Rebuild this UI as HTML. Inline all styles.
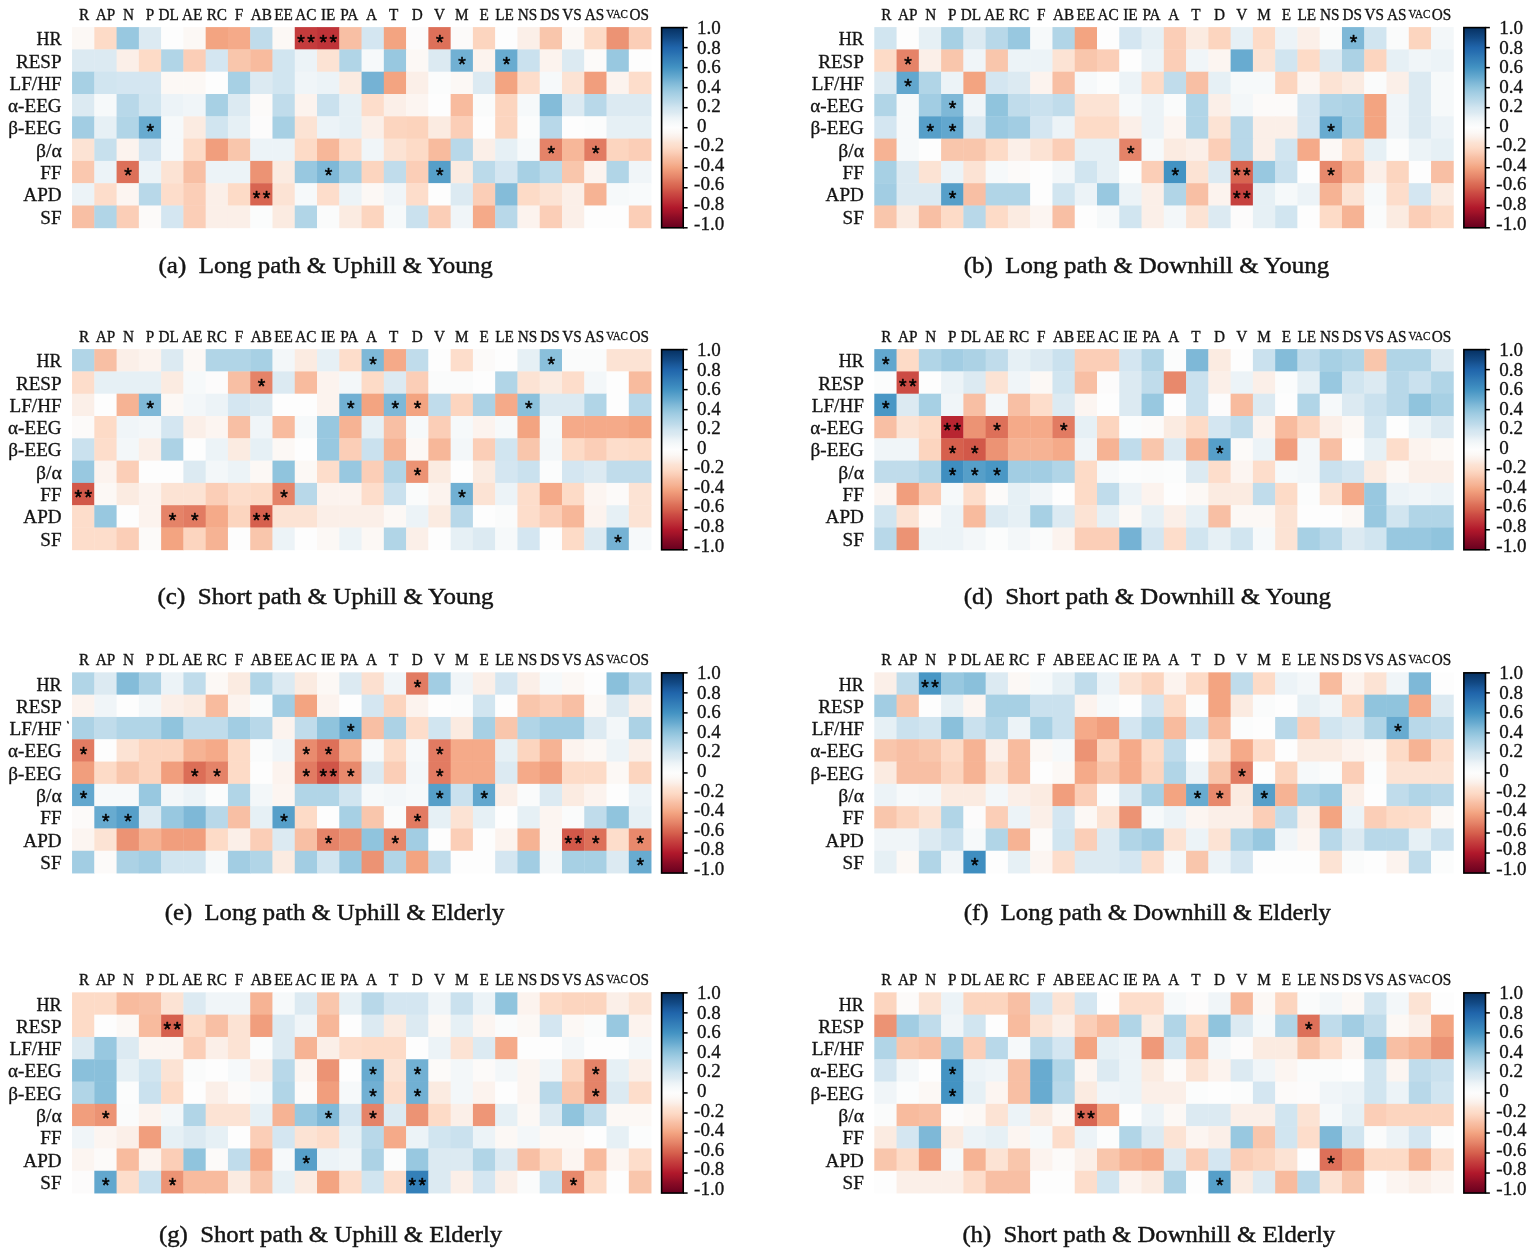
<!DOCTYPE html>
<html><head><meta charset="utf-8"><title>Correlation heatmaps</title>
<style>
html,body{margin:0;padding:0;background:#fff;}
body{width:1535px;height:1253px;overflow:hidden;position:relative;}
svg{position:absolute;left:0;top:0;}
text{font-family:"Liberation Serif","Times New Roman",serif;fill:#141414;}
.cl{stroke:#141414;stroke-width:0.35px;}
.rl{stroke:#141414;stroke-width:0.3px;}
.tl{stroke:#141414;stroke-width:0.3px;}
.cap{stroke:#141414;stroke-width:0.45px;}
.st{font-family:"Liberation Sans",Arial,sans-serif;font-size:19.4px;font-weight:normal;fill:#000;stroke:#000;stroke-width:0.55px;stroke-linejoin:round;}
</style></head><body>
<svg width="1535" height="1253" viewBox="0 0 1535 1253">
<defs><linearGradient id="cb" x1="0" y1="0" x2="0" y2="1">
<stop offset="0.000" stop-color="#053061"/>
<stop offset="0.025" stop-color="#0c3d73"/>
<stop offset="0.050" stop-color="#124984"/>
<stop offset="0.075" stop-color="#1a5899"/>
<stop offset="0.100" stop-color="#2065ab"/>
<stop offset="0.125" stop-color="#2870b1"/>
<stop offset="0.150" stop-color="#327cb7"/>
<stop offset="0.175" stop-color="#3a87bd"/>
<stop offset="0.200" stop-color="#4393c3"/>
<stop offset="0.225" stop-color="#569fc9"/>
<stop offset="0.250" stop-color="#68abd0"/>
<stop offset="0.275" stop-color="#7eb8d7"/>
<stop offset="0.300" stop-color="#90c4dd"/>
<stop offset="0.325" stop-color="#a2cde3"/>
<stop offset="0.350" stop-color="#b1d5e7"/>
<stop offset="0.375" stop-color="#c0dceb"/>
<stop offset="0.400" stop-color="#d1e5f0"/>
<stop offset="0.425" stop-color="#dceaf2"/>
<stop offset="0.450" stop-color="#ecf3f7"/>
<stop offset="0.475" stop-color="#f6f9fa"/>
<stop offset="0.500" stop-color="#fdfdfd"/>
<stop offset="0.525" stop-color="#fcf8f5"/>
<stop offset="0.550" stop-color="#fbefe8"/>
<stop offset="0.575" stop-color="#fce3d4"/>
<stop offset="0.600" stop-color="#fddbc7"/>
<stop offset="0.625" stop-color="#fbceb7"/>
<stop offset="0.650" stop-color="#f8bfa4"/>
<stop offset="0.675" stop-color="#f6b394"/>
<stop offset="0.700" stop-color="#f3a481"/>
<stop offset="0.725" stop-color="#ec9374"/>
<stop offset="0.750" stop-color="#e58368"/>
<stop offset="0.775" stop-color="#dd7059"/>
<stop offset="0.800" stop-color="#d6604d"/>
<stop offset="0.825" stop-color="#cc4c44"/>
<stop offset="0.850" stop-color="#c43b3c"/>
<stop offset="0.875" stop-color="#bb2a34"/>
<stop offset="0.900" stop-color="#b1182b"/>
<stop offset="0.925" stop-color="#9f1228"/>
<stop offset="0.950" stop-color="#8a0b25"/>
<stop offset="0.975" stop-color="#790622"/>
<stop offset="1.000" stop-color="#67001f"/>
</linearGradient></defs>
<rect x="0" y="0" width="1535" height="1253" fill="#ffffff"/>
<g><rect x="72.05" y="27.10" width="22.67" height="22.70" fill="#fcf8f5"/><rect x="94.32" y="27.10" width="22.67" height="22.70" fill="#fddbc7"/><rect x="116.59" y="27.10" width="22.67" height="22.70" fill="#98c8e0"/><rect x="138.86" y="27.10" width="22.67" height="22.70" fill="#dceaf2"/><rect x="161.13" y="27.10" width="22.67" height="22.70" fill="#fdfdfd"/><rect x="183.40" y="27.10" width="22.67" height="22.70" fill="#fcf8f5"/><rect x="205.67" y="27.10" width="22.67" height="22.70" fill="#f3a481"/><rect x="227.94" y="27.10" width="22.67" height="22.70" fill="#f5aa89"/><rect x="250.21" y="27.10" width="22.67" height="22.70" fill="#c0dceb"/><rect x="272.48" y="27.10" width="22.67" height="22.70" fill="#fcf8f5"/><rect x="294.75" y="27.10" width="22.67" height="22.70" fill="#c43b3c"/><rect x="317.02" y="27.10" width="22.67" height="22.70" fill="#bf3338"/><rect x="339.29" y="27.10" width="22.67" height="22.70" fill="#f8bfa4"/><rect x="361.56" y="27.10" width="22.67" height="22.70" fill="#d4e6f1"/><rect x="383.83" y="27.10" width="22.67" height="22.70" fill="#f3a481"/><rect x="406.10" y="27.10" width="22.67" height="22.70" fill="#fcfbfb"/><rect x="428.37" y="27.10" width="22.67" height="22.70" fill="#dd7059"/><rect x="450.64" y="27.10" width="22.67" height="22.70" fill="#fcfaf9"/><rect x="472.91" y="27.10" width="22.67" height="22.70" fill="#fcd5bf"/><rect x="495.18" y="27.10" width="22.67" height="22.70" fill="#fdfdfd"/><rect x="517.45" y="27.10" width="22.67" height="22.70" fill="#fbefe8"/><rect x="539.72" y="27.10" width="22.67" height="22.70" fill="#f9c6ac"/><rect x="561.99" y="27.10" width="22.67" height="22.70" fill="#fcf8f5"/><rect x="584.26" y="27.10" width="22.67" height="22.70" fill="#fddbc7"/><rect x="606.53" y="27.10" width="22.67" height="22.70" fill="#ec9374"/><rect x="628.80" y="27.10" width="22.67" height="22.70" fill="#fbceb7"/><rect x="72.05" y="49.40" width="22.67" height="22.70" fill="#dceaf2"/><rect x="94.32" y="49.40" width="22.67" height="22.70" fill="#dceaf2"/><rect x="116.59" y="49.40" width="22.67" height="22.70" fill="#fbefe8"/><rect x="138.86" y="49.40" width="22.67" height="22.70" fill="#fddbc7"/><rect x="161.13" y="49.40" width="22.67" height="22.70" fill="#b1d5e7"/><rect x="183.40" y="49.40" width="22.67" height="22.70" fill="#fbceb7"/><rect x="205.67" y="49.40" width="22.67" height="22.70" fill="#d4e6f1"/><rect x="227.94" y="49.40" width="22.67" height="22.70" fill="#f9c6ac"/><rect x="250.21" y="49.40" width="22.67" height="22.70" fill="#f8bb9e"/><rect x="272.48" y="49.40" width="22.67" height="22.70" fill="#d1e5f0"/><rect x="294.75" y="49.40" width="22.67" height="22.70" fill="#ecf3f7"/><rect x="317.02" y="49.40" width="22.67" height="22.70" fill="#fce3d4"/><rect x="339.29" y="49.40" width="22.67" height="22.70" fill="#b1d5e7"/><rect x="361.56" y="49.40" width="22.67" height="22.70" fill="#f6f9fa"/><rect x="383.83" y="49.40" width="22.67" height="22.70" fill="#98c8e0"/><rect x="406.10" y="49.40" width="22.67" height="22.70" fill="#fcf8f5"/><rect x="428.37" y="49.40" width="22.67" height="22.70" fill="#dceaf2"/><rect x="450.64" y="49.40" width="22.67" height="22.70" fill="#71b0d3"/><rect x="472.91" y="49.40" width="22.67" height="22.70" fill="#fcf3ee"/><rect x="495.18" y="49.40" width="22.67" height="22.70" fill="#68abd0"/><rect x="517.45" y="49.40" width="22.67" height="22.70" fill="#cae1ee"/><rect x="539.72" y="49.40" width="22.67" height="22.70" fill="#fcf3ee"/><rect x="561.99" y="49.40" width="22.67" height="22.70" fill="#dceaf2"/><rect x="584.26" y="49.40" width="22.67" height="22.70" fill="#fcfaf9"/><rect x="606.53" y="49.40" width="22.67" height="22.70" fill="#98c8e0"/><rect x="628.80" y="49.40" width="22.67" height="22.70" fill="#fdfdfd"/><rect x="72.05" y="71.70" width="22.67" height="22.70" fill="#a7d0e4"/><rect x="94.32" y="71.70" width="22.67" height="22.70" fill="#d1e5f0"/><rect x="116.59" y="71.70" width="22.67" height="22.70" fill="#d4e6f1"/><rect x="138.86" y="71.70" width="22.67" height="22.70" fill="#d4e6f1"/><rect x="161.13" y="71.70" width="22.67" height="22.70" fill="#fcf8f5"/><rect x="183.40" y="71.70" width="22.67" height="22.70" fill="#fcf8f5"/><rect x="205.67" y="71.70" width="22.67" height="22.70" fill="#fdfdfd"/><rect x="227.94" y="71.70" width="22.67" height="22.70" fill="#a7d0e4"/><rect x="250.21" y="71.70" width="22.67" height="22.70" fill="#dceaf2"/><rect x="272.48" y="71.70" width="22.67" height="22.70" fill="#d1e5f0"/><rect x="294.75" y="71.70" width="22.67" height="22.70" fill="#f0f5f8"/><rect x="317.02" y="71.70" width="22.67" height="22.70" fill="#ecf3f7"/><rect x="339.29" y="71.70" width="22.67" height="22.70" fill="#fbebe1"/><rect x="361.56" y="71.70" width="22.67" height="22.70" fill="#75b2d4"/><rect x="383.83" y="71.70" width="22.67" height="22.70" fill="#f3a481"/><rect x="406.10" y="71.70" width="22.67" height="22.70" fill="#fbefe8"/><rect x="428.37" y="71.70" width="22.67" height="22.70" fill="#fbfcfc"/><rect x="450.64" y="71.70" width="22.67" height="22.70" fill="#fcf8f5"/><rect x="472.91" y="71.70" width="22.67" height="22.70" fill="#dceaf2"/><rect x="495.18" y="71.70" width="22.67" height="22.70" fill="#f3a481"/><rect x="517.45" y="71.70" width="22.67" height="22.70" fill="#fdddcb"/><rect x="539.72" y="71.70" width="22.67" height="22.70" fill="#f6f9fa"/><rect x="561.99" y="71.70" width="22.67" height="22.70" fill="#fce3d4"/><rect x="584.26" y="71.70" width="22.67" height="22.70" fill="#f19e7d"/><rect x="606.53" y="71.70" width="22.67" height="22.70" fill="#fcf3ee"/><rect x="628.80" y="71.70" width="22.67" height="22.70" fill="#fdddcb"/><rect x="72.05" y="94.00" width="22.67" height="22.70" fill="#dceaf2"/><rect x="94.32" y="94.00" width="22.67" height="22.70" fill="#f6f9fa"/><rect x="116.59" y="94.00" width="22.67" height="22.70" fill="#b8d8e9"/><rect x="138.86" y="94.00" width="22.67" height="22.70" fill="#d1e5f0"/><rect x="161.13" y="94.00" width="22.67" height="22.70" fill="#ecf3f7"/><rect x="183.40" y="94.00" width="22.67" height="22.70" fill="#f0f5f8"/><rect x="205.67" y="94.00" width="22.67" height="22.70" fill="#a7d0e4"/><rect x="227.94" y="94.00" width="22.67" height="22.70" fill="#dceaf2"/><rect x="250.21" y="94.00" width="22.67" height="22.70" fill="#fcfaf9"/><rect x="272.48" y="94.00" width="22.67" height="22.70" fill="#c0dceb"/><rect x="294.75" y="94.00" width="22.67" height="22.70" fill="#fcf3ee"/><rect x="317.02" y="94.00" width="22.67" height="22.70" fill="#cae1ee"/><rect x="339.29" y="94.00" width="22.67" height="22.70" fill="#e6f0f5"/><rect x="361.56" y="94.00" width="22.67" height="22.70" fill="#fdddcb"/><rect x="383.83" y="94.00" width="22.67" height="22.70" fill="#fbefe8"/><rect x="406.10" y="94.00" width="22.67" height="22.70" fill="#fcf5f1"/><rect x="428.37" y="94.00" width="22.67" height="22.70" fill="#fdfdfd"/><rect x="450.64" y="94.00" width="22.67" height="22.70" fill="#f8bb9e"/><rect x="472.91" y="94.00" width="22.67" height="22.70" fill="#fafbfb"/><rect x="495.18" y="94.00" width="22.67" height="22.70" fill="#fcd5bf"/><rect x="517.45" y="94.00" width="22.67" height="22.70" fill="#f6f9fa"/><rect x="539.72" y="94.00" width="22.67" height="22.70" fill="#84bcd9"/><rect x="561.99" y="94.00" width="22.67" height="22.70" fill="#dceaf2"/><rect x="584.26" y="94.00" width="22.67" height="22.70" fill="#b8d8e9"/><rect x="606.53" y="94.00" width="22.67" height="22.70" fill="#dceaf2"/><rect x="628.80" y="94.00" width="22.67" height="22.70" fill="#dceaf2"/><rect x="72.05" y="116.30" width="22.67" height="22.70" fill="#a2cde3"/><rect x="94.32" y="116.30" width="22.67" height="22.70" fill="#e6f0f5"/><rect x="116.59" y="116.30" width="22.67" height="22.70" fill="#b1d5e7"/><rect x="138.86" y="116.30" width="22.67" height="22.70" fill="#68abd0"/><rect x="161.13" y="116.30" width="22.67" height="22.70" fill="#f6f9fa"/><rect x="183.40" y="116.30" width="22.67" height="22.70" fill="#fbebe1"/><rect x="205.67" y="116.30" width="22.67" height="22.70" fill="#d1e5f0"/><rect x="227.94" y="116.30" width="22.67" height="22.70" fill="#e6f0f5"/><rect x="250.21" y="116.30" width="22.67" height="22.70" fill="#fcfbfb"/><rect x="272.48" y="116.30" width="22.67" height="22.70" fill="#a7d0e4"/><rect x="294.75" y="116.30" width="22.67" height="22.70" fill="#fce3d4"/><rect x="317.02" y="116.30" width="22.67" height="22.70" fill="#ecf3f7"/><rect x="339.29" y="116.30" width="22.67" height="22.70" fill="#e6f0f5"/><rect x="361.56" y="116.30" width="22.67" height="22.70" fill="#fbefe8"/><rect x="383.83" y="116.30" width="22.67" height="22.70" fill="#fcd5bf"/><rect x="406.10" y="116.30" width="22.67" height="22.70" fill="#fcd3bc"/><rect x="428.37" y="116.30" width="22.67" height="22.70" fill="#fbebe1"/><rect x="450.64" y="116.30" width="22.67" height="22.70" fill="#fbceb7"/><rect x="472.91" y="116.30" width="22.67" height="22.70" fill="#fdfdfd"/><rect x="495.18" y="116.30" width="22.67" height="22.70" fill="#fcd5bf"/><rect x="517.45" y="116.30" width="22.67" height="22.70" fill="#fbfcfc"/><rect x="539.72" y="116.30" width="22.67" height="22.70" fill="#b8d8e9"/><rect x="561.99" y="116.30" width="22.67" height="22.70" fill="#fdfdfd"/><rect x="584.26" y="116.30" width="22.67" height="22.70" fill="#fbfcfc"/><rect x="606.53" y="116.30" width="22.67" height="22.70" fill="#e6f0f5"/><rect x="628.80" y="116.30" width="22.67" height="22.70" fill="#e6f0f5"/><rect x="72.05" y="138.60" width="22.67" height="22.70" fill="#fce3d4"/><rect x="94.32" y="138.60" width="22.67" height="22.70" fill="#c7e0ed"/><rect x="116.59" y="138.60" width="22.67" height="22.70" fill="#fcf3ee"/><rect x="138.86" y="138.60" width="22.67" height="22.70" fill="#d4e6f1"/><rect x="161.13" y="138.60" width="22.67" height="22.70" fill="#f6f9fa"/><rect x="183.40" y="138.60" width="22.67" height="22.70" fill="#fddbc7"/><rect x="205.67" y="138.60" width="22.67" height="22.70" fill="#f19e7d"/><rect x="227.94" y="138.60" width="22.67" height="22.70" fill="#f9c6ac"/><rect x="250.21" y="138.60" width="22.67" height="22.70" fill="#ecf3f7"/><rect x="272.48" y="138.60" width="22.67" height="22.70" fill="#ecf3f7"/><rect x="294.75" y="138.60" width="22.67" height="22.70" fill="#fddbc7"/><rect x="317.02" y="138.60" width="22.67" height="22.70" fill="#f7b799"/><rect x="339.29" y="138.60" width="22.67" height="22.70" fill="#fdddcb"/><rect x="361.56" y="138.60" width="22.67" height="22.70" fill="#f0f5f8"/><rect x="383.83" y="138.60" width="22.67" height="22.70" fill="#fce3d4"/><rect x="406.10" y="138.60" width="22.67" height="22.70" fill="#fddbc7"/><rect x="428.37" y="138.60" width="22.67" height="22.70" fill="#f8bb9e"/><rect x="450.64" y="138.60" width="22.67" height="22.70" fill="#b8d8e9"/><rect x="472.91" y="138.60" width="22.67" height="22.70" fill="#fbefe8"/><rect x="495.18" y="138.60" width="22.67" height="22.70" fill="#e6f0f5"/><rect x="517.45" y="138.60" width="22.67" height="22.70" fill="#f6f9fa"/><rect x="539.72" y="138.60" width="22.67" height="22.70" fill="#e58368"/><rect x="561.99" y="138.60" width="22.67" height="22.70" fill="#f7b799"/><rect x="584.26" y="138.60" width="22.67" height="22.70" fill="#e27b62"/><rect x="606.53" y="138.60" width="22.67" height="22.70" fill="#fcd5bf"/><rect x="628.80" y="138.60" width="22.67" height="22.70" fill="#fbceb7"/><rect x="72.05" y="160.90" width="22.67" height="22.70" fill="#fac8af"/><rect x="94.32" y="160.90" width="22.67" height="22.70" fill="#ecf3f7"/><rect x="116.59" y="160.90" width="22.67" height="22.70" fill="#dd7059"/><rect x="138.86" y="160.90" width="22.67" height="22.70" fill="#ecf3f7"/><rect x="161.13" y="160.90" width="22.67" height="22.70" fill="#fce3d4"/><rect x="183.40" y="160.90" width="22.67" height="22.70" fill="#f8bfa4"/><rect x="205.67" y="160.90" width="22.67" height="22.70" fill="#ecf3f7"/><rect x="227.94" y="160.90" width="22.67" height="22.70" fill="#ecf3f7"/><rect x="250.21" y="160.90" width="22.67" height="22.70" fill="#ec9374"/><rect x="272.48" y="160.90" width="22.67" height="22.70" fill="#fbebe1"/><rect x="294.75" y="160.90" width="22.67" height="22.70" fill="#98c8e0"/><rect x="317.02" y="160.90" width="22.67" height="22.70" fill="#7eb8d7"/><rect x="339.29" y="160.90" width="22.67" height="22.70" fill="#a7d0e4"/><rect x="361.56" y="160.90" width="22.67" height="22.70" fill="#fcd5bf"/><rect x="383.83" y="160.90" width="22.67" height="22.70" fill="#c0dceb"/><rect x="406.10" y="160.90" width="22.67" height="22.70" fill="#fbceb7"/><rect x="428.37" y="160.90" width="22.67" height="22.70" fill="#569fc9"/><rect x="450.64" y="160.90" width="22.67" height="22.70" fill="#fbebe1"/><rect x="472.91" y="160.90" width="22.67" height="22.70" fill="#bbdaea"/><rect x="495.18" y="160.90" width="22.67" height="22.70" fill="#d4e6f1"/><rect x="517.45" y="160.90" width="22.67" height="22.70" fill="#a7d0e4"/><rect x="539.72" y="160.90" width="22.67" height="22.70" fill="#bbdaea"/><rect x="561.99" y="160.90" width="22.67" height="22.70" fill="#f9c6ac"/><rect x="584.26" y="160.90" width="22.67" height="22.70" fill="#fcf3ee"/><rect x="606.53" y="160.90" width="22.67" height="22.70" fill="#b1d5e7"/><rect x="628.80" y="160.90" width="22.67" height="22.70" fill="#f0f5f8"/><rect x="72.05" y="183.20" width="22.67" height="22.70" fill="#ecf3f7"/><rect x="94.32" y="183.20" width="22.67" height="22.70" fill="#fdddcb"/><rect x="116.59" y="183.20" width="22.67" height="22.70" fill="#fcf5f1"/><rect x="138.86" y="183.20" width="22.67" height="22.70" fill="#b8d8e9"/><rect x="161.13" y="183.20" width="22.67" height="22.70" fill="#fdddcb"/><rect x="183.40" y="183.20" width="22.67" height="22.70" fill="#fbceb7"/><rect x="205.67" y="183.20" width="22.67" height="22.70" fill="#fbefe8"/><rect x="227.94" y="183.20" width="22.67" height="22.70" fill="#fddbc7"/><rect x="250.21" y="183.20" width="22.67" height="22.70" fill="#d86551"/><rect x="272.48" y="183.20" width="22.67" height="22.70" fill="#fce3d4"/><rect x="294.75" y="183.20" width="22.67" height="22.70" fill="#f6f9fa"/><rect x="317.02" y="183.20" width="22.67" height="22.70" fill="#fdddcb"/><rect x="339.29" y="183.20" width="22.67" height="22.70" fill="#ecf3f7"/><rect x="361.56" y="183.20" width="22.67" height="22.70" fill="#fcf8f5"/><rect x="383.83" y="183.20" width="22.67" height="22.70" fill="#f0f5f8"/><rect x="406.10" y="183.20" width="22.67" height="22.70" fill="#fdddcb"/><rect x="428.37" y="183.20" width="22.67" height="22.70" fill="#fdfdfd"/><rect x="450.64" y="183.20" width="22.67" height="22.70" fill="#dceaf2"/><rect x="472.91" y="183.20" width="22.67" height="22.70" fill="#fbceb7"/><rect x="495.18" y="183.20" width="22.67" height="22.70" fill="#84bcd9"/><rect x="517.45" y="183.20" width="22.67" height="22.70" fill="#fddbc7"/><rect x="539.72" y="183.20" width="22.67" height="22.70" fill="#fce3d4"/><rect x="561.99" y="183.20" width="22.67" height="22.70" fill="#fbefe8"/><rect x="584.26" y="183.20" width="22.67" height="22.70" fill="#f6b394"/><rect x="606.53" y="183.20" width="22.67" height="22.70" fill="#f6f9fa"/><rect x="628.80" y="183.20" width="22.67" height="22.70" fill="#f8fafb"/><rect x="72.05" y="205.50" width="22.67" height="22.70" fill="#f8bfa4"/><rect x="94.32" y="205.50" width="22.67" height="22.70" fill="#b1d5e7"/><rect x="116.59" y="205.50" width="22.67" height="22.70" fill="#fbceb7"/><rect x="138.86" y="205.50" width="22.67" height="22.70" fill="#fcfaf9"/><rect x="161.13" y="205.50" width="22.67" height="22.70" fill="#d4e6f1"/><rect x="183.40" y="205.50" width="22.67" height="22.70" fill="#fbceb7"/><rect x="205.67" y="205.50" width="22.67" height="22.70" fill="#fbefe8"/><rect x="227.94" y="205.50" width="22.67" height="22.70" fill="#fbefe8"/><rect x="250.21" y="205.50" width="22.67" height="22.70" fill="#fbfcfc"/><rect x="272.48" y="205.50" width="22.67" height="22.70" fill="#fbebe1"/><rect x="294.75" y="205.50" width="22.67" height="22.70" fill="#b1d5e7"/><rect x="317.02" y="205.50" width="22.67" height="22.70" fill="#fafbfb"/><rect x="339.29" y="205.50" width="22.67" height="22.70" fill="#fbebe1"/><rect x="361.56" y="205.50" width="22.67" height="22.70" fill="#fcd5bf"/><rect x="383.83" y="205.50" width="22.67" height="22.70" fill="#f6f9fa"/><rect x="406.10" y="205.50" width="22.67" height="22.70" fill="#cae1ee"/><rect x="428.37" y="205.50" width="22.67" height="22.70" fill="#fbceb7"/><rect x="450.64" y="205.50" width="22.67" height="22.70" fill="#f0f5f8"/><rect x="472.91" y="205.50" width="22.67" height="22.70" fill="#f5aa89"/><rect x="495.18" y="205.50" width="22.67" height="22.70" fill="#b8d8e9"/><rect x="517.45" y="205.50" width="22.67" height="22.70" fill="#fcf3ee"/><rect x="539.72" y="205.50" width="22.67" height="22.70" fill="#fbceb7"/><rect x="561.99" y="205.50" width="22.67" height="22.70" fill="#fbefe8"/><rect x="584.26" y="205.50" width="22.67" height="22.70" fill="#fdfdfd"/><rect x="606.53" y="205.50" width="22.67" height="22.70" fill="#fdfdfd"/><rect x="628.80" y="205.50" width="22.67" height="22.70" fill="#fbceb7"/><text class="st" x="300.99" y="48.55" text-anchor="middle">*</text><text class="st" x="310.99" y="48.55" text-anchor="middle">*</text><text class="st" x="323.26" y="48.55" text-anchor="middle">*</text><text class="st" x="333.26" y="48.55" text-anchor="middle">*</text><text class="st" x="439.81" y="48.55" text-anchor="middle">*</text><text class="st" x="462.07" y="70.85" text-anchor="middle">*</text><text class="st" x="506.62" y="70.85" text-anchor="middle">*</text><text class="st" x="150.30" y="137.75" text-anchor="middle">*</text><text class="st" x="551.15" y="160.05" text-anchor="middle">*</text><text class="st" x="595.69" y="160.05" text-anchor="middle">*</text><text class="st" x="128.03" y="182.35" text-anchor="middle">*</text><text class="st" x="328.46" y="182.35" text-anchor="middle">*</text><text class="st" x="439.81" y="182.35" text-anchor="middle">*</text><text class="st" x="256.44" y="204.65" text-anchor="middle">*</text><text class="st" x="266.44" y="204.65" text-anchor="middle">*</text><text class="cl" x="83.98" y="19.90" style="font-size:16.40px" text-anchor="middle" textLength="10.17" lengthAdjust="spacingAndGlyphs">R</text><text class="cl" x="105.45" y="19.90" style="font-size:16.40px" text-anchor="middle" textLength="19.50" lengthAdjust="spacingAndGlyphs">AP</text><text class="cl" x="128.53" y="19.90" style="font-size:16.40px" text-anchor="middle" textLength="11.01" lengthAdjust="spacingAndGlyphs">N</text><text class="cl" x="150.00" y="19.90" style="font-size:16.40px" text-anchor="middle" textLength="8.48" lengthAdjust="spacingAndGlyphs">P</text><text class="cl" x="168.76" y="19.90" style="font-size:16.40px" text-anchor="middle" textLength="20.33" lengthAdjust="spacingAndGlyphs">DL</text><text class="cl" x="192.13" y="19.90" style="font-size:16.40px" text-anchor="middle" textLength="20.33" lengthAdjust="spacingAndGlyphs">AE</text><text class="cl" x="216.81" y="19.90" style="font-size:16.40px" text-anchor="middle" textLength="20.35" lengthAdjust="spacingAndGlyphs">RC</text><text class="cl" x="239.07" y="19.90" style="font-size:16.40px" text-anchor="middle" textLength="8.48" lengthAdjust="spacingAndGlyphs">F</text><text class="cl" x="261.34" y="19.90" style="font-size:16.40px" text-anchor="middle" textLength="21.19" lengthAdjust="spacingAndGlyphs">AB</text><text class="cl" x="283.62" y="19.90" style="font-size:16.40px" text-anchor="middle" textLength="18.63" lengthAdjust="spacingAndGlyphs">EE</text><text class="cl" x="305.88" y="19.90" style="font-size:16.40px" text-anchor="middle" textLength="21.19" lengthAdjust="spacingAndGlyphs">AC</text><text class="cl" x="328.16" y="19.90" style="font-size:16.40px" text-anchor="middle" textLength="14.40" lengthAdjust="spacingAndGlyphs">IE</text><text class="cl" x="349.23" y="19.90" style="font-size:16.40px" text-anchor="middle" textLength="18.10" lengthAdjust="spacingAndGlyphs">PA</text><text class="cl" x="371.50" y="19.90" style="font-size:16.40px" text-anchor="middle" textLength="11.01" lengthAdjust="spacingAndGlyphs">A</text><text class="cl" x="393.77" y="19.90" style="font-size:16.40px" text-anchor="middle" textLength="9.32" lengthAdjust="spacingAndGlyphs">T</text><text class="cl" x="417.24" y="19.90" style="font-size:16.40px" text-anchor="middle" textLength="11.01" lengthAdjust="spacingAndGlyphs">D</text><text class="cl" x="439.50" y="19.90" style="font-size:16.40px" text-anchor="middle" textLength="11.01" lengthAdjust="spacingAndGlyphs">V</text><text class="cl" x="461.77" y="19.90" style="font-size:16.40px" text-anchor="middle" textLength="13.56" lengthAdjust="spacingAndGlyphs">M</text><text class="cl" x="484.05" y="19.90" style="font-size:16.40px" text-anchor="middle" textLength="9.32" lengthAdjust="spacingAndGlyphs">E</text><text class="cl" x="504.51" y="19.90" style="font-size:16.40px" text-anchor="middle" textLength="18.63" lengthAdjust="spacingAndGlyphs">LE</text><text class="cl" x="527.38" y="19.90" style="font-size:16.40px" text-anchor="middle" textLength="19.50" lengthAdjust="spacingAndGlyphs">NS</text><text class="cl" x="550.06" y="19.90" style="font-size:16.40px" text-anchor="middle" textLength="19.50" lengthAdjust="spacingAndGlyphs">DS</text><text class="cl" x="571.92" y="19.90" style="font-size:16.40px" text-anchor="middle" textLength="19.50" lengthAdjust="spacingAndGlyphs">VS</text><text class="cl" x="594.60" y="19.90" style="font-size:16.40px" text-anchor="middle" textLength="19.50" lengthAdjust="spacingAndGlyphs">AS</text><text class="cl" x="617.06" y="18.20" style="font-size:12.80px" text-anchor="middle" textLength="21.82" lengthAdjust="spacingAndGlyphs">VAC</text><text class="cl" x="639.33" y="19.90" style="font-size:16.40px" text-anchor="middle" textLength="19.50" lengthAdjust="spacingAndGlyphs">OS</text><text class="rl" x="61.65" y="45.25" style="font-size:18.30px" text-anchor="end" textLength="25.17" lengthAdjust="spacingAndGlyphs">HR</text><text class="rl" x="61.65" y="67.55" style="font-size:18.30px" text-anchor="end" textLength="45.71" lengthAdjust="spacingAndGlyphs">RESP</text><text class="rl" x="61.65" y="89.85" style="font-size:18.30px" text-anchor="end" textLength="52.08" lengthAdjust="spacingAndGlyphs">LF/HF</text><text class="rl" x="61.65" y="112.15" style="font-size:18.30px" text-anchor="end" textLength="53.56" lengthAdjust="spacingAndGlyphs">α-EEG</text><text class="rl" x="61.65" y="134.45" style="font-size:18.30px" text-anchor="end" textLength="53.27" lengthAdjust="spacingAndGlyphs">β-EEG</text><text class="rl" x="61.65" y="156.75" style="font-size:18.30px" text-anchor="end" textLength="25.66" lengthAdjust="spacingAndGlyphs">β/α</text><text class="rl" x="61.65" y="179.05" style="font-size:18.30px" text-anchor="end" textLength="21.27" lengthAdjust="spacingAndGlyphs">FF</text><text class="rl" x="61.65" y="201.35" style="font-size:18.30px" text-anchor="end" textLength="38.26" lengthAdjust="spacingAndGlyphs">APD</text><text class="rl" x="61.65" y="223.65" style="font-size:18.30px" text-anchor="end" textLength="21.27" lengthAdjust="spacingAndGlyphs">SF</text><rect x="661.62" y="27.60" width="21.6" height="200.20" fill="url(#cb)" stroke="#000" stroke-width="1.6"/><line x1="683.22" x2="687.62" y1="27.60" y2="27.60" stroke="#000" stroke-width="1.5"/><text class="tl" x="696.92" y="34.00" style="font-size:18.30px" textLength="23.79" lengthAdjust="spacingAndGlyphs">1.0</text><line x1="683.22" x2="687.62" y1="47.62" y2="47.62" stroke="#000" stroke-width="1.5"/><text class="tl" x="696.92" y="53.55" style="font-size:18.30px" textLength="23.79" lengthAdjust="spacingAndGlyphs">0.8</text><line x1="683.22" x2="687.62" y1="67.64" y2="67.64" stroke="#000" stroke-width="1.5"/><text class="tl" x="696.92" y="73.10" style="font-size:18.30px" textLength="23.79" lengthAdjust="spacingAndGlyphs">0.6</text><line x1="683.22" x2="687.62" y1="87.66" y2="87.66" stroke="#000" stroke-width="1.5"/><text class="tl" x="696.92" y="92.65" style="font-size:18.30px" textLength="23.79" lengthAdjust="spacingAndGlyphs">0.4</text><line x1="683.22" x2="687.62" y1="107.68" y2="107.68" stroke="#000" stroke-width="1.5"/><text class="tl" x="696.92" y="112.20" style="font-size:18.30px" textLength="23.79" lengthAdjust="spacingAndGlyphs">0.2</text><line x1="683.22" x2="687.62" y1="127.70" y2="127.70" stroke="#000" stroke-width="1.5"/><text class="tl" x="696.92" y="131.75" style="font-size:18.30px" textLength="9.52" lengthAdjust="spacingAndGlyphs">0</text><line x1="683.22" x2="687.62" y1="147.72" y2="147.72" stroke="#000" stroke-width="1.5"/><text class="tl" x="694.12" y="151.30" style="font-size:18.30px" textLength="30.13" lengthAdjust="spacingAndGlyphs">-0.2</text><line x1="683.22" x2="687.62" y1="167.74" y2="167.74" stroke="#000" stroke-width="1.5"/><text class="tl" x="694.12" y="170.85" style="font-size:18.30px" textLength="30.13" lengthAdjust="spacingAndGlyphs">-0.4</text><line x1="683.22" x2="687.62" y1="187.76" y2="187.76" stroke="#000" stroke-width="1.5"/><text class="tl" x="694.12" y="190.40" style="font-size:18.30px" textLength="30.13" lengthAdjust="spacingAndGlyphs">-0.6</text><line x1="683.22" x2="687.62" y1="207.78" y2="207.78" stroke="#000" stroke-width="1.5"/><text class="tl" x="694.12" y="209.95" style="font-size:18.30px" textLength="30.13" lengthAdjust="spacingAndGlyphs">-0.8</text><line x1="683.22" x2="687.62" y1="227.80" y2="227.80" stroke="#000" stroke-width="1.5"/><text class="tl" x="694.12" y="229.50" style="font-size:18.30px" textLength="30.13" lengthAdjust="spacingAndGlyphs">-1.0</text><text class="cap" x="158.50" y="272.90" style="font-size:23.8px" textLength="334.30" lengthAdjust="spacingAndGlyphs">(a)  Long path &amp; Uphill &amp; Young</text></g>
<g><rect x="874.30" y="27.10" width="22.67" height="22.70" fill="#d1e5f0"/><rect x="896.57" y="27.10" width="22.67" height="22.70" fill="#fdfdfd"/><rect x="918.84" y="27.10" width="22.67" height="22.70" fill="#e6f0f5"/><rect x="941.11" y="27.10" width="22.67" height="22.70" fill="#a7d0e4"/><rect x="963.38" y="27.10" width="22.67" height="22.70" fill="#dceaf2"/><rect x="985.65" y="27.10" width="22.67" height="22.70" fill="#b8d8e9"/><rect x="1007.92" y="27.10" width="22.67" height="22.70" fill="#98c8e0"/><rect x="1030.19" y="27.10" width="22.67" height="22.70" fill="#f6f9fa"/><rect x="1052.46" y="27.10" width="22.67" height="22.70" fill="#b1d5e7"/><rect x="1074.73" y="27.10" width="22.67" height="22.70" fill="#f3a481"/><rect x="1097.00" y="27.10" width="22.67" height="22.70" fill="#fdfdfd"/><rect x="1119.27" y="27.10" width="22.67" height="22.70" fill="#d4e6f1"/><rect x="1141.54" y="27.10" width="22.67" height="22.70" fill="#e6f0f5"/><rect x="1163.81" y="27.10" width="22.67" height="22.70" fill="#fbceb7"/><rect x="1186.08" y="27.10" width="22.67" height="22.70" fill="#fbebe1"/><rect x="1208.35" y="27.10" width="22.67" height="22.70" fill="#fcd5bf"/><rect x="1230.62" y="27.10" width="22.67" height="22.70" fill="#e6f0f5"/><rect x="1252.89" y="27.10" width="22.67" height="22.70" fill="#fddbc7"/><rect x="1275.16" y="27.10" width="22.67" height="22.70" fill="#ecf3f7"/><rect x="1297.43" y="27.10" width="22.67" height="22.70" fill="#fbefe8"/><rect x="1319.70" y="27.10" width="22.67" height="22.70" fill="#fafbfb"/><rect x="1341.97" y="27.10" width="22.67" height="22.70" fill="#7eb8d7"/><rect x="1364.24" y="27.10" width="22.67" height="22.70" fill="#d1e5f0"/><rect x="1386.51" y="27.10" width="22.67" height="22.70" fill="#fafbfb"/><rect x="1408.78" y="27.10" width="22.67" height="22.70" fill="#fcd5bf"/><rect x="1431.05" y="27.10" width="22.67" height="22.70" fill="#f3f7f9"/><rect x="874.30" y="49.40" width="22.67" height="22.70" fill="#fddbc7"/><rect x="896.57" y="49.40" width="22.67" height="22.70" fill="#e58368"/><rect x="918.84" y="49.40" width="22.67" height="22.70" fill="#fbefe8"/><rect x="941.11" y="49.40" width="22.67" height="22.70" fill="#f9c6ac"/><rect x="963.38" y="49.40" width="22.67" height="22.70" fill="#f0f5f8"/><rect x="985.65" y="49.40" width="22.67" height="22.70" fill="#f9c6ac"/><rect x="1007.92" y="49.40" width="22.67" height="22.70" fill="#ecf3f7"/><rect x="1030.19" y="49.40" width="22.67" height="22.70" fill="#ecf3f7"/><rect x="1052.46" y="49.40" width="22.67" height="22.70" fill="#fce3d4"/><rect x="1074.73" y="49.40" width="22.67" height="22.70" fill="#f9c6ac"/><rect x="1097.00" y="49.40" width="22.67" height="22.70" fill="#fbceb7"/><rect x="1119.27" y="49.40" width="22.67" height="22.70" fill="#fdfdfd"/><rect x="1141.54" y="49.40" width="22.67" height="22.70" fill="#ecf3f7"/><rect x="1163.81" y="49.40" width="22.67" height="22.70" fill="#fbceb7"/><rect x="1186.08" y="49.40" width="22.67" height="22.70" fill="#f0f5f8"/><rect x="1208.35" y="49.40" width="22.67" height="22.70" fill="#fcf5f1"/><rect x="1230.62" y="49.40" width="22.67" height="22.70" fill="#68abd0"/><rect x="1252.89" y="49.40" width="22.67" height="22.70" fill="#fce3d4"/><rect x="1275.16" y="49.40" width="22.67" height="22.70" fill="#d1e5f0"/><rect x="1297.43" y="49.40" width="22.67" height="22.70" fill="#fddbc7"/><rect x="1319.70" y="49.40" width="22.67" height="22.70" fill="#dceaf2"/><rect x="1341.97" y="49.40" width="22.67" height="22.70" fill="#acd2e5"/><rect x="1364.24" y="49.40" width="22.67" height="22.70" fill="#fcd5bf"/><rect x="1386.51" y="49.40" width="22.67" height="22.70" fill="#e6f0f5"/><rect x="1408.78" y="49.40" width="22.67" height="22.70" fill="#f0f5f8"/><rect x="1431.05" y="49.40" width="22.67" height="22.70" fill="#ecf3f7"/><rect x="874.30" y="71.70" width="22.67" height="22.70" fill="#dceaf2"/><rect x="896.57" y="71.70" width="22.67" height="22.70" fill="#62a7ce"/><rect x="918.84" y="71.70" width="22.67" height="22.70" fill="#b1d5e7"/><rect x="941.11" y="71.70" width="22.67" height="22.70" fill="#ecf3f7"/><rect x="963.38" y="71.70" width="22.67" height="22.70" fill="#f3a481"/><rect x="985.65" y="71.70" width="22.67" height="22.70" fill="#d4e6f1"/><rect x="1007.92" y="71.70" width="22.67" height="22.70" fill="#dceaf2"/><rect x="1030.19" y="71.70" width="22.67" height="22.70" fill="#fcf3ee"/><rect x="1052.46" y="71.70" width="22.67" height="22.70" fill="#f8bfa4"/><rect x="1074.73" y="71.70" width="22.67" height="22.70" fill="#f6f9fa"/><rect x="1097.00" y="71.70" width="22.67" height="22.70" fill="#fbfcfc"/><rect x="1119.27" y="71.70" width="22.67" height="22.70" fill="#ecf3f7"/><rect x="1141.54" y="71.70" width="22.67" height="22.70" fill="#fddbc7"/><rect x="1163.81" y="71.70" width="22.67" height="22.70" fill="#c0dceb"/><rect x="1186.08" y="71.70" width="22.67" height="22.70" fill="#f8bfa4"/><rect x="1208.35" y="71.70" width="22.67" height="22.70" fill="#e6f0f5"/><rect x="1230.62" y="71.70" width="22.67" height="22.70" fill="#f6f9fa"/><rect x="1252.89" y="71.70" width="22.67" height="22.70" fill="#f6f9fa"/><rect x="1275.16" y="71.70" width="22.67" height="22.70" fill="#fcd5bf"/><rect x="1297.43" y="71.70" width="22.67" height="22.70" fill="#fcf5f1"/><rect x="1319.70" y="71.70" width="22.67" height="22.70" fill="#fce3d4"/><rect x="1341.97" y="71.70" width="22.67" height="22.70" fill="#fbebe1"/><rect x="1364.24" y="71.70" width="22.67" height="22.70" fill="#fafbfb"/><rect x="1386.51" y="71.70" width="22.67" height="22.70" fill="#fbefe8"/><rect x="1408.78" y="71.70" width="22.67" height="22.70" fill="#dceaf2"/><rect x="1431.05" y="71.70" width="22.67" height="22.70" fill="#f6f9fa"/><rect x="874.30" y="94.00" width="22.67" height="22.70" fill="#b1d5e7"/><rect x="896.57" y="94.00" width="22.67" height="22.70" fill="#f6f9fa"/><rect x="918.84" y="94.00" width="22.67" height="22.70" fill="#a2cde3"/><rect x="941.11" y="94.00" width="22.67" height="22.70" fill="#7eb8d7"/><rect x="963.38" y="94.00" width="22.67" height="22.70" fill="#f0f5f8"/><rect x="985.65" y="94.00" width="22.67" height="22.70" fill="#90c4dd"/><rect x="1007.92" y="94.00" width="22.67" height="22.70" fill="#c0dceb"/><rect x="1030.19" y="94.00" width="22.67" height="22.70" fill="#cae1ee"/><rect x="1052.46" y="94.00" width="22.67" height="22.70" fill="#c0dceb"/><rect x="1074.73" y="94.00" width="22.67" height="22.70" fill="#fce3d4"/><rect x="1097.00" y="94.00" width="22.67" height="22.70" fill="#fce3d4"/><rect x="1119.27" y="94.00" width="22.67" height="22.70" fill="#f6f9fa"/><rect x="1141.54" y="94.00" width="22.67" height="22.70" fill="#ecf3f7"/><rect x="1163.81" y="94.00" width="22.67" height="22.70" fill="#fafbfb"/><rect x="1186.08" y="94.00" width="22.67" height="22.70" fill="#b1d5e7"/><rect x="1208.35" y="94.00" width="22.67" height="22.70" fill="#fbefe8"/><rect x="1230.62" y="94.00" width="22.67" height="22.70" fill="#f3f7f9"/><rect x="1252.89" y="94.00" width="22.67" height="22.70" fill="#fcfaf9"/><rect x="1275.16" y="94.00" width="22.67" height="22.70" fill="#fcfaf9"/><rect x="1297.43" y="94.00" width="22.67" height="22.70" fill="#d4e6f1"/><rect x="1319.70" y="94.00" width="22.67" height="22.70" fill="#b1d5e7"/><rect x="1341.97" y="94.00" width="22.67" height="22.70" fill="#acd2e5"/><rect x="1364.24" y="94.00" width="22.67" height="22.70" fill="#f3a481"/><rect x="1386.51" y="94.00" width="22.67" height="22.70" fill="#f0f5f8"/><rect x="1408.78" y="94.00" width="22.67" height="22.70" fill="#dceaf2"/><rect x="1431.05" y="94.00" width="22.67" height="22.70" fill="#f6f9fa"/><rect x="874.30" y="116.30" width="22.67" height="22.70" fill="#d4e6f1"/><rect x="896.57" y="116.30" width="22.67" height="22.70" fill="#f6f9fa"/><rect x="918.84" y="116.30" width="22.67" height="22.70" fill="#569fc9"/><rect x="941.11" y="116.30" width="22.67" height="22.70" fill="#62a7ce"/><rect x="963.38" y="116.30" width="22.67" height="22.70" fill="#dceaf2"/><rect x="985.65" y="116.30" width="22.67" height="22.70" fill="#98c8e0"/><rect x="1007.92" y="116.30" width="22.67" height="22.70" fill="#a2cde3"/><rect x="1030.19" y="116.30" width="22.67" height="22.70" fill="#d4e6f1"/><rect x="1052.46" y="116.30" width="22.67" height="22.70" fill="#ecf3f7"/><rect x="1074.73" y="116.30" width="22.67" height="22.70" fill="#fddbc7"/><rect x="1097.00" y="116.30" width="22.67" height="22.70" fill="#fddbc7"/><rect x="1119.27" y="116.30" width="22.67" height="22.70" fill="#fbefe8"/><rect x="1141.54" y="116.30" width="22.67" height="22.70" fill="#ecf3f7"/><rect x="1163.81" y="116.30" width="22.67" height="22.70" fill="#fcf5f1"/><rect x="1186.08" y="116.30" width="22.67" height="22.70" fill="#b1d5e7"/><rect x="1208.35" y="116.30" width="22.67" height="22.70" fill="#fce3d4"/><rect x="1230.62" y="116.30" width="22.67" height="22.70" fill="#b8d8e9"/><rect x="1252.89" y="116.30" width="22.67" height="22.70" fill="#fbefe8"/><rect x="1275.16" y="116.30" width="22.67" height="22.70" fill="#fbefe8"/><rect x="1297.43" y="116.30" width="22.67" height="22.70" fill="#d4e6f1"/><rect x="1319.70" y="116.30" width="22.67" height="22.70" fill="#68abd0"/><rect x="1341.97" y="116.30" width="22.67" height="22.70" fill="#a7d0e4"/><rect x="1364.24" y="116.30" width="22.67" height="22.70" fill="#f3a481"/><rect x="1386.51" y="116.30" width="22.67" height="22.70" fill="#f0f5f8"/><rect x="1408.78" y="116.30" width="22.67" height="22.70" fill="#dceaf2"/><rect x="1431.05" y="116.30" width="22.67" height="22.70" fill="#ecf3f7"/><rect x="874.30" y="138.60" width="22.67" height="22.70" fill="#f6b394"/><rect x="896.57" y="138.60" width="22.67" height="22.70" fill="#f6f9fa"/><rect x="918.84" y="138.60" width="22.67" height="22.70" fill="#fdfdfd"/><rect x="941.11" y="138.60" width="22.67" height="22.70" fill="#f9c6ac"/><rect x="963.38" y="138.60" width="22.67" height="22.70" fill="#f9c6ac"/><rect x="985.65" y="138.60" width="22.67" height="22.70" fill="#fddbc7"/><rect x="1007.92" y="138.60" width="22.67" height="22.70" fill="#fbefe8"/><rect x="1030.19" y="138.60" width="22.67" height="22.70" fill="#fce3d4"/><rect x="1052.46" y="138.60" width="22.67" height="22.70" fill="#fbceb7"/><rect x="1074.73" y="138.60" width="22.67" height="22.70" fill="#e6f0f5"/><rect x="1097.00" y="138.60" width="22.67" height="22.70" fill="#e6f0f5"/><rect x="1119.27" y="138.60" width="22.67" height="22.70" fill="#e58368"/><rect x="1141.54" y="138.60" width="22.67" height="22.70" fill="#f6f9fa"/><rect x="1163.81" y="138.60" width="22.67" height="22.70" fill="#fbebe1"/><rect x="1186.08" y="138.60" width="22.67" height="22.70" fill="#fbefe8"/><rect x="1208.35" y="138.60" width="22.67" height="22.70" fill="#fbceb7"/><rect x="1230.62" y="138.60" width="22.67" height="22.70" fill="#b8d8e9"/><rect x="1252.89" y="138.60" width="22.67" height="22.70" fill="#fbefe8"/><rect x="1275.16" y="138.60" width="22.67" height="22.70" fill="#d1e5f0"/><rect x="1297.43" y="138.60" width="22.67" height="22.70" fill="#f5aa89"/><rect x="1319.70" y="138.60" width="22.67" height="22.70" fill="#fcf8f5"/><rect x="1341.97" y="138.60" width="22.67" height="22.70" fill="#fddbc7"/><rect x="1364.24" y="138.60" width="22.67" height="22.70" fill="#e6f0f5"/><rect x="1386.51" y="138.60" width="22.67" height="22.70" fill="#fbfcfc"/><rect x="1408.78" y="138.60" width="22.67" height="22.70" fill="#ecf3f7"/><rect x="1431.05" y="138.60" width="22.67" height="22.70" fill="#e6f0f5"/><rect x="874.30" y="160.90" width="22.67" height="22.70" fill="#a7d0e4"/><rect x="896.57" y="160.90" width="22.67" height="22.70" fill="#dceaf2"/><rect x="918.84" y="160.90" width="22.67" height="22.70" fill="#fce3d4"/><rect x="941.11" y="160.90" width="22.67" height="22.70" fill="#ecf3f7"/><rect x="963.38" y="160.90" width="22.67" height="22.70" fill="#fce3d4"/><rect x="985.65" y="160.90" width="22.67" height="22.70" fill="#f6f9fa"/><rect x="1007.92" y="160.90" width="22.67" height="22.70" fill="#fcfaf9"/><rect x="1030.19" y="160.90" width="22.67" height="22.70" fill="#fdfdfd"/><rect x="1052.46" y="160.90" width="22.67" height="22.70" fill="#f3f7f9"/><rect x="1074.73" y="160.90" width="22.67" height="22.70" fill="#d1e5f0"/><rect x="1097.00" y="160.90" width="22.67" height="22.70" fill="#e6f0f5"/><rect x="1119.27" y="160.90" width="22.67" height="22.70" fill="#fbfcfc"/><rect x="1141.54" y="160.90" width="22.67" height="22.70" fill="#fbceb7"/><rect x="1163.81" y="160.90" width="22.67" height="22.70" fill="#4393c3"/><rect x="1186.08" y="160.90" width="22.67" height="22.70" fill="#fce3d4"/><rect x="1208.35" y="160.90" width="22.67" height="22.70" fill="#dceaf2"/><rect x="1230.62" y="160.90" width="22.67" height="22.70" fill="#d86551"/><rect x="1252.89" y="160.90" width="22.67" height="22.70" fill="#98c8e0"/><rect x="1275.16" y="160.90" width="22.67" height="22.70" fill="#cae1ee"/><rect x="1297.43" y="160.90" width="22.67" height="22.70" fill="#fdfdfd"/><rect x="1319.70" y="160.90" width="22.67" height="22.70" fill="#e8896c"/><rect x="1341.97" y="160.90" width="22.67" height="22.70" fill="#f8bb9e"/><rect x="1364.24" y="160.90" width="22.67" height="22.70" fill="#fbefe8"/><rect x="1386.51" y="160.90" width="22.67" height="22.70" fill="#fcd5bf"/><rect x="1408.78" y="160.90" width="22.67" height="22.70" fill="#fdfdfd"/><rect x="1431.05" y="160.90" width="22.67" height="22.70" fill="#f8bfa4"/><rect x="874.30" y="183.20" width="22.67" height="22.70" fill="#a2cde3"/><rect x="896.57" y="183.20" width="22.67" height="22.70" fill="#dceaf2"/><rect x="918.84" y="183.20" width="22.67" height="22.70" fill="#dceaf2"/><rect x="941.11" y="183.20" width="22.67" height="22.70" fill="#569fc9"/><rect x="963.38" y="183.20" width="22.67" height="22.70" fill="#f8bfa4"/><rect x="985.65" y="183.20" width="22.67" height="22.70" fill="#b1d5e7"/><rect x="1007.92" y="183.20" width="22.67" height="22.70" fill="#b1d5e7"/><rect x="1030.19" y="183.20" width="22.67" height="22.70" fill="#fdfdfd"/><rect x="1052.46" y="183.20" width="22.67" height="22.70" fill="#d1e5f0"/><rect x="1074.73" y="183.20" width="22.67" height="22.70" fill="#ecf3f7"/><rect x="1097.00" y="183.20" width="22.67" height="22.70" fill="#98c8e0"/><rect x="1119.27" y="183.20" width="22.67" height="22.70" fill="#ecf3f7"/><rect x="1141.54" y="183.20" width="22.67" height="22.70" fill="#fbefe8"/><rect x="1163.81" y="183.20" width="22.67" height="22.70" fill="#b1d5e7"/><rect x="1186.08" y="183.20" width="22.67" height="22.70" fill="#f8bfa4"/><rect x="1208.35" y="183.20" width="22.67" height="22.70" fill="#fcf3ee"/><rect x="1230.62" y="183.20" width="22.67" height="22.70" fill="#c6413e"/><rect x="1252.89" y="183.20" width="22.67" height="22.70" fill="#e6f0f5"/><rect x="1275.16" y="183.20" width="22.67" height="22.70" fill="#f6f9fa"/><rect x="1297.43" y="183.20" width="22.67" height="22.70" fill="#ecf3f7"/><rect x="1319.70" y="183.20" width="22.67" height="22.70" fill="#f6b394"/><rect x="1341.97" y="183.20" width="22.67" height="22.70" fill="#fce3d4"/><rect x="1364.24" y="183.20" width="22.67" height="22.70" fill="#f6f9fa"/><rect x="1386.51" y="183.20" width="22.67" height="22.70" fill="#fdddcb"/><rect x="1408.78" y="183.20" width="22.67" height="22.70" fill="#d4e6f1"/><rect x="1431.05" y="183.20" width="22.67" height="22.70" fill="#fbebe1"/><rect x="874.30" y="205.50" width="22.67" height="22.70" fill="#f9c6ac"/><rect x="896.57" y="205.50" width="22.67" height="22.70" fill="#fbebe1"/><rect x="918.84" y="205.50" width="22.67" height="22.70" fill="#f8bfa4"/><rect x="941.11" y="205.50" width="22.67" height="22.70" fill="#fddbc7"/><rect x="963.38" y="205.50" width="22.67" height="22.70" fill="#b8d8e9"/><rect x="985.65" y="205.50" width="22.67" height="22.70" fill="#fddbc7"/><rect x="1007.92" y="205.50" width="22.67" height="22.70" fill="#fbebe1"/><rect x="1030.19" y="205.50" width="22.67" height="22.70" fill="#fcf5f1"/><rect x="1052.46" y="205.50" width="22.67" height="22.70" fill="#f8bfa4"/><rect x="1074.73" y="205.50" width="22.67" height="22.70" fill="#fdfdfd"/><rect x="1097.00" y="205.50" width="22.67" height="22.70" fill="#f6f9fa"/><rect x="1119.27" y="205.50" width="22.67" height="22.70" fill="#d1e5f0"/><rect x="1141.54" y="205.50" width="22.67" height="22.70" fill="#fbefe8"/><rect x="1163.81" y="205.50" width="22.67" height="22.70" fill="#f3f7f9"/><rect x="1186.08" y="205.50" width="22.67" height="22.70" fill="#fce3d4"/><rect x="1208.35" y="205.50" width="22.67" height="22.70" fill="#dceaf2"/><rect x="1230.62" y="205.50" width="22.67" height="22.70" fill="#fcfbfb"/><rect x="1252.89" y="205.50" width="22.67" height="22.70" fill="#e6f0f5"/><rect x="1275.16" y="205.50" width="22.67" height="22.70" fill="#d1e5f0"/><rect x="1297.43" y="205.50" width="22.67" height="22.70" fill="#fdfdfd"/><rect x="1319.70" y="205.50" width="22.67" height="22.70" fill="#fddbc7"/><rect x="1341.97" y="205.50" width="22.67" height="22.70" fill="#f6b394"/><rect x="1364.24" y="205.50" width="22.67" height="22.70" fill="#fafbfb"/><rect x="1386.51" y="205.50" width="22.67" height="22.70" fill="#fbebe1"/><rect x="1408.78" y="205.50" width="22.67" height="22.70" fill="#fbceb7"/><rect x="1431.05" y="205.50" width="22.67" height="22.70" fill="#fddbc7"/><text class="st" x="1353.40" y="48.55" text-anchor="middle">*</text><text class="st" x="908.00" y="70.85" text-anchor="middle">*</text><text class="st" x="908.00" y="93.15" text-anchor="middle">*</text><text class="st" x="952.54" y="115.45" text-anchor="middle">*</text><text class="st" x="930.27" y="137.75" text-anchor="middle">*</text><text class="st" x="952.54" y="137.75" text-anchor="middle">*</text><text class="st" x="1331.13" y="137.75" text-anchor="middle">*</text><text class="st" x="1130.70" y="160.05" text-anchor="middle">*</text><text class="st" x="1175.24" y="182.35" text-anchor="middle">*</text><text class="st" x="1236.85" y="182.35" text-anchor="middle">*</text><text class="st" x="1246.85" y="182.35" text-anchor="middle">*</text><text class="st" x="1331.13" y="182.35" text-anchor="middle">*</text><text class="st" x="952.54" y="204.65" text-anchor="middle">*</text><text class="st" x="1236.85" y="204.65" text-anchor="middle">*</text><text class="st" x="1246.85" y="204.65" text-anchor="middle">*</text><text class="cl" x="886.23" y="19.90" style="font-size:16.40px" text-anchor="middle" textLength="10.17" lengthAdjust="spacingAndGlyphs">R</text><text class="cl" x="907.70" y="19.90" style="font-size:16.40px" text-anchor="middle" textLength="19.50" lengthAdjust="spacingAndGlyphs">AP</text><text class="cl" x="930.77" y="19.90" style="font-size:16.40px" text-anchor="middle" textLength="11.01" lengthAdjust="spacingAndGlyphs">N</text><text class="cl" x="952.24" y="19.90" style="font-size:16.40px" text-anchor="middle" textLength="8.48" lengthAdjust="spacingAndGlyphs">P</text><text class="cl" x="971.01" y="19.90" style="font-size:16.40px" text-anchor="middle" textLength="20.33" lengthAdjust="spacingAndGlyphs">DL</text><text class="cl" x="994.38" y="19.90" style="font-size:16.40px" text-anchor="middle" textLength="20.33" lengthAdjust="spacingAndGlyphs">AE</text><text class="cl" x="1019.05" y="19.90" style="font-size:16.40px" text-anchor="middle" textLength="20.35" lengthAdjust="spacingAndGlyphs">RC</text><text class="cl" x="1041.33" y="19.90" style="font-size:16.40px" text-anchor="middle" textLength="8.48" lengthAdjust="spacingAndGlyphs">F</text><text class="cl" x="1063.60" y="19.90" style="font-size:16.40px" text-anchor="middle" textLength="21.19" lengthAdjust="spacingAndGlyphs">AB</text><text class="cl" x="1085.87" y="19.90" style="font-size:16.40px" text-anchor="middle" textLength="18.63" lengthAdjust="spacingAndGlyphs">EE</text><text class="cl" x="1108.13" y="19.90" style="font-size:16.40px" text-anchor="middle" textLength="21.19" lengthAdjust="spacingAndGlyphs">AC</text><text class="cl" x="1130.40" y="19.90" style="font-size:16.40px" text-anchor="middle" textLength="14.40" lengthAdjust="spacingAndGlyphs">IE</text><text class="cl" x="1151.47" y="19.90" style="font-size:16.40px" text-anchor="middle" textLength="18.10" lengthAdjust="spacingAndGlyphs">PA</text><text class="cl" x="1173.74" y="19.90" style="font-size:16.40px" text-anchor="middle" textLength="11.01" lengthAdjust="spacingAndGlyphs">A</text><text class="cl" x="1196.01" y="19.90" style="font-size:16.40px" text-anchor="middle" textLength="9.32" lengthAdjust="spacingAndGlyphs">T</text><text class="cl" x="1219.48" y="19.90" style="font-size:16.40px" text-anchor="middle" textLength="11.01" lengthAdjust="spacingAndGlyphs">D</text><text class="cl" x="1241.75" y="19.90" style="font-size:16.40px" text-anchor="middle" textLength="11.01" lengthAdjust="spacingAndGlyphs">V</text><text class="cl" x="1264.02" y="19.90" style="font-size:16.40px" text-anchor="middle" textLength="13.56" lengthAdjust="spacingAndGlyphs">M</text><text class="cl" x="1286.30" y="19.90" style="font-size:16.40px" text-anchor="middle" textLength="9.32" lengthAdjust="spacingAndGlyphs">E</text><text class="cl" x="1306.77" y="19.90" style="font-size:16.40px" text-anchor="middle" textLength="18.63" lengthAdjust="spacingAndGlyphs">LE</text><text class="cl" x="1329.63" y="19.90" style="font-size:16.40px" text-anchor="middle" textLength="19.50" lengthAdjust="spacingAndGlyphs">NS</text><text class="cl" x="1352.31" y="19.90" style="font-size:16.40px" text-anchor="middle" textLength="19.50" lengthAdjust="spacingAndGlyphs">DS</text><text class="cl" x="1374.17" y="19.90" style="font-size:16.40px" text-anchor="middle" textLength="19.50" lengthAdjust="spacingAndGlyphs">VS</text><text class="cl" x="1396.85" y="19.90" style="font-size:16.40px" text-anchor="middle" textLength="19.50" lengthAdjust="spacingAndGlyphs">AS</text><text class="cl" x="1419.32" y="18.20" style="font-size:12.80px" text-anchor="middle" textLength="21.82" lengthAdjust="spacingAndGlyphs">VAC</text><text class="cl" x="1441.59" y="19.90" style="font-size:16.40px" text-anchor="middle" textLength="19.50" lengthAdjust="spacingAndGlyphs">OS</text><text class="rl" x="863.90" y="45.25" style="font-size:18.30px" text-anchor="end" textLength="25.17" lengthAdjust="spacingAndGlyphs">HR</text><text class="rl" x="863.90" y="67.55" style="font-size:18.30px" text-anchor="end" textLength="45.71" lengthAdjust="spacingAndGlyphs">RESP</text><text class="rl" x="863.90" y="89.85" style="font-size:18.30px" text-anchor="end" textLength="52.08" lengthAdjust="spacingAndGlyphs">LF/HF</text><text class="rl" x="863.90" y="112.15" style="font-size:18.30px" text-anchor="end" textLength="53.56" lengthAdjust="spacingAndGlyphs">α-EEG</text><text class="rl" x="863.90" y="134.45" style="font-size:18.30px" text-anchor="end" textLength="53.27" lengthAdjust="spacingAndGlyphs">β-EEG</text><text class="rl" x="863.90" y="156.75" style="font-size:18.30px" text-anchor="end" textLength="25.66" lengthAdjust="spacingAndGlyphs">β/α</text><text class="rl" x="863.90" y="179.05" style="font-size:18.30px" text-anchor="end" textLength="21.27" lengthAdjust="spacingAndGlyphs">FF</text><text class="rl" x="863.90" y="201.35" style="font-size:18.30px" text-anchor="end" textLength="38.26" lengthAdjust="spacingAndGlyphs">APD</text><text class="rl" x="863.90" y="223.65" style="font-size:18.30px" text-anchor="end" textLength="21.27" lengthAdjust="spacingAndGlyphs">SF</text><rect x="1463.87" y="27.60" width="21.6" height="200.20" fill="url(#cb)" stroke="#000" stroke-width="1.6"/><line x1="1485.47" x2="1489.87" y1="27.60" y2="27.60" stroke="#000" stroke-width="1.5"/><text class="tl" x="1499.17" y="34.00" style="font-size:18.30px" textLength="23.79" lengthAdjust="spacingAndGlyphs">1.0</text><line x1="1485.47" x2="1489.87" y1="47.62" y2="47.62" stroke="#000" stroke-width="1.5"/><text class="tl" x="1499.17" y="53.55" style="font-size:18.30px" textLength="23.79" lengthAdjust="spacingAndGlyphs">0.8</text><line x1="1485.47" x2="1489.87" y1="67.64" y2="67.64" stroke="#000" stroke-width="1.5"/><text class="tl" x="1499.17" y="73.10" style="font-size:18.30px" textLength="23.79" lengthAdjust="spacingAndGlyphs">0.6</text><line x1="1485.47" x2="1489.87" y1="87.66" y2="87.66" stroke="#000" stroke-width="1.5"/><text class="tl" x="1499.17" y="92.65" style="font-size:18.30px" textLength="23.79" lengthAdjust="spacingAndGlyphs">0.4</text><line x1="1485.47" x2="1489.87" y1="107.68" y2="107.68" stroke="#000" stroke-width="1.5"/><text class="tl" x="1499.17" y="112.20" style="font-size:18.30px" textLength="23.79" lengthAdjust="spacingAndGlyphs">0.2</text><line x1="1485.47" x2="1489.87" y1="127.70" y2="127.70" stroke="#000" stroke-width="1.5"/><text class="tl" x="1499.17" y="131.75" style="font-size:18.30px" textLength="9.52" lengthAdjust="spacingAndGlyphs">0</text><line x1="1485.47" x2="1489.87" y1="147.72" y2="147.72" stroke="#000" stroke-width="1.5"/><text class="tl" x="1496.37" y="151.30" style="font-size:18.30px" textLength="30.13" lengthAdjust="spacingAndGlyphs">-0.2</text><line x1="1485.47" x2="1489.87" y1="167.74" y2="167.74" stroke="#000" stroke-width="1.5"/><text class="tl" x="1496.37" y="170.85" style="font-size:18.30px" textLength="30.13" lengthAdjust="spacingAndGlyphs">-0.4</text><line x1="1485.47" x2="1489.87" y1="187.76" y2="187.76" stroke="#000" stroke-width="1.5"/><text class="tl" x="1496.37" y="190.40" style="font-size:18.30px" textLength="30.13" lengthAdjust="spacingAndGlyphs">-0.6</text><line x1="1485.47" x2="1489.87" y1="207.78" y2="207.78" stroke="#000" stroke-width="1.5"/><text class="tl" x="1496.37" y="209.95" style="font-size:18.30px" textLength="30.13" lengthAdjust="spacingAndGlyphs">-0.8</text><line x1="1485.47" x2="1489.87" y1="227.80" y2="227.80" stroke="#000" stroke-width="1.5"/><text class="tl" x="1496.37" y="229.50" style="font-size:18.30px" textLength="30.13" lengthAdjust="spacingAndGlyphs">-1.0</text><text class="cap" x="963.70" y="273.00" style="font-size:23.8px" textLength="365.50" lengthAdjust="spacingAndGlyphs">(b)  Long path &amp; Downhill &amp; Young</text></g>
<g><rect x="72.05" y="349.10" width="22.67" height="22.70" fill="#b1d5e7"/><rect x="94.32" y="349.10" width="22.67" height="22.70" fill="#f8bfa4"/><rect x="116.59" y="349.10" width="22.67" height="22.70" fill="#fbefe8"/><rect x="138.86" y="349.10" width="22.67" height="22.70" fill="#fcf3ee"/><rect x="161.13" y="349.10" width="22.67" height="22.70" fill="#dceaf2"/><rect x="183.40" y="349.10" width="22.67" height="22.70" fill="#fcf8f5"/><rect x="205.67" y="349.10" width="22.67" height="22.70" fill="#b1d5e7"/><rect x="227.94" y="349.10" width="22.67" height="22.70" fill="#b1d5e7"/><rect x="250.21" y="349.10" width="22.67" height="22.70" fill="#a7d0e4"/><rect x="272.48" y="349.10" width="22.67" height="22.70" fill="#f3f7f9"/><rect x="294.75" y="349.10" width="22.67" height="22.70" fill="#fbebe1"/><rect x="317.02" y="349.10" width="22.67" height="22.70" fill="#e6f0f5"/><rect x="339.29" y="349.10" width="22.67" height="22.70" fill="#fdddcb"/><rect x="361.56" y="349.10" width="22.67" height="22.70" fill="#7eb8d7"/><rect x="383.83" y="349.10" width="22.67" height="22.70" fill="#f5aa89"/><rect x="406.10" y="349.10" width="22.67" height="22.70" fill="#c0dceb"/><rect x="428.37" y="349.10" width="22.67" height="22.70" fill="#fdfdfd"/><rect x="450.64" y="349.10" width="22.67" height="22.70" fill="#fdddcb"/><rect x="472.91" y="349.10" width="22.67" height="22.70" fill="#fcfaf9"/><rect x="495.18" y="349.10" width="22.67" height="22.70" fill="#fdfdfd"/><rect x="517.45" y="349.10" width="22.67" height="22.70" fill="#e6f0f5"/><rect x="539.72" y="349.10" width="22.67" height="22.70" fill="#8ac0db"/><rect x="561.99" y="349.10" width="22.67" height="22.70" fill="#fafbfb"/><rect x="584.26" y="349.10" width="22.67" height="22.70" fill="#fafbfb"/><rect x="606.53" y="349.10" width="22.67" height="22.70" fill="#fce3d4"/><rect x="628.80" y="349.10" width="22.67" height="22.70" fill="#fce3d4"/><rect x="72.05" y="371.40" width="22.67" height="22.70" fill="#fdddcb"/><rect x="94.32" y="371.40" width="22.67" height="22.70" fill="#e6f0f5"/><rect x="116.59" y="371.40" width="22.67" height="22.70" fill="#e6f0f5"/><rect x="138.86" y="371.40" width="22.67" height="22.70" fill="#e6f0f5"/><rect x="161.13" y="371.40" width="22.67" height="22.70" fill="#fbebe1"/><rect x="183.40" y="371.40" width="22.67" height="22.70" fill="#f6f9fa"/><rect x="205.67" y="371.40" width="22.67" height="22.70" fill="#fcfbfb"/><rect x="227.94" y="371.40" width="22.67" height="22.70" fill="#f8bfa4"/><rect x="250.21" y="371.40" width="22.67" height="22.70" fill="#e58368"/><rect x="272.48" y="371.40" width="22.67" height="22.70" fill="#dceaf2"/><rect x="294.75" y="371.40" width="22.67" height="22.70" fill="#f8bb9e"/><rect x="317.02" y="371.40" width="22.67" height="22.70" fill="#fcf3ee"/><rect x="339.29" y="371.40" width="22.67" height="22.70" fill="#f3f7f9"/><rect x="361.56" y="371.40" width="22.67" height="22.70" fill="#fddbc7"/><rect x="383.83" y="371.40" width="22.67" height="22.70" fill="#dceaf2"/><rect x="406.10" y="371.40" width="22.67" height="22.70" fill="#fbceb7"/><rect x="428.37" y="371.40" width="22.67" height="22.70" fill="#fafbfb"/><rect x="450.64" y="371.40" width="22.67" height="22.70" fill="#fafbfb"/><rect x="472.91" y="371.40" width="22.67" height="22.70" fill="#fdfdfd"/><rect x="495.18" y="371.40" width="22.67" height="22.70" fill="#b1d5e7"/><rect x="517.45" y="371.40" width="22.67" height="22.70" fill="#fce3d4"/><rect x="539.72" y="371.40" width="22.67" height="22.70" fill="#fbebe1"/><rect x="561.99" y="371.40" width="22.67" height="22.70" fill="#fdddcb"/><rect x="584.26" y="371.40" width="22.67" height="22.70" fill="#f3f7f9"/><rect x="606.53" y="371.40" width="22.67" height="22.70" fill="#fdfdfd"/><rect x="628.80" y="371.40" width="22.67" height="22.70" fill="#f8bb9e"/><rect x="72.05" y="393.70" width="22.67" height="22.70" fill="#fbefe8"/><rect x="94.32" y="393.70" width="22.67" height="22.70" fill="#fdfdfd"/><rect x="116.59" y="393.70" width="22.67" height="22.70" fill="#f6b394"/><rect x="138.86" y="393.70" width="22.67" height="22.70" fill="#7eb8d7"/><rect x="161.13" y="393.70" width="22.67" height="22.70" fill="#fcf8f5"/><rect x="183.40" y="393.70" width="22.67" height="22.70" fill="#f3f7f9"/><rect x="205.67" y="393.70" width="22.67" height="22.70" fill="#ecf3f7"/><rect x="227.94" y="393.70" width="22.67" height="22.70" fill="#d4e6f1"/><rect x="250.21" y="393.70" width="22.67" height="22.70" fill="#dceaf2"/><rect x="272.48" y="393.70" width="22.67" height="22.70" fill="#fdfdfd"/><rect x="294.75" y="393.70" width="22.67" height="22.70" fill="#fdfdfd"/><rect x="317.02" y="393.70" width="22.67" height="22.70" fill="#fcf3ee"/><rect x="339.29" y="393.70" width="22.67" height="22.70" fill="#71b0d3"/><rect x="361.56" y="393.70" width="22.67" height="22.70" fill="#f3a481"/><rect x="383.83" y="393.70" width="22.67" height="22.70" fill="#7eb8d7"/><rect x="406.10" y="393.70" width="22.67" height="22.70" fill="#f3a481"/><rect x="428.37" y="393.70" width="22.67" height="22.70" fill="#c0dceb"/><rect x="450.64" y="393.70" width="22.67" height="22.70" fill="#fcd5bf"/><rect x="472.91" y="393.70" width="22.67" height="22.70" fill="#acd2e5"/><rect x="495.18" y="393.70" width="22.67" height="22.70" fill="#f5aa89"/><rect x="517.45" y="393.70" width="22.67" height="22.70" fill="#8ac0db"/><rect x="539.72" y="393.70" width="22.67" height="22.70" fill="#dceaf2"/><rect x="561.99" y="393.70" width="22.67" height="22.70" fill="#dceaf2"/><rect x="584.26" y="393.70" width="22.67" height="22.70" fill="#b1d5e7"/><rect x="606.53" y="393.70" width="22.67" height="22.70" fill="#fdfdfd"/><rect x="628.80" y="393.70" width="22.67" height="22.70" fill="#b8d8e9"/><rect x="72.05" y="416.00" width="22.67" height="22.70" fill="#fcfaf9"/><rect x="94.32" y="416.00" width="22.67" height="22.70" fill="#fddbc7"/><rect x="116.59" y="416.00" width="22.67" height="22.70" fill="#f0f5f8"/><rect x="138.86" y="416.00" width="22.67" height="22.70" fill="#f3f7f9"/><rect x="161.13" y="416.00" width="22.67" height="22.70" fill="#d4e6f1"/><rect x="183.40" y="416.00" width="22.67" height="22.70" fill="#fbefe8"/><rect x="205.67" y="416.00" width="22.67" height="22.70" fill="#fcf5f1"/><rect x="227.94" y="416.00" width="22.67" height="22.70" fill="#f8bfa4"/><rect x="250.21" y="416.00" width="22.67" height="22.70" fill="#f0f5f8"/><rect x="272.48" y="416.00" width="22.67" height="22.70" fill="#f8bb9e"/><rect x="294.75" y="416.00" width="22.67" height="22.70" fill="#f6f9fa"/><rect x="317.02" y="416.00" width="22.67" height="22.70" fill="#98c8e0"/><rect x="339.29" y="416.00" width="22.67" height="22.70" fill="#f6b394"/><rect x="361.56" y="416.00" width="22.67" height="22.70" fill="#e6f0f5"/><rect x="383.83" y="416.00" width="22.67" height="22.70" fill="#f8bfa4"/><rect x="406.10" y="416.00" width="22.67" height="22.70" fill="#f6f9fa"/><rect x="428.37" y="416.00" width="22.67" height="22.70" fill="#fbceb7"/><rect x="450.64" y="416.00" width="22.67" height="22.70" fill="#f6f9fa"/><rect x="472.91" y="416.00" width="22.67" height="22.70" fill="#fcf3ee"/><rect x="495.18" y="416.00" width="22.67" height="22.70" fill="#f6f9fa"/><rect x="517.45" y="416.00" width="22.67" height="22.70" fill="#f3a481"/><rect x="539.72" y="416.00" width="22.67" height="22.70" fill="#f6f9fa"/><rect x="561.99" y="416.00" width="22.67" height="22.70" fill="#f5aa89"/><rect x="584.26" y="416.00" width="22.67" height="22.70" fill="#f5aa89"/><rect x="606.53" y="416.00" width="22.67" height="22.70" fill="#f5aa89"/><rect x="628.80" y="416.00" width="22.67" height="22.70" fill="#f3a481"/><rect x="72.05" y="438.30" width="22.67" height="22.70" fill="#cae1ee"/><rect x="94.32" y="438.30" width="22.67" height="22.70" fill="#fdddcb"/><rect x="116.59" y="438.30" width="22.67" height="22.70" fill="#f3f7f9"/><rect x="138.86" y="438.30" width="22.67" height="22.70" fill="#fbefe8"/><rect x="161.13" y="438.30" width="22.67" height="22.70" fill="#acd2e5"/><rect x="183.40" y="438.30" width="22.67" height="22.70" fill="#fdfdfd"/><rect x="205.67" y="438.30" width="22.67" height="22.70" fill="#ecf3f7"/><rect x="227.94" y="438.30" width="22.67" height="22.70" fill="#fbebe1"/><rect x="250.21" y="438.30" width="22.67" height="22.70" fill="#e6f0f5"/><rect x="272.48" y="438.30" width="22.67" height="22.70" fill="#fcf8f5"/><rect x="294.75" y="438.30" width="22.67" height="22.70" fill="#fdfdfd"/><rect x="317.02" y="438.30" width="22.67" height="22.70" fill="#98c8e0"/><rect x="339.29" y="438.30" width="22.67" height="22.70" fill="#fbceb7"/><rect x="361.56" y="438.30" width="22.67" height="22.70" fill="#cae1ee"/><rect x="383.83" y="438.30" width="22.67" height="22.70" fill="#f6b394"/><rect x="406.10" y="438.30" width="22.67" height="22.70" fill="#fcf8f5"/><rect x="428.37" y="438.30" width="22.67" height="22.70" fill="#f7b799"/><rect x="450.64" y="438.30" width="22.67" height="22.70" fill="#f3f7f9"/><rect x="472.91" y="438.30" width="22.67" height="22.70" fill="#fbceb7"/><rect x="495.18" y="438.30" width="22.67" height="22.70" fill="#d1e5f0"/><rect x="517.45" y="438.30" width="22.67" height="22.70" fill="#f9c6ac"/><rect x="539.72" y="438.30" width="22.67" height="22.70" fill="#f3f7f9"/><rect x="561.99" y="438.30" width="22.67" height="22.70" fill="#fddbc7"/><rect x="584.26" y="438.30" width="22.67" height="22.70" fill="#fbceb7"/><rect x="606.53" y="438.30" width="22.67" height="22.70" fill="#fdddcb"/><rect x="628.80" y="438.30" width="22.67" height="22.70" fill="#fddbc7"/><rect x="72.05" y="460.60" width="22.67" height="22.70" fill="#98c8e0"/><rect x="94.32" y="460.60" width="22.67" height="22.70" fill="#fcf3ee"/><rect x="116.59" y="460.60" width="22.67" height="22.70" fill="#fbceb7"/><rect x="138.86" y="460.60" width="22.67" height="22.70" fill="#fdfdfd"/><rect x="161.13" y="460.60" width="22.67" height="22.70" fill="#fdfdfd"/><rect x="183.40" y="460.60" width="22.67" height="22.70" fill="#dceaf2"/><rect x="205.67" y="460.60" width="22.67" height="22.70" fill="#f3f7f9"/><rect x="227.94" y="460.60" width="22.67" height="22.70" fill="#ecf3f7"/><rect x="250.21" y="460.60" width="22.67" height="22.70" fill="#fcf8f5"/><rect x="272.48" y="460.60" width="22.67" height="22.70" fill="#90c4dd"/><rect x="294.75" y="460.60" width="22.67" height="22.70" fill="#fcf8f5"/><rect x="317.02" y="460.60" width="22.67" height="22.70" fill="#fdddcb"/><rect x="339.29" y="460.60" width="22.67" height="22.70" fill="#98c8e0"/><rect x="361.56" y="460.60" width="22.67" height="22.70" fill="#fbceb7"/><rect x="383.83" y="460.60" width="22.67" height="22.70" fill="#b1d5e7"/><rect x="406.10" y="460.60" width="22.67" height="22.70" fill="#ec9374"/><rect x="428.37" y="460.60" width="22.67" height="22.70" fill="#fbebe1"/><rect x="450.64" y="460.60" width="22.67" height="22.70" fill="#fdfdfd"/><rect x="472.91" y="460.60" width="22.67" height="22.70" fill="#fbebe1"/><rect x="495.18" y="460.60" width="22.67" height="22.70" fill="#d4e6f1"/><rect x="517.45" y="460.60" width="22.67" height="22.70" fill="#cae1ee"/><rect x="539.72" y="460.60" width="22.67" height="22.70" fill="#fbfcfc"/><rect x="561.99" y="460.60" width="22.67" height="22.70" fill="#d4e6f1"/><rect x="584.26" y="460.60" width="22.67" height="22.70" fill="#dceaf2"/><rect x="606.53" y="460.60" width="22.67" height="22.70" fill="#c0dceb"/><rect x="628.80" y="460.60" width="22.67" height="22.70" fill="#c0dceb"/><rect x="72.05" y="482.90" width="22.67" height="22.70" fill="#d25849"/><rect x="94.32" y="482.90" width="22.67" height="22.70" fill="#fcf8f5"/><rect x="116.59" y="482.90" width="22.67" height="22.70" fill="#fbebe1"/><rect x="138.86" y="482.90" width="22.67" height="22.70" fill="#fcf3ee"/><rect x="161.13" y="482.90" width="22.67" height="22.70" fill="#fce3d4"/><rect x="183.40" y="482.90" width="22.67" height="22.70" fill="#fce3d4"/><rect x="205.67" y="482.90" width="22.67" height="22.70" fill="#fbceb7"/><rect x="227.94" y="482.90" width="22.67" height="22.70" fill="#fdddcb"/><rect x="250.21" y="482.90" width="22.67" height="22.70" fill="#fddbc7"/><rect x="272.48" y="482.90" width="22.67" height="22.70" fill="#e58368"/><rect x="294.75" y="482.90" width="22.67" height="22.70" fill="#b8d8e9"/><rect x="317.02" y="482.90" width="22.67" height="22.70" fill="#fcf3ee"/><rect x="339.29" y="482.90" width="22.67" height="22.70" fill="#fcf3ee"/><rect x="361.56" y="482.90" width="22.67" height="22.70" fill="#fdddcb"/><rect x="383.83" y="482.90" width="22.67" height="22.70" fill="#cae1ee"/><rect x="406.10" y="482.90" width="22.67" height="22.70" fill="#fafbfb"/><rect x="428.37" y="482.90" width="22.67" height="22.70" fill="#fcf3ee"/><rect x="450.64" y="482.90" width="22.67" height="22.70" fill="#71b0d3"/><rect x="472.91" y="482.90" width="22.67" height="22.70" fill="#fce3d4"/><rect x="495.18" y="482.90" width="22.67" height="22.70" fill="#ecf3f7"/><rect x="517.45" y="482.90" width="22.67" height="22.70" fill="#fdddcb"/><rect x="539.72" y="482.90" width="22.67" height="22.70" fill="#f5aa89"/><rect x="561.99" y="482.90" width="22.67" height="22.70" fill="#fddbc7"/><rect x="584.26" y="482.90" width="22.67" height="22.70" fill="#fcf5f1"/><rect x="606.53" y="482.90" width="22.67" height="22.70" fill="#fcfaf9"/><rect x="628.80" y="482.90" width="22.67" height="22.70" fill="#fce3d4"/><rect x="72.05" y="505.20" width="22.67" height="22.70" fill="#fdddcb"/><rect x="94.32" y="505.20" width="22.67" height="22.70" fill="#98c8e0"/><rect x="116.59" y="505.20" width="22.67" height="22.70" fill="#fdfdfd"/><rect x="138.86" y="505.20" width="22.67" height="22.70" fill="#fcf3ee"/><rect x="161.13" y="505.20" width="22.67" height="22.70" fill="#e58368"/><rect x="183.40" y="505.20" width="22.67" height="22.70" fill="#e27b62"/><rect x="205.67" y="505.20" width="22.67" height="22.70" fill="#f5aa89"/><rect x="227.94" y="505.20" width="22.67" height="22.70" fill="#fcd5bf"/><rect x="250.21" y="505.20" width="22.67" height="22.70" fill="#d6604d"/><rect x="272.48" y="505.20" width="22.67" height="22.70" fill="#fce3d4"/><rect x="294.75" y="505.20" width="22.67" height="22.70" fill="#fce3d4"/><rect x="317.02" y="505.20" width="22.67" height="22.70" fill="#fbefe8"/><rect x="339.29" y="505.20" width="22.67" height="22.70" fill="#fbefe8"/><rect x="361.56" y="505.20" width="22.67" height="22.70" fill="#fbefe8"/><rect x="383.83" y="505.20" width="22.67" height="22.70" fill="#fcf8f5"/><rect x="406.10" y="505.20" width="22.67" height="22.70" fill="#ecf3f7"/><rect x="428.37" y="505.20" width="22.67" height="22.70" fill="#fbebe1"/><rect x="450.64" y="505.20" width="22.67" height="22.70" fill="#b8d8e9"/><rect x="472.91" y="505.20" width="22.67" height="22.70" fill="#fdfdfd"/><rect x="495.18" y="505.20" width="22.67" height="22.70" fill="#fafbfb"/><rect x="517.45" y="505.20" width="22.67" height="22.70" fill="#fdddcb"/><rect x="539.72" y="505.20" width="22.67" height="22.70" fill="#fbceb7"/><rect x="561.99" y="505.20" width="22.67" height="22.70" fill="#f7b799"/><rect x="584.26" y="505.20" width="22.67" height="22.70" fill="#fcf3ee"/><rect x="606.53" y="505.20" width="22.67" height="22.70" fill="#e6f0f5"/><rect x="628.80" y="505.20" width="22.67" height="22.70" fill="#fce3d4"/><rect x="72.05" y="527.50" width="22.67" height="22.70" fill="#fdddcb"/><rect x="94.32" y="527.50" width="22.67" height="22.70" fill="#fdddcb"/><rect x="116.59" y="527.50" width="22.67" height="22.70" fill="#fbceb7"/><rect x="138.86" y="527.50" width="22.67" height="22.70" fill="#fcfaf9"/><rect x="161.13" y="527.50" width="22.67" height="22.70" fill="#f3a481"/><rect x="183.40" y="527.50" width="22.67" height="22.70" fill="#fcd5bf"/><rect x="205.67" y="527.50" width="22.67" height="22.70" fill="#f6b394"/><rect x="227.94" y="527.50" width="22.67" height="22.70" fill="#fdfdfd"/><rect x="250.21" y="527.50" width="22.67" height="22.70" fill="#f9c6ac"/><rect x="272.48" y="527.50" width="22.67" height="22.70" fill="#ecf3f7"/><rect x="294.75" y="527.50" width="22.67" height="22.70" fill="#fdfdfd"/><rect x="317.02" y="527.50" width="22.67" height="22.70" fill="#fcf8f5"/><rect x="339.29" y="527.50" width="22.67" height="22.70" fill="#ecf3f7"/><rect x="361.56" y="527.50" width="22.67" height="22.70" fill="#fcf8f5"/><rect x="383.83" y="527.50" width="22.67" height="22.70" fill="#b1d5e7"/><rect x="406.10" y="527.50" width="22.67" height="22.70" fill="#fbefe8"/><rect x="428.37" y="527.50" width="22.67" height="22.70" fill="#fdfdfd"/><rect x="450.64" y="527.50" width="22.67" height="22.70" fill="#e6f0f5"/><rect x="472.91" y="527.50" width="22.67" height="22.70" fill="#dceaf2"/><rect x="495.18" y="527.50" width="22.67" height="22.70" fill="#f6f9fa"/><rect x="517.45" y="527.50" width="22.67" height="22.70" fill="#d4e6f1"/><rect x="539.72" y="527.50" width="22.67" height="22.70" fill="#fdfdfd"/><rect x="561.99" y="527.50" width="22.67" height="22.70" fill="#fddbc7"/><rect x="584.26" y="527.50" width="22.67" height="22.70" fill="#dceaf2"/><rect x="606.53" y="527.50" width="22.67" height="22.70" fill="#75b2d4"/><rect x="628.80" y="527.50" width="22.67" height="22.70" fill="#f6f9fa"/><text class="st" x="373.00" y="370.55" text-anchor="middle">*</text><text class="st" x="551.15" y="370.55" text-anchor="middle">*</text><text class="st" x="261.64" y="392.85" text-anchor="middle">*</text><text class="st" x="150.30" y="415.15" text-anchor="middle">*</text><text class="st" x="350.73" y="415.15" text-anchor="middle">*</text><text class="st" x="395.27" y="415.15" text-anchor="middle">*</text><text class="st" x="417.54" y="415.15" text-anchor="middle">*</text><text class="st" x="528.88" y="415.15" text-anchor="middle">*</text><text class="st" x="417.54" y="482.05" text-anchor="middle">*</text><text class="st" x="78.28" y="504.35" text-anchor="middle">*</text><text class="st" x="88.28" y="504.35" text-anchor="middle">*</text><text class="st" x="283.92" y="504.35" text-anchor="middle">*</text><text class="st" x="462.07" y="504.35" text-anchor="middle">*</text><text class="st" x="172.56" y="526.65" text-anchor="middle">*</text><text class="st" x="194.84" y="526.65" text-anchor="middle">*</text><text class="st" x="256.44" y="526.65" text-anchor="middle">*</text><text class="st" x="266.44" y="526.65" text-anchor="middle">*</text><text class="st" x="617.96" y="548.95" text-anchor="middle">*</text><text class="cl" x="83.98" y="341.90" style="font-size:16.40px" text-anchor="middle" textLength="10.17" lengthAdjust="spacingAndGlyphs">R</text><text class="cl" x="105.45" y="341.90" style="font-size:16.40px" text-anchor="middle" textLength="19.50" lengthAdjust="spacingAndGlyphs">AP</text><text class="cl" x="128.53" y="341.90" style="font-size:16.40px" text-anchor="middle" textLength="11.01" lengthAdjust="spacingAndGlyphs">N</text><text class="cl" x="150.00" y="341.90" style="font-size:16.40px" text-anchor="middle" textLength="8.48" lengthAdjust="spacingAndGlyphs">P</text><text class="cl" x="168.76" y="341.90" style="font-size:16.40px" text-anchor="middle" textLength="20.33" lengthAdjust="spacingAndGlyphs">DL</text><text class="cl" x="192.13" y="341.90" style="font-size:16.40px" text-anchor="middle" textLength="20.33" lengthAdjust="spacingAndGlyphs">AE</text><text class="cl" x="216.81" y="341.90" style="font-size:16.40px" text-anchor="middle" textLength="20.35" lengthAdjust="spacingAndGlyphs">RC</text><text class="cl" x="239.07" y="341.90" style="font-size:16.40px" text-anchor="middle" textLength="8.48" lengthAdjust="spacingAndGlyphs">F</text><text class="cl" x="261.34" y="341.90" style="font-size:16.40px" text-anchor="middle" textLength="21.19" lengthAdjust="spacingAndGlyphs">AB</text><text class="cl" x="283.62" y="341.90" style="font-size:16.40px" text-anchor="middle" textLength="18.63" lengthAdjust="spacingAndGlyphs">EE</text><text class="cl" x="305.88" y="341.90" style="font-size:16.40px" text-anchor="middle" textLength="21.19" lengthAdjust="spacingAndGlyphs">AC</text><text class="cl" x="328.16" y="341.90" style="font-size:16.40px" text-anchor="middle" textLength="14.40" lengthAdjust="spacingAndGlyphs">IE</text><text class="cl" x="349.23" y="341.90" style="font-size:16.40px" text-anchor="middle" textLength="18.10" lengthAdjust="spacingAndGlyphs">PA</text><text class="cl" x="371.50" y="341.90" style="font-size:16.40px" text-anchor="middle" textLength="11.01" lengthAdjust="spacingAndGlyphs">A</text><text class="cl" x="393.77" y="341.90" style="font-size:16.40px" text-anchor="middle" textLength="9.32" lengthAdjust="spacingAndGlyphs">T</text><text class="cl" x="417.24" y="341.90" style="font-size:16.40px" text-anchor="middle" textLength="11.01" lengthAdjust="spacingAndGlyphs">D</text><text class="cl" x="439.50" y="341.90" style="font-size:16.40px" text-anchor="middle" textLength="11.01" lengthAdjust="spacingAndGlyphs">V</text><text class="cl" x="461.77" y="341.90" style="font-size:16.40px" text-anchor="middle" textLength="13.56" lengthAdjust="spacingAndGlyphs">M</text><text class="cl" x="484.05" y="341.90" style="font-size:16.40px" text-anchor="middle" textLength="9.32" lengthAdjust="spacingAndGlyphs">E</text><text class="cl" x="504.51" y="341.90" style="font-size:16.40px" text-anchor="middle" textLength="18.63" lengthAdjust="spacingAndGlyphs">LE</text><text class="cl" x="527.38" y="341.90" style="font-size:16.40px" text-anchor="middle" textLength="19.50" lengthAdjust="spacingAndGlyphs">NS</text><text class="cl" x="550.06" y="341.90" style="font-size:16.40px" text-anchor="middle" textLength="19.50" lengthAdjust="spacingAndGlyphs">DS</text><text class="cl" x="571.92" y="341.90" style="font-size:16.40px" text-anchor="middle" textLength="19.50" lengthAdjust="spacingAndGlyphs">VS</text><text class="cl" x="594.60" y="341.90" style="font-size:16.40px" text-anchor="middle" textLength="19.50" lengthAdjust="spacingAndGlyphs">AS</text><text class="cl" x="617.06" y="340.20" style="font-size:12.80px" text-anchor="middle" textLength="21.82" lengthAdjust="spacingAndGlyphs">VAC</text><text class="cl" x="639.33" y="341.90" style="font-size:16.40px" text-anchor="middle" textLength="19.50" lengthAdjust="spacingAndGlyphs">OS</text><text class="rl" x="61.65" y="367.25" style="font-size:18.30px" text-anchor="end" textLength="25.17" lengthAdjust="spacingAndGlyphs">HR</text><text class="rl" x="61.65" y="389.55" style="font-size:18.30px" text-anchor="end" textLength="45.71" lengthAdjust="spacingAndGlyphs">RESP</text><text class="rl" x="61.65" y="411.85" style="font-size:18.30px" text-anchor="end" textLength="52.08" lengthAdjust="spacingAndGlyphs">LF/HF</text><text class="rl" x="61.65" y="434.15" style="font-size:18.30px" text-anchor="end" textLength="53.56" lengthAdjust="spacingAndGlyphs">α-EEG</text><text class="rl" x="61.65" y="456.45" style="font-size:18.30px" text-anchor="end" textLength="53.27" lengthAdjust="spacingAndGlyphs">β-EEG</text><text class="rl" x="61.65" y="478.75" style="font-size:18.30px" text-anchor="end" textLength="25.66" lengthAdjust="spacingAndGlyphs">β/α</text><text class="rl" x="61.65" y="501.05" style="font-size:18.30px" text-anchor="end" textLength="21.27" lengthAdjust="spacingAndGlyphs">FF</text><text class="rl" x="61.65" y="523.35" style="font-size:18.30px" text-anchor="end" textLength="38.26" lengthAdjust="spacingAndGlyphs">APD</text><text class="rl" x="61.65" y="545.65" style="font-size:18.30px" text-anchor="end" textLength="21.27" lengthAdjust="spacingAndGlyphs">SF</text><rect x="661.62" y="349.60" width="21.6" height="200.20" fill="url(#cb)" stroke="#000" stroke-width="1.6"/><line x1="683.22" x2="687.62" y1="349.60" y2="349.60" stroke="#000" stroke-width="1.5"/><text class="tl" x="696.92" y="356.00" style="font-size:18.30px" textLength="23.79" lengthAdjust="spacingAndGlyphs">1.0</text><line x1="683.22" x2="687.62" y1="369.62" y2="369.62" stroke="#000" stroke-width="1.5"/><text class="tl" x="696.92" y="375.55" style="font-size:18.30px" textLength="23.79" lengthAdjust="spacingAndGlyphs">0.8</text><line x1="683.22" x2="687.62" y1="389.64" y2="389.64" stroke="#000" stroke-width="1.5"/><text class="tl" x="696.92" y="395.10" style="font-size:18.30px" textLength="23.79" lengthAdjust="spacingAndGlyphs">0.6</text><line x1="683.22" x2="687.62" y1="409.66" y2="409.66" stroke="#000" stroke-width="1.5"/><text class="tl" x="696.92" y="414.65" style="font-size:18.30px" textLength="23.79" lengthAdjust="spacingAndGlyphs">0.4</text><line x1="683.22" x2="687.62" y1="429.68" y2="429.68" stroke="#000" stroke-width="1.5"/><text class="tl" x="696.92" y="434.20" style="font-size:18.30px" textLength="23.79" lengthAdjust="spacingAndGlyphs">0.2</text><line x1="683.22" x2="687.62" y1="449.70" y2="449.70" stroke="#000" stroke-width="1.5"/><text class="tl" x="696.92" y="453.75" style="font-size:18.30px" textLength="9.52" lengthAdjust="spacingAndGlyphs">0</text><line x1="683.22" x2="687.62" y1="469.72" y2="469.72" stroke="#000" stroke-width="1.5"/><text class="tl" x="694.12" y="473.30" style="font-size:18.30px" textLength="30.13" lengthAdjust="spacingAndGlyphs">-0.2</text><line x1="683.22" x2="687.62" y1="489.74" y2="489.74" stroke="#000" stroke-width="1.5"/><text class="tl" x="694.12" y="492.85" style="font-size:18.30px" textLength="30.13" lengthAdjust="spacingAndGlyphs">-0.4</text><line x1="683.22" x2="687.62" y1="509.76" y2="509.76" stroke="#000" stroke-width="1.5"/><text class="tl" x="694.12" y="512.40" style="font-size:18.30px" textLength="30.13" lengthAdjust="spacingAndGlyphs">-0.6</text><line x1="683.22" x2="687.62" y1="529.78" y2="529.78" stroke="#000" stroke-width="1.5"/><text class="tl" x="694.12" y="531.95" style="font-size:18.30px" textLength="30.13" lengthAdjust="spacingAndGlyphs">-0.8</text><line x1="683.22" x2="687.62" y1="549.80" y2="549.80" stroke="#000" stroke-width="1.5"/><text class="tl" x="694.12" y="551.50" style="font-size:18.30px" textLength="30.13" lengthAdjust="spacingAndGlyphs">-1.0</text><text class="cap" x="157.50" y="604.20" style="font-size:23.8px" textLength="336.00" lengthAdjust="spacingAndGlyphs">(c)  Short path &amp; Uphill &amp; Young</text></g>
<g><rect x="874.30" y="349.10" width="22.67" height="22.70" fill="#62a7ce"/><rect x="896.57" y="349.10" width="22.67" height="22.70" fill="#fddbc7"/><rect x="918.84" y="349.10" width="22.67" height="22.70" fill="#b1d5e7"/><rect x="941.11" y="349.10" width="22.67" height="22.70" fill="#a2cde3"/><rect x="963.38" y="349.10" width="22.67" height="22.70" fill="#acd2e5"/><rect x="985.65" y="349.10" width="22.67" height="22.70" fill="#c0dceb"/><rect x="1007.92" y="349.10" width="22.67" height="22.70" fill="#e6f0f5"/><rect x="1030.19" y="349.10" width="22.67" height="22.70" fill="#dceaf2"/><rect x="1052.46" y="349.10" width="22.67" height="22.70" fill="#cae1ee"/><rect x="1074.73" y="349.10" width="22.67" height="22.70" fill="#fbceb7"/><rect x="1097.00" y="349.10" width="22.67" height="22.70" fill="#fbceb7"/><rect x="1119.27" y="349.10" width="22.67" height="22.70" fill="#d4e6f1"/><rect x="1141.54" y="349.10" width="22.67" height="22.70" fill="#b1d5e7"/><rect x="1163.81" y="349.10" width="22.67" height="22.70" fill="#fbfcfc"/><rect x="1186.08" y="349.10" width="22.67" height="22.70" fill="#7eb8d7"/><rect x="1208.35" y="349.10" width="22.67" height="22.70" fill="#fbebe1"/><rect x="1230.62" y="349.10" width="22.67" height="22.70" fill="#fdfdfd"/><rect x="1252.89" y="349.10" width="22.67" height="22.70" fill="#cae1ee"/><rect x="1275.16" y="349.10" width="22.67" height="22.70" fill="#84bcd9"/><rect x="1297.43" y="349.10" width="22.67" height="22.70" fill="#c0dceb"/><rect x="1319.70" y="349.10" width="22.67" height="22.70" fill="#a7d0e4"/><rect x="1341.97" y="349.10" width="22.67" height="22.70" fill="#b1d5e7"/><rect x="1364.24" y="349.10" width="22.67" height="22.70" fill="#f9c6ac"/><rect x="1386.51" y="349.10" width="22.67" height="22.70" fill="#b1d5e7"/><rect x="1408.78" y="349.10" width="22.67" height="22.70" fill="#b1d5e7"/><rect x="1431.05" y="349.10" width="22.67" height="22.70" fill="#dceaf2"/><rect x="874.30" y="371.40" width="22.67" height="22.70" fill="#fbfcfc"/><rect x="896.57" y="371.40" width="22.67" height="22.70" fill="#cc4c44"/><rect x="918.84" y="371.40" width="22.67" height="22.70" fill="#fdfdfd"/><rect x="941.11" y="371.40" width="22.67" height="22.70" fill="#ecf3f7"/><rect x="963.38" y="371.40" width="22.67" height="22.70" fill="#dceaf2"/><rect x="985.65" y="371.40" width="22.67" height="22.70" fill="#fce3d4"/><rect x="1007.92" y="371.40" width="22.67" height="22.70" fill="#f0f5f8"/><rect x="1030.19" y="371.40" width="22.67" height="22.70" fill="#fcf8f5"/><rect x="1052.46" y="371.40" width="22.67" height="22.70" fill="#d1e5f0"/><rect x="1074.73" y="371.40" width="22.67" height="22.70" fill="#f8bfa4"/><rect x="1097.00" y="371.40" width="22.67" height="22.70" fill="#fcfbfb"/><rect x="1119.27" y="371.40" width="22.67" height="22.70" fill="#dceaf2"/><rect x="1141.54" y="371.40" width="22.67" height="22.70" fill="#c0dceb"/><rect x="1163.81" y="371.40" width="22.67" height="22.70" fill="#e8896c"/><rect x="1186.08" y="371.40" width="22.67" height="22.70" fill="#cae1ee"/><rect x="1208.35" y="371.40" width="22.67" height="22.70" fill="#fbefe8"/><rect x="1230.62" y="371.40" width="22.67" height="22.70" fill="#ecf3f7"/><rect x="1252.89" y="371.40" width="22.67" height="22.70" fill="#fbefe8"/><rect x="1275.16" y="371.40" width="22.67" height="22.70" fill="#fbfcfc"/><rect x="1297.43" y="371.40" width="22.67" height="22.70" fill="#e6f0f5"/><rect x="1319.70" y="371.40" width="22.67" height="22.70" fill="#98c8e0"/><rect x="1341.97" y="371.40" width="22.67" height="22.70" fill="#d1e5f0"/><rect x="1364.24" y="371.40" width="22.67" height="22.70" fill="#dceaf2"/><rect x="1386.51" y="371.40" width="22.67" height="22.70" fill="#b8d8e9"/><rect x="1408.78" y="371.40" width="22.67" height="22.70" fill="#cae1ee"/><rect x="1431.05" y="371.40" width="22.67" height="22.70" fill="#b1d5e7"/><rect x="874.30" y="393.70" width="22.67" height="22.70" fill="#4997c5"/><rect x="896.57" y="393.70" width="22.67" height="22.70" fill="#dceaf2"/><rect x="918.84" y="393.70" width="22.67" height="22.70" fill="#a7d0e4"/><rect x="941.11" y="393.70" width="22.67" height="22.70" fill="#f0f5f8"/><rect x="963.38" y="393.70" width="22.67" height="22.70" fill="#f8bfa4"/><rect x="985.65" y="393.70" width="22.67" height="22.70" fill="#f3f7f9"/><rect x="1007.92" y="393.70" width="22.67" height="22.70" fill="#f8bfa4"/><rect x="1030.19" y="393.70" width="22.67" height="22.70" fill="#fdddcb"/><rect x="1052.46" y="393.70" width="22.67" height="22.70" fill="#dceaf2"/><rect x="1074.73" y="393.70" width="22.67" height="22.70" fill="#fcf5f1"/><rect x="1097.00" y="393.70" width="22.67" height="22.70" fill="#fdfdfd"/><rect x="1119.27" y="393.70" width="22.67" height="22.70" fill="#dceaf2"/><rect x="1141.54" y="393.70" width="22.67" height="22.70" fill="#98c8e0"/><rect x="1163.81" y="393.70" width="22.67" height="22.70" fill="#fdfdfd"/><rect x="1186.08" y="393.70" width="22.67" height="22.70" fill="#cae1ee"/><rect x="1208.35" y="393.70" width="22.67" height="22.70" fill="#fcfbfb"/><rect x="1230.62" y="393.70" width="22.67" height="22.70" fill="#f8bb9e"/><rect x="1252.89" y="393.70" width="22.67" height="22.70" fill="#dceaf2"/><rect x="1275.16" y="393.70" width="22.67" height="22.70" fill="#fdfdfd"/><rect x="1297.43" y="393.70" width="22.67" height="22.70" fill="#b1d5e7"/><rect x="1319.70" y="393.70" width="22.67" height="22.70" fill="#f6f9fa"/><rect x="1341.97" y="393.70" width="22.67" height="22.70" fill="#dceaf2"/><rect x="1364.24" y="393.70" width="22.67" height="22.70" fill="#cae1ee"/><rect x="1386.51" y="393.70" width="22.67" height="22.70" fill="#b8d8e9"/><rect x="1408.78" y="393.70" width="22.67" height="22.70" fill="#90c4dd"/><rect x="1431.05" y="393.70" width="22.67" height="22.70" fill="#a7d0e4"/><rect x="874.30" y="416.00" width="22.67" height="22.70" fill="#f8bfa4"/><rect x="896.57" y="416.00" width="22.67" height="22.70" fill="#fce3d4"/><rect x="918.84" y="416.00" width="22.67" height="22.70" fill="#fddbc7"/><rect x="941.11" y="416.00" width="22.67" height="22.70" fill="#b82531"/><rect x="963.38" y="416.00" width="22.67" height="22.70" fill="#ec9374"/><rect x="985.65" y="416.00" width="22.67" height="22.70" fill="#dd7059"/><rect x="1007.92" y="416.00" width="22.67" height="22.70" fill="#f5aa89"/><rect x="1030.19" y="416.00" width="22.67" height="22.70" fill="#f5aa89"/><rect x="1052.46" y="416.00" width="22.67" height="22.70" fill="#e27b62"/><rect x="1074.73" y="416.00" width="22.67" height="22.70" fill="#e6f0f5"/><rect x="1097.00" y="416.00" width="22.67" height="22.70" fill="#fcd5bf"/><rect x="1119.27" y="416.00" width="22.67" height="22.70" fill="#fbfcfc"/><rect x="1141.54" y="416.00" width="22.67" height="22.70" fill="#fcfaf9"/><rect x="1163.81" y="416.00" width="22.67" height="22.70" fill="#fbebe1"/><rect x="1186.08" y="416.00" width="22.67" height="22.70" fill="#fddbc7"/><rect x="1208.35" y="416.00" width="22.67" height="22.70" fill="#d4e6f1"/><rect x="1230.62" y="416.00" width="22.67" height="22.70" fill="#c0dceb"/><rect x="1252.89" y="416.00" width="22.67" height="22.70" fill="#fcf3ee"/><rect x="1275.16" y="416.00" width="22.67" height="22.70" fill="#f8bb9e"/><rect x="1297.43" y="416.00" width="22.67" height="22.70" fill="#fcd5bf"/><rect x="1319.70" y="416.00" width="22.67" height="22.70" fill="#fbefe8"/><rect x="1341.97" y="416.00" width="22.67" height="22.70" fill="#fcf8f5"/><rect x="1364.24" y="416.00" width="22.67" height="22.70" fill="#d1e5f0"/><rect x="1386.51" y="416.00" width="22.67" height="22.70" fill="#fdfdfd"/><rect x="1408.78" y="416.00" width="22.67" height="22.70" fill="#ecf3f7"/><rect x="1431.05" y="416.00" width="22.67" height="22.70" fill="#dceaf2"/><rect x="874.30" y="438.30" width="22.67" height="22.70" fill="#f0f5f8"/><rect x="896.57" y="438.30" width="22.67" height="22.70" fill="#f0f5f8"/><rect x="918.84" y="438.30" width="22.67" height="22.70" fill="#fcd5bf"/><rect x="941.11" y="438.30" width="22.67" height="22.70" fill="#d6604d"/><rect x="963.38" y="438.30" width="22.67" height="22.70" fill="#d25849"/><rect x="985.65" y="438.30" width="22.67" height="22.70" fill="#ec9374"/><rect x="1007.92" y="438.30" width="22.67" height="22.70" fill="#f6b394"/><rect x="1030.19" y="438.30" width="22.67" height="22.70" fill="#f6b394"/><rect x="1052.46" y="438.30" width="22.67" height="22.70" fill="#f5aa89"/><rect x="1074.73" y="438.30" width="22.67" height="22.70" fill="#f0f5f8"/><rect x="1097.00" y="438.30" width="22.67" height="22.70" fill="#f6b394"/><rect x="1119.27" y="438.30" width="22.67" height="22.70" fill="#c0dceb"/><rect x="1141.54" y="438.30" width="22.67" height="22.70" fill="#f9c6ac"/><rect x="1163.81" y="438.30" width="22.67" height="22.70" fill="#dceaf2"/><rect x="1186.08" y="438.30" width="22.67" height="22.70" fill="#f6b394"/><rect x="1208.35" y="438.30" width="22.67" height="22.70" fill="#569fc9"/><rect x="1230.62" y="438.30" width="22.67" height="22.70" fill="#fcfaf9"/><rect x="1252.89" y="438.30" width="22.67" height="22.70" fill="#ecf3f7"/><rect x="1275.16" y="438.30" width="22.67" height="22.70" fill="#f19e7d"/><rect x="1297.43" y="438.30" width="22.67" height="22.70" fill="#f3f7f9"/><rect x="1319.70" y="438.30" width="22.67" height="22.70" fill="#f8bfa4"/><rect x="1341.97" y="438.30" width="22.67" height="22.70" fill="#fdfdfd"/><rect x="1364.24" y="438.30" width="22.67" height="22.70" fill="#e6f0f5"/><rect x="1386.51" y="438.30" width="22.67" height="22.70" fill="#fdddcb"/><rect x="1408.78" y="438.30" width="22.67" height="22.70" fill="#fcf3ee"/><rect x="1431.05" y="438.30" width="22.67" height="22.70" fill="#fcf8f5"/><rect x="874.30" y="460.60" width="22.67" height="22.70" fill="#c0dceb"/><rect x="896.57" y="460.60" width="22.67" height="22.70" fill="#c0dceb"/><rect x="918.84" y="460.60" width="22.67" height="22.70" fill="#b1d5e7"/><rect x="941.11" y="460.60" width="22.67" height="22.70" fill="#3f8ec0"/><rect x="963.38" y="460.60" width="22.67" height="22.70" fill="#569fc9"/><rect x="985.65" y="460.60" width="22.67" height="22.70" fill="#4997c5"/><rect x="1007.92" y="460.60" width="22.67" height="22.70" fill="#a2cde3"/><rect x="1030.19" y="460.60" width="22.67" height="22.70" fill="#a2cde3"/><rect x="1052.46" y="460.60" width="22.67" height="22.70" fill="#b1d5e7"/><rect x="1074.73" y="460.60" width="22.67" height="22.70" fill="#fddbc7"/><rect x="1097.00" y="460.60" width="22.67" height="22.70" fill="#f6f9fa"/><rect x="1119.27" y="460.60" width="22.67" height="22.70" fill="#fbfcfc"/><rect x="1141.54" y="460.60" width="22.67" height="22.70" fill="#fafbfb"/><rect x="1163.81" y="460.60" width="22.67" height="22.70" fill="#fbfcfc"/><rect x="1186.08" y="460.60" width="22.67" height="22.70" fill="#dceaf2"/><rect x="1208.35" y="460.60" width="22.67" height="22.70" fill="#fdddcb"/><rect x="1230.62" y="460.60" width="22.67" height="22.70" fill="#fcf5f1"/><rect x="1252.89" y="460.60" width="22.67" height="22.70" fill="#fdddcb"/><rect x="1275.16" y="460.60" width="22.67" height="22.70" fill="#f6f9fa"/><rect x="1297.43" y="460.60" width="22.67" height="22.70" fill="#f3f7f9"/><rect x="1319.70" y="460.60" width="22.67" height="22.70" fill="#cae1ee"/><rect x="1341.97" y="460.60" width="22.67" height="22.70" fill="#d4e6f1"/><rect x="1364.24" y="460.60" width="22.67" height="22.70" fill="#fbebe1"/><rect x="1386.51" y="460.60" width="22.67" height="22.70" fill="#fcf8f5"/><rect x="1408.78" y="460.60" width="22.67" height="22.70" fill="#fbefe8"/><rect x="1431.05" y="460.60" width="22.67" height="22.70" fill="#fbefe8"/><rect x="874.30" y="482.90" width="22.67" height="22.70" fill="#fcf5f1"/><rect x="896.57" y="482.90" width="22.67" height="22.70" fill="#f19e7d"/><rect x="918.84" y="482.90" width="22.67" height="22.70" fill="#fbceb7"/><rect x="941.11" y="482.90" width="22.67" height="22.70" fill="#f6f9fa"/><rect x="963.38" y="482.90" width="22.67" height="22.70" fill="#fdddcb"/><rect x="985.65" y="482.90" width="22.67" height="22.70" fill="#fcfaf9"/><rect x="1007.92" y="482.90" width="22.67" height="22.70" fill="#e6f0f5"/><rect x="1030.19" y="482.90" width="22.67" height="22.70" fill="#f0f5f8"/><rect x="1052.46" y="482.90" width="22.67" height="22.70" fill="#fdfdfd"/><rect x="1074.73" y="482.90" width="22.67" height="22.70" fill="#fddbc7"/><rect x="1097.00" y="482.90" width="22.67" height="22.70" fill="#c0dceb"/><rect x="1119.27" y="482.90" width="22.67" height="22.70" fill="#ecf3f7"/><rect x="1141.54" y="482.90" width="22.67" height="22.70" fill="#fcf3ee"/><rect x="1163.81" y="482.90" width="22.67" height="22.70" fill="#fdfdfd"/><rect x="1186.08" y="482.90" width="22.67" height="22.70" fill="#fcf8f5"/><rect x="1208.35" y="482.90" width="22.67" height="22.70" fill="#fbebe1"/><rect x="1230.62" y="482.90" width="22.67" height="22.70" fill="#fbebe1"/><rect x="1252.89" y="482.90" width="22.67" height="22.70" fill="#c0dceb"/><rect x="1275.16" y="482.90" width="22.67" height="22.70" fill="#fddbc7"/><rect x="1297.43" y="482.90" width="22.67" height="22.70" fill="#fbfcfc"/><rect x="1319.70" y="482.90" width="22.67" height="22.70" fill="#fce3d4"/><rect x="1341.97" y="482.90" width="22.67" height="22.70" fill="#f5aa89"/><rect x="1364.24" y="482.90" width="22.67" height="22.70" fill="#98c8e0"/><rect x="1386.51" y="482.90" width="22.67" height="22.70" fill="#ecf3f7"/><rect x="1408.78" y="482.90" width="22.67" height="22.70" fill="#f0f5f8"/><rect x="1431.05" y="482.90" width="22.67" height="22.70" fill="#ecf3f7"/><rect x="874.30" y="505.20" width="22.67" height="22.70" fill="#d1e5f0"/><rect x="896.57" y="505.20" width="22.67" height="22.70" fill="#fce3d4"/><rect x="918.84" y="505.20" width="22.67" height="22.70" fill="#fcfaf9"/><rect x="941.11" y="505.20" width="22.67" height="22.70" fill="#ecf3f7"/><rect x="963.38" y="505.20" width="22.67" height="22.70" fill="#f8bb9e"/><rect x="985.65" y="505.20" width="22.67" height="22.70" fill="#dceaf2"/><rect x="1007.92" y="505.20" width="22.67" height="22.70" fill="#e6f0f5"/><rect x="1030.19" y="505.20" width="22.67" height="22.70" fill="#a7d0e4"/><rect x="1052.46" y="505.20" width="22.67" height="22.70" fill="#dceaf2"/><rect x="1074.73" y="505.20" width="22.67" height="22.70" fill="#fce3d4"/><rect x="1097.00" y="505.20" width="22.67" height="22.70" fill="#e6f0f5"/><rect x="1119.27" y="505.20" width="22.67" height="22.70" fill="#fcf8f5"/><rect x="1141.54" y="505.20" width="22.67" height="22.70" fill="#e6f0f5"/><rect x="1163.81" y="505.20" width="22.67" height="22.70" fill="#fbefe8"/><rect x="1186.08" y="505.20" width="22.67" height="22.70" fill="#e6f0f5"/><rect x="1208.35" y="505.20" width="22.67" height="22.70" fill="#f8bfa4"/><rect x="1230.62" y="505.20" width="22.67" height="22.70" fill="#fcf8f5"/><rect x="1252.89" y="505.20" width="22.67" height="22.70" fill="#fcf8f5"/><rect x="1275.16" y="505.20" width="22.67" height="22.70" fill="#fce3d4"/><rect x="1297.43" y="505.20" width="22.67" height="22.70" fill="#fdfdfd"/><rect x="1319.70" y="505.20" width="22.67" height="22.70" fill="#fdfdfd"/><rect x="1341.97" y="505.20" width="22.67" height="22.70" fill="#fcf8f5"/><rect x="1364.24" y="505.20" width="22.67" height="22.70" fill="#98c8e0"/><rect x="1386.51" y="505.20" width="22.67" height="22.70" fill="#d1e5f0"/><rect x="1408.78" y="505.20" width="22.67" height="22.70" fill="#b1d5e7"/><rect x="1431.05" y="505.20" width="22.67" height="22.70" fill="#b1d5e7"/><rect x="874.30" y="527.50" width="22.67" height="22.70" fill="#b8d8e9"/><rect x="896.57" y="527.50" width="22.67" height="22.70" fill="#ec9374"/><rect x="918.84" y="527.50" width="22.67" height="22.70" fill="#ecf3f7"/><rect x="941.11" y="527.50" width="22.67" height="22.70" fill="#ecf3f7"/><rect x="963.38" y="527.50" width="22.67" height="22.70" fill="#f3f7f9"/><rect x="985.65" y="527.50" width="22.67" height="22.70" fill="#fbfcfc"/><rect x="1007.92" y="527.50" width="22.67" height="22.70" fill="#f3f7f9"/><rect x="1030.19" y="527.50" width="22.67" height="22.70" fill="#fafbfb"/><rect x="1052.46" y="527.50" width="22.67" height="22.70" fill="#fcf3ee"/><rect x="1074.73" y="527.50" width="22.67" height="22.70" fill="#fbceb7"/><rect x="1097.00" y="527.50" width="22.67" height="22.70" fill="#fbceb7"/><rect x="1119.27" y="527.50" width="22.67" height="22.70" fill="#75b2d4"/><rect x="1141.54" y="527.50" width="22.67" height="22.70" fill="#d4e6f1"/><rect x="1163.81" y="527.50" width="22.67" height="22.70" fill="#fdddcb"/><rect x="1186.08" y="527.50" width="22.67" height="22.70" fill="#d1e5f0"/><rect x="1208.35" y="527.50" width="22.67" height="22.70" fill="#e6f0f5"/><rect x="1230.62" y="527.50" width="22.67" height="22.70" fill="#d1e5f0"/><rect x="1252.89" y="527.50" width="22.67" height="22.70" fill="#f6f9fa"/><rect x="1275.16" y="527.50" width="22.67" height="22.70" fill="#fce3d4"/><rect x="1297.43" y="527.50" width="22.67" height="22.70" fill="#a7d0e4"/><rect x="1319.70" y="527.50" width="22.67" height="22.70" fill="#b8d8e9"/><rect x="1341.97" y="527.50" width="22.67" height="22.70" fill="#dceaf2"/><rect x="1364.24" y="527.50" width="22.67" height="22.70" fill="#d1e5f0"/><rect x="1386.51" y="527.50" width="22.67" height="22.70" fill="#98c8e0"/><rect x="1408.78" y="527.50" width="22.67" height="22.70" fill="#98c8e0"/><rect x="1431.05" y="527.50" width="22.67" height="22.70" fill="#90c4dd"/><text class="st" x="885.73" y="370.55" text-anchor="middle">*</text><text class="st" x="902.80" y="392.85" text-anchor="middle">*</text><text class="st" x="912.80" y="392.85" text-anchor="middle">*</text><text class="st" x="885.73" y="415.15" text-anchor="middle">*</text><text class="st" x="947.34" y="437.45" text-anchor="middle">*</text><text class="st" x="957.34" y="437.45" text-anchor="middle">*</text><text class="st" x="997.08" y="437.45" text-anchor="middle">*</text><text class="st" x="1063.89" y="437.45" text-anchor="middle">*</text><text class="st" x="952.54" y="459.75" text-anchor="middle">*</text><text class="st" x="974.81" y="459.75" text-anchor="middle">*</text><text class="st" x="1219.78" y="459.75" text-anchor="middle">*</text><text class="st" x="952.54" y="482.05" text-anchor="middle">*</text><text class="st" x="974.81" y="482.05" text-anchor="middle">*</text><text class="st" x="997.08" y="482.05" text-anchor="middle">*</text><text class="cl" x="886.23" y="341.90" style="font-size:16.40px" text-anchor="middle" textLength="10.17" lengthAdjust="spacingAndGlyphs">R</text><text class="cl" x="907.70" y="341.90" style="font-size:16.40px" text-anchor="middle" textLength="19.50" lengthAdjust="spacingAndGlyphs">AP</text><text class="cl" x="930.77" y="341.90" style="font-size:16.40px" text-anchor="middle" textLength="11.01" lengthAdjust="spacingAndGlyphs">N</text><text class="cl" x="952.24" y="341.90" style="font-size:16.40px" text-anchor="middle" textLength="8.48" lengthAdjust="spacingAndGlyphs">P</text><text class="cl" x="971.01" y="341.90" style="font-size:16.40px" text-anchor="middle" textLength="20.33" lengthAdjust="spacingAndGlyphs">DL</text><text class="cl" x="994.38" y="341.90" style="font-size:16.40px" text-anchor="middle" textLength="20.33" lengthAdjust="spacingAndGlyphs">AE</text><text class="cl" x="1019.05" y="341.90" style="font-size:16.40px" text-anchor="middle" textLength="20.35" lengthAdjust="spacingAndGlyphs">RC</text><text class="cl" x="1041.33" y="341.90" style="font-size:16.40px" text-anchor="middle" textLength="8.48" lengthAdjust="spacingAndGlyphs">F</text><text class="cl" x="1063.60" y="341.90" style="font-size:16.40px" text-anchor="middle" textLength="21.19" lengthAdjust="spacingAndGlyphs">AB</text><text class="cl" x="1085.87" y="341.90" style="font-size:16.40px" text-anchor="middle" textLength="18.63" lengthAdjust="spacingAndGlyphs">EE</text><text class="cl" x="1108.13" y="341.90" style="font-size:16.40px" text-anchor="middle" textLength="21.19" lengthAdjust="spacingAndGlyphs">AC</text><text class="cl" x="1130.40" y="341.90" style="font-size:16.40px" text-anchor="middle" textLength="14.40" lengthAdjust="spacingAndGlyphs">IE</text><text class="cl" x="1151.47" y="341.90" style="font-size:16.40px" text-anchor="middle" textLength="18.10" lengthAdjust="spacingAndGlyphs">PA</text><text class="cl" x="1173.74" y="341.90" style="font-size:16.40px" text-anchor="middle" textLength="11.01" lengthAdjust="spacingAndGlyphs">A</text><text class="cl" x="1196.01" y="341.90" style="font-size:16.40px" text-anchor="middle" textLength="9.32" lengthAdjust="spacingAndGlyphs">T</text><text class="cl" x="1219.48" y="341.90" style="font-size:16.40px" text-anchor="middle" textLength="11.01" lengthAdjust="spacingAndGlyphs">D</text><text class="cl" x="1241.75" y="341.90" style="font-size:16.40px" text-anchor="middle" textLength="11.01" lengthAdjust="spacingAndGlyphs">V</text><text class="cl" x="1264.02" y="341.90" style="font-size:16.40px" text-anchor="middle" textLength="13.56" lengthAdjust="spacingAndGlyphs">M</text><text class="cl" x="1286.30" y="341.90" style="font-size:16.40px" text-anchor="middle" textLength="9.32" lengthAdjust="spacingAndGlyphs">E</text><text class="cl" x="1306.77" y="341.90" style="font-size:16.40px" text-anchor="middle" textLength="18.63" lengthAdjust="spacingAndGlyphs">LE</text><text class="cl" x="1329.63" y="341.90" style="font-size:16.40px" text-anchor="middle" textLength="19.50" lengthAdjust="spacingAndGlyphs">NS</text><text class="cl" x="1352.31" y="341.90" style="font-size:16.40px" text-anchor="middle" textLength="19.50" lengthAdjust="spacingAndGlyphs">DS</text><text class="cl" x="1374.17" y="341.90" style="font-size:16.40px" text-anchor="middle" textLength="19.50" lengthAdjust="spacingAndGlyphs">VS</text><text class="cl" x="1396.85" y="341.90" style="font-size:16.40px" text-anchor="middle" textLength="19.50" lengthAdjust="spacingAndGlyphs">AS</text><text class="cl" x="1419.32" y="340.20" style="font-size:12.80px" text-anchor="middle" textLength="21.82" lengthAdjust="spacingAndGlyphs">VAC</text><text class="cl" x="1441.59" y="341.90" style="font-size:16.40px" text-anchor="middle" textLength="19.50" lengthAdjust="spacingAndGlyphs">OS</text><text class="rl" x="863.90" y="367.25" style="font-size:18.30px" text-anchor="end" textLength="25.17" lengthAdjust="spacingAndGlyphs">HR</text><text class="rl" x="863.90" y="389.55" style="font-size:18.30px" text-anchor="end" textLength="45.71" lengthAdjust="spacingAndGlyphs">RESP</text><text class="rl" x="863.90" y="411.85" style="font-size:18.30px" text-anchor="end" textLength="52.08" lengthAdjust="spacingAndGlyphs">LF/HF</text><text class="rl" x="863.90" y="434.15" style="font-size:18.30px" text-anchor="end" textLength="53.56" lengthAdjust="spacingAndGlyphs">α-EEG</text><text class="rl" x="863.90" y="456.45" style="font-size:18.30px" text-anchor="end" textLength="53.27" lengthAdjust="spacingAndGlyphs">β-EEG</text><text class="rl" x="863.90" y="478.75" style="font-size:18.30px" text-anchor="end" textLength="25.66" lengthAdjust="spacingAndGlyphs">β/α</text><text class="rl" x="863.90" y="501.05" style="font-size:18.30px" text-anchor="end" textLength="21.27" lengthAdjust="spacingAndGlyphs">FF</text><text class="rl" x="863.90" y="523.35" style="font-size:18.30px" text-anchor="end" textLength="38.26" lengthAdjust="spacingAndGlyphs">APD</text><text class="rl" x="863.90" y="545.65" style="font-size:18.30px" text-anchor="end" textLength="21.27" lengthAdjust="spacingAndGlyphs">SF</text><rect x="1463.87" y="349.60" width="21.6" height="200.20" fill="url(#cb)" stroke="#000" stroke-width="1.6"/><line x1="1485.47" x2="1489.87" y1="349.60" y2="349.60" stroke="#000" stroke-width="1.5"/><text class="tl" x="1499.17" y="356.00" style="font-size:18.30px" textLength="23.79" lengthAdjust="spacingAndGlyphs">1.0</text><line x1="1485.47" x2="1489.87" y1="369.62" y2="369.62" stroke="#000" stroke-width="1.5"/><text class="tl" x="1499.17" y="375.55" style="font-size:18.30px" textLength="23.79" lengthAdjust="spacingAndGlyphs">0.8</text><line x1="1485.47" x2="1489.87" y1="389.64" y2="389.64" stroke="#000" stroke-width="1.5"/><text class="tl" x="1499.17" y="395.10" style="font-size:18.30px" textLength="23.79" lengthAdjust="spacingAndGlyphs">0.6</text><line x1="1485.47" x2="1489.87" y1="409.66" y2="409.66" stroke="#000" stroke-width="1.5"/><text class="tl" x="1499.17" y="414.65" style="font-size:18.30px" textLength="23.79" lengthAdjust="spacingAndGlyphs">0.4</text><line x1="1485.47" x2="1489.87" y1="429.68" y2="429.68" stroke="#000" stroke-width="1.5"/><text class="tl" x="1499.17" y="434.20" style="font-size:18.30px" textLength="23.79" lengthAdjust="spacingAndGlyphs">0.2</text><line x1="1485.47" x2="1489.87" y1="449.70" y2="449.70" stroke="#000" stroke-width="1.5"/><text class="tl" x="1499.17" y="453.75" style="font-size:18.30px" textLength="9.52" lengthAdjust="spacingAndGlyphs">0</text><line x1="1485.47" x2="1489.87" y1="469.72" y2="469.72" stroke="#000" stroke-width="1.5"/><text class="tl" x="1496.37" y="473.30" style="font-size:18.30px" textLength="30.13" lengthAdjust="spacingAndGlyphs">-0.2</text><line x1="1485.47" x2="1489.87" y1="489.74" y2="489.74" stroke="#000" stroke-width="1.5"/><text class="tl" x="1496.37" y="492.85" style="font-size:18.30px" textLength="30.13" lengthAdjust="spacingAndGlyphs">-0.4</text><line x1="1485.47" x2="1489.87" y1="509.76" y2="509.76" stroke="#000" stroke-width="1.5"/><text class="tl" x="1496.37" y="512.40" style="font-size:18.30px" textLength="30.13" lengthAdjust="spacingAndGlyphs">-0.6</text><line x1="1485.47" x2="1489.87" y1="529.78" y2="529.78" stroke="#000" stroke-width="1.5"/><text class="tl" x="1496.37" y="531.95" style="font-size:18.30px" textLength="30.13" lengthAdjust="spacingAndGlyphs">-0.8</text><line x1="1485.47" x2="1489.87" y1="549.80" y2="549.80" stroke="#000" stroke-width="1.5"/><text class="tl" x="1496.37" y="551.50" style="font-size:18.30px" textLength="30.13" lengthAdjust="spacingAndGlyphs">-1.0</text><text class="cap" x="963.70" y="604.30" style="font-size:23.8px" textLength="367.30" lengthAdjust="spacingAndGlyphs">(d)  Short path &amp; Downhill &amp; Young</text></g>
<g><rect x="72.05" y="672.35" width="22.67" height="22.70" fill="#b1d5e7"/><rect x="94.32" y="672.35" width="22.67" height="22.70" fill="#dceaf2"/><rect x="116.59" y="672.35" width="22.67" height="22.70" fill="#84bcd9"/><rect x="138.86" y="672.35" width="22.67" height="22.70" fill="#acd2e5"/><rect x="161.13" y="672.35" width="22.67" height="22.70" fill="#ecf3f7"/><rect x="183.40" y="672.35" width="22.67" height="22.70" fill="#c0dceb"/><rect x="205.67" y="672.35" width="22.67" height="22.70" fill="#fcf8f5"/><rect x="227.94" y="672.35" width="22.67" height="22.70" fill="#fbebe1"/><rect x="250.21" y="672.35" width="22.67" height="22.70" fill="#b1d5e7"/><rect x="272.48" y="672.35" width="22.67" height="22.70" fill="#dceaf2"/><rect x="294.75" y="672.35" width="22.67" height="22.70" fill="#fbebe1"/><rect x="317.02" y="672.35" width="22.67" height="22.70" fill="#fcf8f5"/><rect x="339.29" y="672.35" width="22.67" height="22.70" fill="#dceaf2"/><rect x="361.56" y="672.35" width="22.67" height="22.70" fill="#fce0d0"/><rect x="383.83" y="672.35" width="22.67" height="22.70" fill="#f0f5f8"/><rect x="406.10" y="672.35" width="22.67" height="22.70" fill="#e27b62"/><rect x="428.37" y="672.35" width="22.67" height="22.70" fill="#a2cde3"/><rect x="450.64" y="672.35" width="22.67" height="22.70" fill="#f0f5f8"/><rect x="472.91" y="672.35" width="22.67" height="22.70" fill="#fbefe8"/><rect x="495.18" y="672.35" width="22.67" height="22.70" fill="#d4e6f1"/><rect x="517.45" y="672.35" width="22.67" height="22.70" fill="#fbefe8"/><rect x="539.72" y="672.35" width="22.67" height="22.70" fill="#f6f9fa"/><rect x="561.99" y="672.35" width="22.67" height="22.70" fill="#fcf8f5"/><rect x="584.26" y="672.35" width="22.67" height="22.70" fill="#fdfdfd"/><rect x="606.53" y="672.35" width="22.67" height="22.70" fill="#8ac0db"/><rect x="628.80" y="672.35" width="22.67" height="22.70" fill="#b8d8e9"/><rect x="72.05" y="694.65" width="22.67" height="22.70" fill="#fcf3ee"/><rect x="94.32" y="694.65" width="22.67" height="22.70" fill="#f0f5f8"/><rect x="116.59" y="694.65" width="22.67" height="22.70" fill="#fdfdfd"/><rect x="138.86" y="694.65" width="22.67" height="22.70" fill="#f3f7f9"/><rect x="161.13" y="694.65" width="22.67" height="22.70" fill="#fbefe8"/><rect x="183.40" y="694.65" width="22.67" height="22.70" fill="#fbebe1"/><rect x="205.67" y="694.65" width="22.67" height="22.70" fill="#f8bb9e"/><rect x="227.94" y="694.65" width="22.67" height="22.70" fill="#fcf3ee"/><rect x="250.21" y="694.65" width="22.67" height="22.70" fill="#fafbfb"/><rect x="272.48" y="694.65" width="22.67" height="22.70" fill="#a2cde3"/><rect x="294.75" y="694.65" width="22.67" height="22.70" fill="#f3a481"/><rect x="317.02" y="694.65" width="22.67" height="22.70" fill="#fcf3ee"/><rect x="339.29" y="694.65" width="22.67" height="22.70" fill="#fdfdfd"/><rect x="361.56" y="694.65" width="22.67" height="22.70" fill="#d4e6f1"/><rect x="383.83" y="694.65" width="22.67" height="22.70" fill="#fcd5bf"/><rect x="406.10" y="694.65" width="22.67" height="22.70" fill="#fcf3ee"/><rect x="428.37" y="694.65" width="22.67" height="22.70" fill="#fdfdfd"/><rect x="450.64" y="694.65" width="22.67" height="22.70" fill="#fbfcfc"/><rect x="472.91" y="694.65" width="22.67" height="22.70" fill="#d1e5f0"/><rect x="495.18" y="694.65" width="22.67" height="22.70" fill="#fdfdfd"/><rect x="517.45" y="694.65" width="22.67" height="22.70" fill="#f9c6ac"/><rect x="539.72" y="694.65" width="22.67" height="22.70" fill="#fbceb7"/><rect x="561.99" y="694.65" width="22.67" height="22.70" fill="#f8bfa4"/><rect x="584.26" y="694.65" width="22.67" height="22.70" fill="#fcf8f5"/><rect x="606.53" y="694.65" width="22.67" height="22.70" fill="#dceaf2"/><rect x="628.80" y="694.65" width="22.67" height="22.70" fill="#fbefe8"/><rect x="72.05" y="716.95" width="22.67" height="22.70" fill="#acd2e5"/><rect x="94.32" y="716.95" width="22.67" height="22.70" fill="#c0dceb"/><rect x="116.59" y="716.95" width="22.67" height="22.70" fill="#b1d5e7"/><rect x="138.86" y="716.95" width="22.67" height="22.70" fill="#b1d5e7"/><rect x="161.13" y="716.95" width="22.67" height="22.70" fill="#90c4dd"/><rect x="183.40" y="716.95" width="22.67" height="22.70" fill="#c0dceb"/><rect x="205.67" y="716.95" width="22.67" height="22.70" fill="#c0dceb"/><rect x="227.94" y="716.95" width="22.67" height="22.70" fill="#a2cde3"/><rect x="250.21" y="716.95" width="22.67" height="22.70" fill="#b8d8e9"/><rect x="272.48" y="716.95" width="22.67" height="22.70" fill="#fcf3ee"/><rect x="294.75" y="716.95" width="22.67" height="22.70" fill="#c0dceb"/><rect x="317.02" y="716.95" width="22.67" height="22.70" fill="#90c4dd"/><rect x="339.29" y="716.95" width="22.67" height="22.70" fill="#62a7ce"/><rect x="361.56" y="716.95" width="22.67" height="22.70" fill="#f8bfa4"/><rect x="383.83" y="716.95" width="22.67" height="22.70" fill="#acd2e5"/><rect x="406.10" y="716.95" width="22.67" height="22.70" fill="#fdddcb"/><rect x="428.37" y="716.95" width="22.67" height="22.70" fill="#d1e5f0"/><rect x="450.64" y="716.95" width="22.67" height="22.70" fill="#fbebe1"/><rect x="472.91" y="716.95" width="22.67" height="22.70" fill="#a7d0e4"/><rect x="495.18" y="716.95" width="22.67" height="22.70" fill="#f9c6ac"/><rect x="517.45" y="716.95" width="22.67" height="22.70" fill="#b1d5e7"/><rect x="539.72" y="716.95" width="22.67" height="22.70" fill="#a2cde3"/><rect x="561.99" y="716.95" width="22.67" height="22.70" fill="#a2cde3"/><rect x="584.26" y="716.95" width="22.67" height="22.70" fill="#dceaf2"/><rect x="606.53" y="716.95" width="22.67" height="22.70" fill="#f3f7f9"/><rect x="628.80" y="716.95" width="22.67" height="22.70" fill="#acd2e5"/><rect x="72.05" y="739.25" width="22.67" height="22.70" fill="#e27b62"/><rect x="94.32" y="739.25" width="22.67" height="22.70" fill="#fdfdfd"/><rect x="116.59" y="739.25" width="22.67" height="22.70" fill="#fce3d4"/><rect x="138.86" y="739.25" width="22.67" height="22.70" fill="#fcd5bf"/><rect x="161.13" y="739.25" width="22.67" height="22.70" fill="#fcd5bf"/><rect x="183.40" y="739.25" width="22.67" height="22.70" fill="#f6b394"/><rect x="205.67" y="739.25" width="22.67" height="22.70" fill="#f5aa89"/><rect x="227.94" y="739.25" width="22.67" height="22.70" fill="#fddbc7"/><rect x="250.21" y="739.25" width="22.67" height="22.70" fill="#fafbfb"/><rect x="272.48" y="739.25" width="22.67" height="22.70" fill="#f0f5f8"/><rect x="294.75" y="739.25" width="22.67" height="22.70" fill="#e98b6e"/><rect x="317.02" y="739.25" width="22.67" height="22.70" fill="#dd7059"/><rect x="339.29" y="739.25" width="22.67" height="22.70" fill="#f6b394"/><rect x="361.56" y="739.25" width="22.67" height="22.70" fill="#f6f9fa"/><rect x="383.83" y="739.25" width="22.67" height="22.70" fill="#fddbc7"/><rect x="406.10" y="739.25" width="22.67" height="22.70" fill="#f6f9fa"/><rect x="428.37" y="739.25" width="22.67" height="22.70" fill="#e27b62"/><rect x="450.64" y="739.25" width="22.67" height="22.70" fill="#f5aa89"/><rect x="472.91" y="739.25" width="22.67" height="22.70" fill="#f5aa89"/><rect x="495.18" y="739.25" width="22.67" height="22.70" fill="#e6f0f5"/><rect x="517.45" y="739.25" width="22.67" height="22.70" fill="#fcd5bf"/><rect x="539.72" y="739.25" width="22.67" height="22.70" fill="#f6b394"/><rect x="561.99" y="739.25" width="22.67" height="22.70" fill="#fcf3ee"/><rect x="584.26" y="739.25" width="22.67" height="22.70" fill="#fcf8f5"/><rect x="606.53" y="739.25" width="22.67" height="22.70" fill="#ecf3f7"/><rect x="628.80" y="739.25" width="22.67" height="22.70" fill="#fbefe8"/><rect x="72.05" y="761.55" width="22.67" height="22.70" fill="#f19e7d"/><rect x="94.32" y="761.55" width="22.67" height="22.70" fill="#fddbc7"/><rect x="116.59" y="761.55" width="22.67" height="22.70" fill="#f9c6ac"/><rect x="138.86" y="761.55" width="22.67" height="22.70" fill="#fcd5bf"/><rect x="161.13" y="761.55" width="22.67" height="22.70" fill="#f19e7d"/><rect x="183.40" y="761.55" width="22.67" height="22.70" fill="#dc6e57"/><rect x="205.67" y="761.55" width="22.67" height="22.70" fill="#e58368"/><rect x="227.94" y="761.55" width="22.67" height="22.70" fill="#fddbc7"/><rect x="250.21" y="761.55" width="22.67" height="22.70" fill="#fdfdfd"/><rect x="272.48" y="761.55" width="22.67" height="22.70" fill="#fcf3ee"/><rect x="294.75" y="761.55" width="22.67" height="22.70" fill="#e27b62"/><rect x="317.02" y="761.55" width="22.67" height="22.70" fill="#d05548"/><rect x="339.29" y="761.55" width="22.67" height="22.70" fill="#e8896c"/><rect x="361.56" y="761.55" width="22.67" height="22.70" fill="#dceaf2"/><rect x="383.83" y="761.55" width="22.67" height="22.70" fill="#fbceb7"/><rect x="406.10" y="761.55" width="22.67" height="22.70" fill="#f3f7f9"/><rect x="428.37" y="761.55" width="22.67" height="22.70" fill="#e27b62"/><rect x="450.64" y="761.55" width="22.67" height="22.70" fill="#f5aa89"/><rect x="472.91" y="761.55" width="22.67" height="22.70" fill="#f5aa89"/><rect x="495.18" y="761.55" width="22.67" height="22.70" fill="#dceaf2"/><rect x="517.45" y="761.55" width="22.67" height="22.70" fill="#f5aa89"/><rect x="539.72" y="761.55" width="22.67" height="22.70" fill="#f19e7d"/><rect x="561.99" y="761.55" width="22.67" height="22.70" fill="#fddbc7"/><rect x="584.26" y="761.55" width="22.67" height="22.70" fill="#fddbc7"/><rect x="606.53" y="761.55" width="22.67" height="22.70" fill="#fcf8f5"/><rect x="628.80" y="761.55" width="22.67" height="22.70" fill="#fcd5bf"/><rect x="72.05" y="783.85" width="22.67" height="22.70" fill="#62a7ce"/><rect x="94.32" y="783.85" width="22.67" height="22.70" fill="#f6f9fa"/><rect x="116.59" y="783.85" width="22.67" height="22.70" fill="#f6f9fa"/><rect x="138.86" y="783.85" width="22.67" height="22.70" fill="#98c8e0"/><rect x="161.13" y="783.85" width="22.67" height="22.70" fill="#f3f7f9"/><rect x="183.40" y="783.85" width="22.67" height="22.70" fill="#ecf3f7"/><rect x="205.67" y="783.85" width="22.67" height="22.70" fill="#fbfcfc"/><rect x="227.94" y="783.85" width="22.67" height="22.70" fill="#b1d5e7"/><rect x="250.21" y="783.85" width="22.67" height="22.70" fill="#f3f7f9"/><rect x="272.48" y="783.85" width="22.67" height="22.70" fill="#fcf5f1"/><rect x="294.75" y="783.85" width="22.67" height="22.70" fill="#b1d5e7"/><rect x="317.02" y="783.85" width="22.67" height="22.70" fill="#b1d5e7"/><rect x="339.29" y="783.85" width="22.67" height="22.70" fill="#d1e5f0"/><rect x="361.56" y="783.85" width="22.67" height="22.70" fill="#f6f9fa"/><rect x="383.83" y="783.85" width="22.67" height="22.70" fill="#f3f7f9"/><rect x="406.10" y="783.85" width="22.67" height="22.70" fill="#f6f9fa"/><rect x="428.37" y="783.85" width="22.67" height="22.70" fill="#569fc9"/><rect x="450.64" y="783.85" width="22.67" height="22.70" fill="#cae1ee"/><rect x="472.91" y="783.85" width="22.67" height="22.70" fill="#62a7ce"/><rect x="495.18" y="783.85" width="22.67" height="22.70" fill="#fbefe8"/><rect x="517.45" y="783.85" width="22.67" height="22.70" fill="#fafbfb"/><rect x="539.72" y="783.85" width="22.67" height="22.70" fill="#dceaf2"/><rect x="561.99" y="783.85" width="22.67" height="22.70" fill="#fbebe1"/><rect x="584.26" y="783.85" width="22.67" height="22.70" fill="#fcf3ee"/><rect x="606.53" y="783.85" width="22.67" height="22.70" fill="#fdfdfd"/><rect x="628.80" y="783.85" width="22.67" height="22.70" fill="#ecf3f7"/><rect x="72.05" y="806.15" width="22.67" height="22.70" fill="#fcfaf9"/><rect x="94.32" y="806.15" width="22.67" height="22.70" fill="#68abd0"/><rect x="116.59" y="806.15" width="22.67" height="22.70" fill="#569fc9"/><rect x="138.86" y="806.15" width="22.67" height="22.70" fill="#dceaf2"/><rect x="161.13" y="806.15" width="22.67" height="22.70" fill="#98c8e0"/><rect x="183.40" y="806.15" width="22.67" height="22.70" fill="#7eb8d7"/><rect x="205.67" y="806.15" width="22.67" height="22.70" fill="#b8d8e9"/><rect x="227.94" y="806.15" width="22.67" height="22.70" fill="#f8bfa4"/><rect x="250.21" y="806.15" width="22.67" height="22.70" fill="#e6f0f5"/><rect x="272.48" y="806.15" width="22.67" height="22.70" fill="#569fc9"/><rect x="294.75" y="806.15" width="22.67" height="22.70" fill="#fddbc7"/><rect x="317.02" y="806.15" width="22.67" height="22.70" fill="#fdfdfd"/><rect x="339.29" y="806.15" width="22.67" height="22.70" fill="#a7d0e4"/><rect x="361.56" y="806.15" width="22.67" height="22.70" fill="#f9c6ac"/><rect x="383.83" y="806.15" width="22.67" height="22.70" fill="#fafbfb"/><rect x="406.10" y="806.15" width="22.67" height="22.70" fill="#e27b62"/><rect x="428.37" y="806.15" width="22.67" height="22.70" fill="#e6f0f5"/><rect x="450.64" y="806.15" width="22.67" height="22.70" fill="#fce3d4"/><rect x="472.91" y="806.15" width="22.67" height="22.70" fill="#e6f0f5"/><rect x="495.18" y="806.15" width="22.67" height="22.70" fill="#fdfdfd"/><rect x="517.45" y="806.15" width="22.67" height="22.70" fill="#e6f0f5"/><rect x="539.72" y="806.15" width="22.67" height="22.70" fill="#fcf5f1"/><rect x="561.99" y="806.15" width="22.67" height="22.70" fill="#fafbfb"/><rect x="584.26" y="806.15" width="22.67" height="22.70" fill="#c0dceb"/><rect x="606.53" y="806.15" width="22.67" height="22.70" fill="#90c4dd"/><rect x="628.80" y="806.15" width="22.67" height="22.70" fill="#e6f0f5"/><rect x="72.05" y="828.45" width="22.67" height="22.70" fill="#fcf5f1"/><rect x="94.32" y="828.45" width="22.67" height="22.70" fill="#fce3d4"/><rect x="116.59" y="828.45" width="22.67" height="22.70" fill="#ec9374"/><rect x="138.86" y="828.45" width="22.67" height="22.70" fill="#f6b394"/><rect x="161.13" y="828.45" width="22.67" height="22.70" fill="#f19e7d"/><rect x="183.40" y="828.45" width="22.67" height="22.70" fill="#f19e7d"/><rect x="205.67" y="828.45" width="22.67" height="22.70" fill="#fddbc7"/><rect x="227.94" y="828.45" width="22.67" height="22.70" fill="#fbefe8"/><rect x="250.21" y="828.45" width="22.67" height="22.70" fill="#fbceb7"/><rect x="272.48" y="828.45" width="22.67" height="22.70" fill="#dceaf2"/><rect x="294.75" y="828.45" width="22.67" height="22.70" fill="#f8bfa4"/><rect x="317.02" y="828.45" width="22.67" height="22.70" fill="#e58368"/><rect x="339.29" y="828.45" width="22.67" height="22.70" fill="#ec9374"/><rect x="361.56" y="828.45" width="22.67" height="22.70" fill="#90c4dd"/><rect x="383.83" y="828.45" width="22.67" height="22.70" fill="#e8896c"/><rect x="406.10" y="828.45" width="22.67" height="22.70" fill="#a2cde3"/><rect x="428.37" y="828.45" width="22.67" height="22.70" fill="#fdfdfd"/><rect x="450.64" y="828.45" width="22.67" height="22.70" fill="#fbceb7"/><rect x="472.91" y="828.45" width="22.67" height="22.70" fill="#fdfdfd"/><rect x="495.18" y="828.45" width="22.67" height="22.70" fill="#fcf3ee"/><rect x="517.45" y="828.45" width="22.67" height="22.70" fill="#f6b394"/><rect x="539.72" y="828.45" width="22.67" height="22.70" fill="#fcf5f1"/><rect x="561.99" y="828.45" width="22.67" height="22.70" fill="#d25849"/><rect x="584.26" y="828.45" width="22.67" height="22.70" fill="#dd7059"/><rect x="606.53" y="828.45" width="22.67" height="22.70" fill="#fdddcb"/><rect x="628.80" y="828.45" width="22.67" height="22.70" fill="#e8896c"/><rect x="72.05" y="850.75" width="22.67" height="22.70" fill="#a2cde3"/><rect x="94.32" y="850.75" width="22.67" height="22.70" fill="#fcfaf9"/><rect x="116.59" y="850.75" width="22.67" height="22.70" fill="#acd2e5"/><rect x="138.86" y="850.75" width="22.67" height="22.70" fill="#a2cde3"/><rect x="161.13" y="850.75" width="22.67" height="22.70" fill="#d1e5f0"/><rect x="183.40" y="850.75" width="22.67" height="22.70" fill="#d1e5f0"/><rect x="205.67" y="850.75" width="22.67" height="22.70" fill="#f6f9fa"/><rect x="227.94" y="850.75" width="22.67" height="22.70" fill="#a2cde3"/><rect x="250.21" y="850.75" width="22.67" height="22.70" fill="#b1d5e7"/><rect x="272.48" y="850.75" width="22.67" height="22.70" fill="#fbebe1"/><rect x="294.75" y="850.75" width="22.67" height="22.70" fill="#a2cde3"/><rect x="317.02" y="850.75" width="22.67" height="22.70" fill="#d1e5f0"/><rect x="339.29" y="850.75" width="22.67" height="22.70" fill="#98c8e0"/><rect x="361.56" y="850.75" width="22.67" height="22.70" fill="#ec9374"/><rect x="383.83" y="850.75" width="22.67" height="22.70" fill="#b1d5e7"/><rect x="406.10" y="850.75" width="22.67" height="22.70" fill="#f3a481"/><rect x="428.37" y="850.75" width="22.67" height="22.70" fill="#c0dceb"/><rect x="450.64" y="850.75" width="22.67" height="22.70" fill="#fdfdfd"/><rect x="472.91" y="850.75" width="22.67" height="22.70" fill="#fdfdfd"/><rect x="495.18" y="850.75" width="22.67" height="22.70" fill="#d4e6f1"/><rect x="517.45" y="850.75" width="22.67" height="22.70" fill="#a2cde3"/><rect x="539.72" y="850.75" width="22.67" height="22.70" fill="#f3f7f9"/><rect x="561.99" y="850.75" width="22.67" height="22.70" fill="#a7d0e4"/><rect x="584.26" y="850.75" width="22.67" height="22.70" fill="#a7d0e4"/><rect x="606.53" y="850.75" width="22.67" height="22.70" fill="#dceaf2"/><rect x="628.80" y="850.75" width="22.67" height="22.70" fill="#68abd0"/><text class="st" x="350.73" y="738.40" text-anchor="middle">*</text><text class="st" x="83.48" y="760.70" text-anchor="middle">*</text><text class="st" x="306.19" y="760.70" text-anchor="middle">*</text><text class="st" x="328.46" y="760.70" text-anchor="middle">*</text><text class="st" x="194.84" y="783.00" text-anchor="middle">*</text><text class="st" x="217.11" y="783.00" text-anchor="middle">*</text><text class="st" x="306.19" y="783.00" text-anchor="middle">*</text><text class="st" x="323.26" y="783.00" text-anchor="middle">*</text><text class="st" x="333.26" y="783.00" text-anchor="middle">*</text><text class="st" x="350.73" y="783.00" text-anchor="middle">*</text><text class="st" x="83.48" y="805.30" text-anchor="middle">*</text><text class="st" x="105.75" y="827.60" text-anchor="middle">*</text><text class="st" x="128.03" y="827.60" text-anchor="middle">*</text><text class="st" x="283.92" y="827.60" text-anchor="middle">*</text><text class="st" x="328.46" y="849.90" text-anchor="middle">*</text><text class="st" x="417.54" y="693.80" text-anchor="middle">*</text><text class="st" x="439.81" y="760.70" text-anchor="middle">*</text><text class="st" x="439.81" y="783.00" text-anchor="middle">*</text><text class="st" x="439.81" y="805.30" text-anchor="middle">*</text><text class="st" x="484.35" y="805.30" text-anchor="middle">*</text><text class="st" x="417.54" y="827.60" text-anchor="middle">*</text><text class="st" x="395.27" y="849.90" text-anchor="middle">*</text><text class="st" x="568.23" y="849.90" text-anchor="middle">*</text><text class="st" x="578.23" y="849.90" text-anchor="middle">*</text><text class="st" x="595.69" y="849.90" text-anchor="middle">*</text><text class="st" x="640.23" y="849.90" text-anchor="middle">*</text><text class="st" x="640.23" y="872.20" text-anchor="middle">*</text><text class="cl" x="83.98" y="665.15" style="font-size:16.40px" text-anchor="middle" textLength="10.17" lengthAdjust="spacingAndGlyphs">R</text><text class="cl" x="105.45" y="665.15" style="font-size:16.40px" text-anchor="middle" textLength="19.50" lengthAdjust="spacingAndGlyphs">AP</text><text class="cl" x="128.53" y="665.15" style="font-size:16.40px" text-anchor="middle" textLength="11.01" lengthAdjust="spacingAndGlyphs">N</text><text class="cl" x="150.00" y="665.15" style="font-size:16.40px" text-anchor="middle" textLength="8.48" lengthAdjust="spacingAndGlyphs">P</text><text class="cl" x="168.76" y="665.15" style="font-size:16.40px" text-anchor="middle" textLength="20.33" lengthAdjust="spacingAndGlyphs">DL</text><text class="cl" x="192.13" y="665.15" style="font-size:16.40px" text-anchor="middle" textLength="20.33" lengthAdjust="spacingAndGlyphs">AE</text><text class="cl" x="216.81" y="665.15" style="font-size:16.40px" text-anchor="middle" textLength="20.35" lengthAdjust="spacingAndGlyphs">RC</text><text class="cl" x="239.07" y="665.15" style="font-size:16.40px" text-anchor="middle" textLength="8.48" lengthAdjust="spacingAndGlyphs">F</text><text class="cl" x="261.34" y="665.15" style="font-size:16.40px" text-anchor="middle" textLength="21.19" lengthAdjust="spacingAndGlyphs">AB</text><text class="cl" x="283.62" y="665.15" style="font-size:16.40px" text-anchor="middle" textLength="18.63" lengthAdjust="spacingAndGlyphs">EE</text><text class="cl" x="305.88" y="665.15" style="font-size:16.40px" text-anchor="middle" textLength="21.19" lengthAdjust="spacingAndGlyphs">AC</text><text class="cl" x="328.16" y="665.15" style="font-size:16.40px" text-anchor="middle" textLength="14.40" lengthAdjust="spacingAndGlyphs">IE</text><text class="cl" x="349.23" y="665.15" style="font-size:16.40px" text-anchor="middle" textLength="18.10" lengthAdjust="spacingAndGlyphs">PA</text><text class="cl" x="371.50" y="665.15" style="font-size:16.40px" text-anchor="middle" textLength="11.01" lengthAdjust="spacingAndGlyphs">A</text><text class="cl" x="393.77" y="665.15" style="font-size:16.40px" text-anchor="middle" textLength="9.32" lengthAdjust="spacingAndGlyphs">T</text><text class="cl" x="417.24" y="665.15" style="font-size:16.40px" text-anchor="middle" textLength="11.01" lengthAdjust="spacingAndGlyphs">D</text><text class="cl" x="439.50" y="665.15" style="font-size:16.40px" text-anchor="middle" textLength="11.01" lengthAdjust="spacingAndGlyphs">V</text><text class="cl" x="461.77" y="665.15" style="font-size:16.40px" text-anchor="middle" textLength="13.56" lengthAdjust="spacingAndGlyphs">M</text><text class="cl" x="484.05" y="665.15" style="font-size:16.40px" text-anchor="middle" textLength="9.32" lengthAdjust="spacingAndGlyphs">E</text><text class="cl" x="504.51" y="665.15" style="font-size:16.40px" text-anchor="middle" textLength="18.63" lengthAdjust="spacingAndGlyphs">LE</text><text class="cl" x="527.38" y="665.15" style="font-size:16.40px" text-anchor="middle" textLength="19.50" lengthAdjust="spacingAndGlyphs">NS</text><text class="cl" x="550.06" y="665.15" style="font-size:16.40px" text-anchor="middle" textLength="19.50" lengthAdjust="spacingAndGlyphs">DS</text><text class="cl" x="571.92" y="665.15" style="font-size:16.40px" text-anchor="middle" textLength="19.50" lengthAdjust="spacingAndGlyphs">VS</text><text class="cl" x="594.60" y="665.15" style="font-size:16.40px" text-anchor="middle" textLength="19.50" lengthAdjust="spacingAndGlyphs">AS</text><text class="cl" x="617.06" y="663.45" style="font-size:12.80px" text-anchor="middle" textLength="21.82" lengthAdjust="spacingAndGlyphs">VAC</text><text class="cl" x="639.33" y="665.15" style="font-size:16.40px" text-anchor="middle" textLength="19.50" lengthAdjust="spacingAndGlyphs">OS</text><text class="rl" x="61.65" y="690.50" style="font-size:18.30px" text-anchor="end" textLength="25.17" lengthAdjust="spacingAndGlyphs">HR</text><text class="rl" x="61.65" y="712.80" style="font-size:18.30px" text-anchor="end" textLength="45.71" lengthAdjust="spacingAndGlyphs">RESP</text><text class="rl" x="61.65" y="735.10" style="font-size:18.30px" text-anchor="end" textLength="52.08" lengthAdjust="spacingAndGlyphs">LF/HF</text><text class="rl" x="61.65" y="757.40" style="font-size:18.30px" text-anchor="end" textLength="53.56" lengthAdjust="spacingAndGlyphs">α-EEG</text><text class="rl" x="61.65" y="779.70" style="font-size:18.30px" text-anchor="end" textLength="53.27" lengthAdjust="spacingAndGlyphs">β-EEG</text><text class="rl" x="61.65" y="802.00" style="font-size:18.30px" text-anchor="end" textLength="25.66" lengthAdjust="spacingAndGlyphs">β/α</text><text class="rl" x="61.65" y="824.30" style="font-size:18.30px" text-anchor="end" textLength="21.27" lengthAdjust="spacingAndGlyphs">FF</text><text class="rl" x="61.65" y="846.60" style="font-size:18.30px" text-anchor="end" textLength="38.26" lengthAdjust="spacingAndGlyphs">APD</text><text class="rl" x="61.65" y="868.90" style="font-size:18.30px" text-anchor="end" textLength="21.27" lengthAdjust="spacingAndGlyphs">SF</text><ellipse cx="67.9" cy="722.3" rx="0.9" ry="1.6" transform="rotate(-25 67.9 722.3)" fill="#333"/><rect x="661.62" y="672.85" width="21.6" height="200.20" fill="url(#cb)" stroke="#000" stroke-width="1.6"/><line x1="683.22" x2="687.62" y1="672.85" y2="672.85" stroke="#000" stroke-width="1.5"/><text class="tl" x="696.92" y="679.25" style="font-size:18.30px" textLength="23.79" lengthAdjust="spacingAndGlyphs">1.0</text><line x1="683.22" x2="687.62" y1="692.87" y2="692.87" stroke="#000" stroke-width="1.5"/><text class="tl" x="696.92" y="698.80" style="font-size:18.30px" textLength="23.79" lengthAdjust="spacingAndGlyphs">0.8</text><line x1="683.22" x2="687.62" y1="712.89" y2="712.89" stroke="#000" stroke-width="1.5"/><text class="tl" x="696.92" y="718.35" style="font-size:18.30px" textLength="23.79" lengthAdjust="spacingAndGlyphs">0.6</text><line x1="683.22" x2="687.62" y1="732.91" y2="732.91" stroke="#000" stroke-width="1.5"/><text class="tl" x="696.92" y="737.90" style="font-size:18.30px" textLength="23.79" lengthAdjust="spacingAndGlyphs">0.4</text><line x1="683.22" x2="687.62" y1="752.93" y2="752.93" stroke="#000" stroke-width="1.5"/><text class="tl" x="696.92" y="757.45" style="font-size:18.30px" textLength="23.79" lengthAdjust="spacingAndGlyphs">0.2</text><line x1="683.22" x2="687.62" y1="772.95" y2="772.95" stroke="#000" stroke-width="1.5"/><text class="tl" x="696.92" y="777.00" style="font-size:18.30px" textLength="9.52" lengthAdjust="spacingAndGlyphs">0</text><line x1="683.22" x2="687.62" y1="792.97" y2="792.97" stroke="#000" stroke-width="1.5"/><text class="tl" x="694.12" y="796.55" style="font-size:18.30px" textLength="30.13" lengthAdjust="spacingAndGlyphs">-0.2</text><line x1="683.22" x2="687.62" y1="812.99" y2="812.99" stroke="#000" stroke-width="1.5"/><text class="tl" x="694.12" y="816.10" style="font-size:18.30px" textLength="30.13" lengthAdjust="spacingAndGlyphs">-0.4</text><line x1="683.22" x2="687.62" y1="833.01" y2="833.01" stroke="#000" stroke-width="1.5"/><text class="tl" x="694.12" y="835.65" style="font-size:18.30px" textLength="30.13" lengthAdjust="spacingAndGlyphs">-0.6</text><line x1="683.22" x2="687.62" y1="853.03" y2="853.03" stroke="#000" stroke-width="1.5"/><text class="tl" x="694.12" y="855.20" style="font-size:18.30px" textLength="30.13" lengthAdjust="spacingAndGlyphs">-0.8</text><line x1="683.22" x2="687.62" y1="873.05" y2="873.05" stroke="#000" stroke-width="1.5"/><text class="tl" x="694.12" y="874.75" style="font-size:18.30px" textLength="30.13" lengthAdjust="spacingAndGlyphs">-1.0</text><text class="cap" x="164.70" y="920.30" style="font-size:23.8px" textLength="339.60" lengthAdjust="spacingAndGlyphs">(e)  Long path &amp; Uphill &amp; Elderly</text></g>
<g><rect x="874.30" y="672.35" width="22.67" height="22.70" fill="#fbefe8"/><rect x="896.57" y="672.35" width="22.67" height="22.70" fill="#c0dceb"/><rect x="918.84" y="672.35" width="22.67" height="22.70" fill="#4997c5"/><rect x="941.11" y="672.35" width="22.67" height="22.70" fill="#98c8e0"/><rect x="963.38" y="672.35" width="22.67" height="22.70" fill="#8ac0db"/><rect x="985.65" y="672.35" width="22.67" height="22.70" fill="#dceaf2"/><rect x="1007.92" y="672.35" width="22.67" height="22.70" fill="#fcf8f5"/><rect x="1030.19" y="672.35" width="22.67" height="22.70" fill="#f6f9fa"/><rect x="1052.46" y="672.35" width="22.67" height="22.70" fill="#e6f0f5"/><rect x="1074.73" y="672.35" width="22.67" height="22.70" fill="#c0dceb"/><rect x="1097.00" y="672.35" width="22.67" height="22.70" fill="#ecf3f7"/><rect x="1119.27" y="672.35" width="22.67" height="22.70" fill="#fce3d4"/><rect x="1141.54" y="672.35" width="22.67" height="22.70" fill="#fcd5bf"/><rect x="1163.81" y="672.35" width="22.67" height="22.70" fill="#fcf3ee"/><rect x="1186.08" y="672.35" width="22.67" height="22.70" fill="#fddbc7"/><rect x="1208.35" y="672.35" width="22.67" height="22.70" fill="#f3a481"/><rect x="1230.62" y="672.35" width="22.67" height="22.70" fill="#c0dceb"/><rect x="1252.89" y="672.35" width="22.67" height="22.70" fill="#fddbc7"/><rect x="1275.16" y="672.35" width="22.67" height="22.70" fill="#ecf3f7"/><rect x="1297.43" y="672.35" width="22.67" height="22.70" fill="#f3f7f9"/><rect x="1319.70" y="672.35" width="22.67" height="22.70" fill="#f8bb9e"/><rect x="1341.97" y="672.35" width="22.67" height="22.70" fill="#fcf3ee"/><rect x="1364.24" y="672.35" width="22.67" height="22.70" fill="#fce3d4"/><rect x="1386.51" y="672.35" width="22.67" height="22.70" fill="#f0f5f8"/><rect x="1408.78" y="672.35" width="22.67" height="22.70" fill="#7eb8d7"/><rect x="1431.05" y="672.35" width="22.67" height="22.70" fill="#fdfdfd"/><rect x="874.30" y="694.65" width="22.67" height="22.70" fill="#a2cde3"/><rect x="896.57" y="694.65" width="22.67" height="22.70" fill="#f9c6ac"/><rect x="918.84" y="694.65" width="22.67" height="22.70" fill="#fdfdfd"/><rect x="941.11" y="694.65" width="22.67" height="22.70" fill="#e6f0f5"/><rect x="963.38" y="694.65" width="22.67" height="22.70" fill="#fcf5f1"/><rect x="985.65" y="694.65" width="22.67" height="22.70" fill="#a7d0e4"/><rect x="1007.92" y="694.65" width="22.67" height="22.70" fill="#a7d0e4"/><rect x="1030.19" y="694.65" width="22.67" height="22.70" fill="#cae1ee"/><rect x="1052.46" y="694.65" width="22.67" height="22.70" fill="#cae1ee"/><rect x="1074.73" y="694.65" width="22.67" height="22.70" fill="#fcf3ee"/><rect x="1097.00" y="694.65" width="22.67" height="22.70" fill="#f6f9fa"/><rect x="1119.27" y="694.65" width="22.67" height="22.70" fill="#fdfdfd"/><rect x="1141.54" y="694.65" width="22.67" height="22.70" fill="#d4e6f1"/><rect x="1163.81" y="694.65" width="22.67" height="22.70" fill="#fddbc7"/><rect x="1186.08" y="694.65" width="22.67" height="22.70" fill="#fbfcfc"/><rect x="1208.35" y="694.65" width="22.67" height="22.70" fill="#f3a481"/><rect x="1230.62" y="694.65" width="22.67" height="22.70" fill="#fbebe1"/><rect x="1252.89" y="694.65" width="22.67" height="22.70" fill="#fafbfb"/><rect x="1275.16" y="694.65" width="22.67" height="22.70" fill="#fdfdfd"/><rect x="1297.43" y="694.65" width="22.67" height="22.70" fill="#e6f0f5"/><rect x="1319.70" y="694.65" width="22.67" height="22.70" fill="#f0f5f8"/><rect x="1341.97" y="694.65" width="22.67" height="22.70" fill="#fcd5bf"/><rect x="1364.24" y="694.65" width="22.67" height="22.70" fill="#90c4dd"/><rect x="1386.51" y="694.65" width="22.67" height="22.70" fill="#90c4dd"/><rect x="1408.78" y="694.65" width="22.67" height="22.70" fill="#f5aa89"/><rect x="1431.05" y="694.65" width="22.67" height="22.70" fill="#dceaf2"/><rect x="874.30" y="716.95" width="22.67" height="22.70" fill="#e6f0f5"/><rect x="896.57" y="716.95" width="22.67" height="22.70" fill="#cae1ee"/><rect x="918.84" y="716.95" width="22.67" height="22.70" fill="#d1e5f0"/><rect x="941.11" y="716.95" width="22.67" height="22.70" fill="#8ac0db"/><rect x="963.38" y="716.95" width="22.67" height="22.70" fill="#cae1ee"/><rect x="985.65" y="716.95" width="22.67" height="22.70" fill="#b1d5e7"/><rect x="1007.92" y="716.95" width="22.67" height="22.70" fill="#ecf3f7"/><rect x="1030.19" y="716.95" width="22.67" height="22.70" fill="#a7d0e4"/><rect x="1052.46" y="716.95" width="22.67" height="22.70" fill="#cae1ee"/><rect x="1074.73" y="716.95" width="22.67" height="22.70" fill="#f5aa89"/><rect x="1097.00" y="716.95" width="22.67" height="22.70" fill="#f19e7d"/><rect x="1119.27" y="716.95" width="22.67" height="22.70" fill="#d4e6f1"/><rect x="1141.54" y="716.95" width="22.67" height="22.70" fill="#b1d5e7"/><rect x="1163.81" y="716.95" width="22.67" height="22.70" fill="#f8bb9e"/><rect x="1186.08" y="716.95" width="22.67" height="22.70" fill="#cae1ee"/><rect x="1208.35" y="716.95" width="22.67" height="22.70" fill="#f8bb9e"/><rect x="1230.62" y="716.95" width="22.67" height="22.70" fill="#fbfcfc"/><rect x="1252.89" y="716.95" width="22.67" height="22.70" fill="#fdfdfd"/><rect x="1275.16" y="716.95" width="22.67" height="22.70" fill="#b8d8e9"/><rect x="1297.43" y="716.95" width="22.67" height="22.70" fill="#fbceb7"/><rect x="1319.70" y="716.95" width="22.67" height="22.70" fill="#d1e5f0"/><rect x="1341.97" y="716.95" width="22.67" height="22.70" fill="#dceaf2"/><rect x="1364.24" y="716.95" width="22.67" height="22.70" fill="#b1d5e7"/><rect x="1386.51" y="716.95" width="22.67" height="22.70" fill="#68abd0"/><rect x="1408.78" y="716.95" width="22.67" height="22.70" fill="#b8d8e9"/><rect x="1431.05" y="716.95" width="22.67" height="22.70" fill="#c0dceb"/><rect x="874.30" y="739.25" width="22.67" height="22.70" fill="#f9c6ac"/><rect x="896.57" y="739.25" width="22.67" height="22.70" fill="#f8bfa4"/><rect x="918.84" y="739.25" width="22.67" height="22.70" fill="#f9c6ac"/><rect x="941.11" y="739.25" width="22.67" height="22.70" fill="#fddbc7"/><rect x="963.38" y="739.25" width="22.67" height="22.70" fill="#f6b394"/><rect x="985.65" y="739.25" width="22.67" height="22.70" fill="#fbefe8"/><rect x="1007.92" y="739.25" width="22.67" height="22.70" fill="#f8bb9e"/><rect x="1030.19" y="739.25" width="22.67" height="22.70" fill="#fcf8f5"/><rect x="1052.46" y="739.25" width="22.67" height="22.70" fill="#f6f9fa"/><rect x="1074.73" y="739.25" width="22.67" height="22.70" fill="#ec9374"/><rect x="1097.00" y="739.25" width="22.67" height="22.70" fill="#fcd5bf"/><rect x="1119.27" y="739.25" width="22.67" height="22.70" fill="#f5aa89"/><rect x="1141.54" y="739.25" width="22.67" height="22.70" fill="#fddbc7"/><rect x="1163.81" y="739.25" width="22.67" height="22.70" fill="#c0dceb"/><rect x="1186.08" y="739.25" width="22.67" height="22.70" fill="#fdfdfd"/><rect x="1208.35" y="739.25" width="22.67" height="22.70" fill="#fce3d4"/><rect x="1230.62" y="739.25" width="22.67" height="22.70" fill="#f5aa89"/><rect x="1252.89" y="739.25" width="22.67" height="22.70" fill="#fdddcb"/><rect x="1275.16" y="739.25" width="22.67" height="22.70" fill="#fdfdfd"/><rect x="1297.43" y="739.25" width="22.67" height="22.70" fill="#fbebe1"/><rect x="1319.70" y="739.25" width="22.67" height="22.70" fill="#fbebe1"/><rect x="1341.97" y="739.25" width="22.67" height="22.70" fill="#fcf3ee"/><rect x="1364.24" y="739.25" width="22.67" height="22.70" fill="#fcf8f5"/><rect x="1386.51" y="739.25" width="22.67" height="22.70" fill="#fddbc7"/><rect x="1408.78" y="739.25" width="22.67" height="22.70" fill="#f6b394"/><rect x="1431.05" y="739.25" width="22.67" height="22.70" fill="#fdddcb"/><rect x="874.30" y="761.55" width="22.67" height="22.70" fill="#fbebe1"/><rect x="896.57" y="761.55" width="22.67" height="22.70" fill="#f8bfa4"/><rect x="918.84" y="761.55" width="22.67" height="22.70" fill="#f8bfa4"/><rect x="941.11" y="761.55" width="22.67" height="22.70" fill="#fcd5bf"/><rect x="963.38" y="761.55" width="22.67" height="22.70" fill="#f6b394"/><rect x="985.65" y="761.55" width="22.67" height="22.70" fill="#fce3d4"/><rect x="1007.92" y="761.55" width="22.67" height="22.70" fill="#f8bb9e"/><rect x="1030.19" y="761.55" width="22.67" height="22.70" fill="#fdfdfd"/><rect x="1052.46" y="761.55" width="22.67" height="22.70" fill="#fcf8f5"/><rect x="1074.73" y="761.55" width="22.67" height="22.70" fill="#f5aa89"/><rect x="1097.00" y="761.55" width="22.67" height="22.70" fill="#f9c6ac"/><rect x="1119.27" y="761.55" width="22.67" height="22.70" fill="#f5aa89"/><rect x="1141.54" y="761.55" width="22.67" height="22.70" fill="#fcd5bf"/><rect x="1163.81" y="761.55" width="22.67" height="22.70" fill="#b1d5e7"/><rect x="1186.08" y="761.55" width="22.67" height="22.70" fill="#ecf3f7"/><rect x="1208.35" y="761.55" width="22.67" height="22.70" fill="#f9c6ac"/><rect x="1230.62" y="761.55" width="22.67" height="22.70" fill="#e27b62"/><rect x="1252.89" y="761.55" width="22.67" height="22.70" fill="#fdfdfd"/><rect x="1275.16" y="761.55" width="22.67" height="22.70" fill="#fcd5bf"/><rect x="1297.43" y="761.55" width="22.67" height="22.70" fill="#f6f9fa"/><rect x="1319.70" y="761.55" width="22.67" height="22.70" fill="#fafbfb"/><rect x="1341.97" y="761.55" width="22.67" height="22.70" fill="#fbceb7"/><rect x="1364.24" y="761.55" width="22.67" height="22.70" fill="#fbfcfc"/><rect x="1386.51" y="761.55" width="22.67" height="22.70" fill="#fce3d4"/><rect x="1408.78" y="761.55" width="22.67" height="22.70" fill="#fce3d4"/><rect x="1431.05" y="761.55" width="22.67" height="22.70" fill="#fce3d4"/><rect x="874.30" y="783.85" width="22.67" height="22.70" fill="#ecf3f7"/><rect x="896.57" y="783.85" width="22.67" height="22.70" fill="#f6f9fa"/><rect x="918.84" y="783.85" width="22.67" height="22.70" fill="#f3f7f9"/><rect x="941.11" y="783.85" width="22.67" height="22.70" fill="#fbebe1"/><rect x="963.38" y="783.85" width="22.67" height="22.70" fill="#fbebe1"/><rect x="985.65" y="783.85" width="22.67" height="22.70" fill="#f3f7f9"/><rect x="1007.92" y="783.85" width="22.67" height="22.70" fill="#fbefe8"/><rect x="1030.19" y="783.85" width="22.67" height="22.70" fill="#fbebe1"/><rect x="1052.46" y="783.85" width="22.67" height="22.70" fill="#f19e7d"/><rect x="1074.73" y="783.85" width="22.67" height="22.70" fill="#fbceb7"/><rect x="1097.00" y="783.85" width="22.67" height="22.70" fill="#fafbfb"/><rect x="1119.27" y="783.85" width="22.67" height="22.70" fill="#dceaf2"/><rect x="1141.54" y="783.85" width="22.67" height="22.70" fill="#a7d0e4"/><rect x="1163.81" y="783.85" width="22.67" height="22.70" fill="#f3a481"/><rect x="1186.08" y="783.85" width="22.67" height="22.70" fill="#68abd0"/><rect x="1208.35" y="783.85" width="22.67" height="22.70" fill="#e8896c"/><rect x="1230.62" y="783.85" width="22.67" height="22.70" fill="#fbebe1"/><rect x="1252.89" y="783.85" width="22.67" height="22.70" fill="#569fc9"/><rect x="1275.16" y="783.85" width="22.67" height="22.70" fill="#f6b394"/><rect x="1297.43" y="783.85" width="22.67" height="22.70" fill="#a7d0e4"/><rect x="1319.70" y="783.85" width="22.67" height="22.70" fill="#98c8e0"/><rect x="1341.97" y="783.85" width="22.67" height="22.70" fill="#fbefe8"/><rect x="1364.24" y="783.85" width="22.67" height="22.70" fill="#fdfdfd"/><rect x="1386.51" y="783.85" width="22.67" height="22.70" fill="#c0dceb"/><rect x="1408.78" y="783.85" width="22.67" height="22.70" fill="#b1d5e7"/><rect x="1431.05" y="783.85" width="22.67" height="22.70" fill="#b8d8e9"/><rect x="874.30" y="806.15" width="22.67" height="22.70" fill="#f9c6ac"/><rect x="896.57" y="806.15" width="22.67" height="22.70" fill="#fcd5bf"/><rect x="918.84" y="806.15" width="22.67" height="22.70" fill="#fce3d4"/><rect x="941.11" y="806.15" width="22.67" height="22.70" fill="#b1d5e7"/><rect x="963.38" y="806.15" width="22.67" height="22.70" fill="#fcfbfb"/><rect x="985.65" y="806.15" width="22.67" height="22.70" fill="#fbceb7"/><rect x="1007.92" y="806.15" width="22.67" height="22.70" fill="#ecf3f7"/><rect x="1030.19" y="806.15" width="22.67" height="22.70" fill="#fbefe8"/><rect x="1052.46" y="806.15" width="22.67" height="22.70" fill="#d4e6f1"/><rect x="1074.73" y="806.15" width="22.67" height="22.70" fill="#fcf8f5"/><rect x="1097.00" y="806.15" width="22.67" height="22.70" fill="#fce3d4"/><rect x="1119.27" y="806.15" width="22.67" height="22.70" fill="#ec9374"/><rect x="1141.54" y="806.15" width="22.67" height="22.70" fill="#f6f9fa"/><rect x="1163.81" y="806.15" width="22.67" height="22.70" fill="#ecf3f7"/><rect x="1186.08" y="806.15" width="22.67" height="22.70" fill="#fcf5f1"/><rect x="1208.35" y="806.15" width="22.67" height="22.70" fill="#fbefe8"/><rect x="1230.62" y="806.15" width="22.67" height="22.70" fill="#fbefe8"/><rect x="1252.89" y="806.15" width="22.67" height="22.70" fill="#fbceb7"/><rect x="1275.16" y="806.15" width="22.67" height="22.70" fill="#c0dceb"/><rect x="1297.43" y="806.15" width="22.67" height="22.70" fill="#fbefe8"/><rect x="1319.70" y="806.15" width="22.67" height="22.70" fill="#f3a481"/><rect x="1341.97" y="806.15" width="22.67" height="22.70" fill="#ecf3f7"/><rect x="1364.24" y="806.15" width="22.67" height="22.70" fill="#fbceb7"/><rect x="1386.51" y="806.15" width="22.67" height="22.70" fill="#fddbc7"/><rect x="1408.78" y="806.15" width="22.67" height="22.70" fill="#fdddcb"/><rect x="1431.05" y="806.15" width="22.67" height="22.70" fill="#fcf8f5"/><rect x="874.30" y="828.45" width="22.67" height="22.70" fill="#f0f5f8"/><rect x="896.57" y="828.45" width="22.67" height="22.70" fill="#f0f5f8"/><rect x="918.84" y="828.45" width="22.67" height="22.70" fill="#dceaf2"/><rect x="941.11" y="828.45" width="22.67" height="22.70" fill="#cae1ee"/><rect x="963.38" y="828.45" width="22.67" height="22.70" fill="#f6f9fa"/><rect x="985.65" y="828.45" width="22.67" height="22.70" fill="#b1d5e7"/><rect x="1007.92" y="828.45" width="22.67" height="22.70" fill="#f6b394"/><rect x="1030.19" y="828.45" width="22.67" height="22.70" fill="#fcfaf9"/><rect x="1052.46" y="828.45" width="22.67" height="22.70" fill="#d1e5f0"/><rect x="1074.73" y="828.45" width="22.67" height="22.70" fill="#fbceb7"/><rect x="1097.00" y="828.45" width="22.67" height="22.70" fill="#dceaf2"/><rect x="1119.27" y="828.45" width="22.67" height="22.70" fill="#b1d5e7"/><rect x="1141.54" y="828.45" width="22.67" height="22.70" fill="#a2cde3"/><rect x="1163.81" y="828.45" width="22.67" height="22.70" fill="#fce3d4"/><rect x="1186.08" y="828.45" width="22.67" height="22.70" fill="#ecf3f7"/><rect x="1208.35" y="828.45" width="22.67" height="22.70" fill="#fce3d4"/><rect x="1230.62" y="828.45" width="22.67" height="22.70" fill="#b1d5e7"/><rect x="1252.89" y="828.45" width="22.67" height="22.70" fill="#98c8e0"/><rect x="1275.16" y="828.45" width="22.67" height="22.70" fill="#f0f5f8"/><rect x="1297.43" y="828.45" width="22.67" height="22.70" fill="#fcf5f1"/><rect x="1319.70" y="828.45" width="22.67" height="22.70" fill="#b8d8e9"/><rect x="1341.97" y="828.45" width="22.67" height="22.70" fill="#dceaf2"/><rect x="1364.24" y="828.45" width="22.67" height="22.70" fill="#b8d8e9"/><rect x="1386.51" y="828.45" width="22.67" height="22.70" fill="#b8d8e9"/><rect x="1408.78" y="828.45" width="22.67" height="22.70" fill="#e6f0f5"/><rect x="1431.05" y="828.45" width="22.67" height="22.70" fill="#cae1ee"/><rect x="874.30" y="850.75" width="22.67" height="22.70" fill="#e6f0f5"/><rect x="896.57" y="850.75" width="22.67" height="22.70" fill="#fcf8f5"/><rect x="918.84" y="850.75" width="22.67" height="22.70" fill="#b1d5e7"/><rect x="941.11" y="850.75" width="22.67" height="22.70" fill="#f0f5f8"/><rect x="963.38" y="850.75" width="22.67" height="22.70" fill="#3f8ec0"/><rect x="985.65" y="850.75" width="22.67" height="22.70" fill="#fdfdfd"/><rect x="1007.92" y="850.75" width="22.67" height="22.70" fill="#e6f0f5"/><rect x="1030.19" y="850.75" width="22.67" height="22.70" fill="#fcf5f1"/><rect x="1052.46" y="850.75" width="22.67" height="22.70" fill="#fdddcb"/><rect x="1074.73" y="850.75" width="22.67" height="22.70" fill="#dceaf2"/><rect x="1097.00" y="850.75" width="22.67" height="22.70" fill="#dceaf2"/><rect x="1119.27" y="850.75" width="22.67" height="22.70" fill="#d4e6f1"/><rect x="1141.54" y="850.75" width="22.67" height="22.70" fill="#fdddcb"/><rect x="1163.81" y="850.75" width="22.67" height="22.70" fill="#f6f9fa"/><rect x="1186.08" y="850.75" width="22.67" height="22.70" fill="#f9c6ac"/><rect x="1208.35" y="850.75" width="22.67" height="22.70" fill="#ecf3f7"/><rect x="1230.62" y="850.75" width="22.67" height="22.70" fill="#d4e6f1"/><rect x="1252.89" y="850.75" width="22.67" height="22.70" fill="#fdfdfd"/><rect x="1275.16" y="850.75" width="22.67" height="22.70" fill="#fdfdfd"/><rect x="1297.43" y="850.75" width="22.67" height="22.70" fill="#fdfdfd"/><rect x="1319.70" y="850.75" width="22.67" height="22.70" fill="#fce3d4"/><rect x="1341.97" y="850.75" width="22.67" height="22.70" fill="#fafbfb"/><rect x="1364.24" y="850.75" width="22.67" height="22.70" fill="#fdfdfd"/><rect x="1386.51" y="850.75" width="22.67" height="22.70" fill="#fcf3ee"/><rect x="1408.78" y="850.75" width="22.67" height="22.70" fill="#c0dceb"/><rect x="1431.05" y="850.75" width="22.67" height="22.70" fill="#fbfcfc"/><text class="st" x="925.07" y="693.80" text-anchor="middle">*</text><text class="st" x="935.07" y="693.80" text-anchor="middle">*</text><text class="st" x="974.81" y="872.20" text-anchor="middle">*</text><text class="st" x="1397.94" y="738.40" text-anchor="middle">*</text><text class="st" x="1242.05" y="783.00" text-anchor="middle">*</text><text class="st" x="1197.51" y="805.30" text-anchor="middle">*</text><text class="st" x="1219.78" y="805.30" text-anchor="middle">*</text><text class="st" x="1264.32" y="805.30" text-anchor="middle">*</text><text class="cl" x="886.23" y="665.15" style="font-size:16.40px" text-anchor="middle" textLength="10.17" lengthAdjust="spacingAndGlyphs">R</text><text class="cl" x="907.70" y="665.15" style="font-size:16.40px" text-anchor="middle" textLength="19.50" lengthAdjust="spacingAndGlyphs">AP</text><text class="cl" x="930.77" y="665.15" style="font-size:16.40px" text-anchor="middle" textLength="11.01" lengthAdjust="spacingAndGlyphs">N</text><text class="cl" x="952.24" y="665.15" style="font-size:16.40px" text-anchor="middle" textLength="8.48" lengthAdjust="spacingAndGlyphs">P</text><text class="cl" x="971.01" y="665.15" style="font-size:16.40px" text-anchor="middle" textLength="20.33" lengthAdjust="spacingAndGlyphs">DL</text><text class="cl" x="994.38" y="665.15" style="font-size:16.40px" text-anchor="middle" textLength="20.33" lengthAdjust="spacingAndGlyphs">AE</text><text class="cl" x="1019.05" y="665.15" style="font-size:16.40px" text-anchor="middle" textLength="20.35" lengthAdjust="spacingAndGlyphs">RC</text><text class="cl" x="1041.33" y="665.15" style="font-size:16.40px" text-anchor="middle" textLength="8.48" lengthAdjust="spacingAndGlyphs">F</text><text class="cl" x="1063.60" y="665.15" style="font-size:16.40px" text-anchor="middle" textLength="21.19" lengthAdjust="spacingAndGlyphs">AB</text><text class="cl" x="1085.87" y="665.15" style="font-size:16.40px" text-anchor="middle" textLength="18.63" lengthAdjust="spacingAndGlyphs">EE</text><text class="cl" x="1108.13" y="665.15" style="font-size:16.40px" text-anchor="middle" textLength="21.19" lengthAdjust="spacingAndGlyphs">AC</text><text class="cl" x="1130.40" y="665.15" style="font-size:16.40px" text-anchor="middle" textLength="14.40" lengthAdjust="spacingAndGlyphs">IE</text><text class="cl" x="1151.47" y="665.15" style="font-size:16.40px" text-anchor="middle" textLength="18.10" lengthAdjust="spacingAndGlyphs">PA</text><text class="cl" x="1173.74" y="665.15" style="font-size:16.40px" text-anchor="middle" textLength="11.01" lengthAdjust="spacingAndGlyphs">A</text><text class="cl" x="1196.01" y="665.15" style="font-size:16.40px" text-anchor="middle" textLength="9.32" lengthAdjust="spacingAndGlyphs">T</text><text class="cl" x="1219.48" y="665.15" style="font-size:16.40px" text-anchor="middle" textLength="11.01" lengthAdjust="spacingAndGlyphs">D</text><text class="cl" x="1241.75" y="665.15" style="font-size:16.40px" text-anchor="middle" textLength="11.01" lengthAdjust="spacingAndGlyphs">V</text><text class="cl" x="1264.02" y="665.15" style="font-size:16.40px" text-anchor="middle" textLength="13.56" lengthAdjust="spacingAndGlyphs">M</text><text class="cl" x="1286.30" y="665.15" style="font-size:16.40px" text-anchor="middle" textLength="9.32" lengthAdjust="spacingAndGlyphs">E</text><text class="cl" x="1306.77" y="665.15" style="font-size:16.40px" text-anchor="middle" textLength="18.63" lengthAdjust="spacingAndGlyphs">LE</text><text class="cl" x="1329.63" y="665.15" style="font-size:16.40px" text-anchor="middle" textLength="19.50" lengthAdjust="spacingAndGlyphs">NS</text><text class="cl" x="1352.31" y="665.15" style="font-size:16.40px" text-anchor="middle" textLength="19.50" lengthAdjust="spacingAndGlyphs">DS</text><text class="cl" x="1374.17" y="665.15" style="font-size:16.40px" text-anchor="middle" textLength="19.50" lengthAdjust="spacingAndGlyphs">VS</text><text class="cl" x="1396.85" y="665.15" style="font-size:16.40px" text-anchor="middle" textLength="19.50" lengthAdjust="spacingAndGlyphs">AS</text><text class="cl" x="1419.32" y="663.45" style="font-size:12.80px" text-anchor="middle" textLength="21.82" lengthAdjust="spacingAndGlyphs">VAC</text><text class="cl" x="1441.59" y="665.15" style="font-size:16.40px" text-anchor="middle" textLength="19.50" lengthAdjust="spacingAndGlyphs">OS</text><text class="rl" x="863.90" y="690.50" style="font-size:18.30px" text-anchor="end" textLength="25.17" lengthAdjust="spacingAndGlyphs">HR</text><text class="rl" x="863.90" y="712.80" style="font-size:18.30px" text-anchor="end" textLength="45.71" lengthAdjust="spacingAndGlyphs">RESP</text><text class="rl" x="863.90" y="735.10" style="font-size:18.30px" text-anchor="end" textLength="52.08" lengthAdjust="spacingAndGlyphs">LF/HF</text><text class="rl" x="863.90" y="757.40" style="font-size:18.30px" text-anchor="end" textLength="53.56" lengthAdjust="spacingAndGlyphs">α-EEG</text><text class="rl" x="863.90" y="779.70" style="font-size:18.30px" text-anchor="end" textLength="53.27" lengthAdjust="spacingAndGlyphs">β-EEG</text><text class="rl" x="863.90" y="802.00" style="font-size:18.30px" text-anchor="end" textLength="25.66" lengthAdjust="spacingAndGlyphs">β/α</text><text class="rl" x="863.90" y="824.30" style="font-size:18.30px" text-anchor="end" textLength="21.27" lengthAdjust="spacingAndGlyphs">FF</text><text class="rl" x="863.90" y="846.60" style="font-size:18.30px" text-anchor="end" textLength="38.26" lengthAdjust="spacingAndGlyphs">APD</text><text class="rl" x="863.90" y="868.90" style="font-size:18.30px" text-anchor="end" textLength="21.27" lengthAdjust="spacingAndGlyphs">SF</text><rect x="1463.87" y="672.85" width="21.6" height="200.20" fill="url(#cb)" stroke="#000" stroke-width="1.6"/><line x1="1485.47" x2="1489.87" y1="672.85" y2="672.85" stroke="#000" stroke-width="1.5"/><text class="tl" x="1499.17" y="679.25" style="font-size:18.30px" textLength="23.79" lengthAdjust="spacingAndGlyphs">1.0</text><line x1="1485.47" x2="1489.87" y1="692.87" y2="692.87" stroke="#000" stroke-width="1.5"/><text class="tl" x="1499.17" y="698.80" style="font-size:18.30px" textLength="23.79" lengthAdjust="spacingAndGlyphs">0.8</text><line x1="1485.47" x2="1489.87" y1="712.89" y2="712.89" stroke="#000" stroke-width="1.5"/><text class="tl" x="1499.17" y="718.35" style="font-size:18.30px" textLength="23.79" lengthAdjust="spacingAndGlyphs">0.6</text><line x1="1485.47" x2="1489.87" y1="732.91" y2="732.91" stroke="#000" stroke-width="1.5"/><text class="tl" x="1499.17" y="737.90" style="font-size:18.30px" textLength="23.79" lengthAdjust="spacingAndGlyphs">0.4</text><line x1="1485.47" x2="1489.87" y1="752.93" y2="752.93" stroke="#000" stroke-width="1.5"/><text class="tl" x="1499.17" y="757.45" style="font-size:18.30px" textLength="23.79" lengthAdjust="spacingAndGlyphs">0.2</text><line x1="1485.47" x2="1489.87" y1="772.95" y2="772.95" stroke="#000" stroke-width="1.5"/><text class="tl" x="1499.17" y="777.00" style="font-size:18.30px" textLength="9.52" lengthAdjust="spacingAndGlyphs">0</text><line x1="1485.47" x2="1489.87" y1="792.97" y2="792.97" stroke="#000" stroke-width="1.5"/><text class="tl" x="1496.37" y="796.55" style="font-size:18.30px" textLength="30.13" lengthAdjust="spacingAndGlyphs">-0.2</text><line x1="1485.47" x2="1489.87" y1="812.99" y2="812.99" stroke="#000" stroke-width="1.5"/><text class="tl" x="1496.37" y="816.10" style="font-size:18.30px" textLength="30.13" lengthAdjust="spacingAndGlyphs">-0.4</text><line x1="1485.47" x2="1489.87" y1="833.01" y2="833.01" stroke="#000" stroke-width="1.5"/><text class="tl" x="1496.37" y="835.65" style="font-size:18.30px" textLength="30.13" lengthAdjust="spacingAndGlyphs">-0.6</text><line x1="1485.47" x2="1489.87" y1="853.03" y2="853.03" stroke="#000" stroke-width="1.5"/><text class="tl" x="1496.37" y="855.20" style="font-size:18.30px" textLength="30.13" lengthAdjust="spacingAndGlyphs">-0.8</text><line x1="1485.47" x2="1489.87" y1="873.05" y2="873.05" stroke="#000" stroke-width="1.5"/><text class="tl" x="1496.37" y="874.75" style="font-size:18.30px" textLength="30.13" lengthAdjust="spacingAndGlyphs">-1.0</text><text class="cap" x="963.70" y="920.00" style="font-size:23.8px" textLength="367.30" lengthAdjust="spacingAndGlyphs">(f)  Long path &amp; Downhill &amp; Elderly</text></g>
<g><rect x="72.05" y="992.35" width="22.67" height="22.70" fill="#fddbc7"/><rect x="94.32" y="992.35" width="22.67" height="22.70" fill="#fddbc7"/><rect x="116.59" y="992.35" width="22.67" height="22.70" fill="#f8bb9e"/><rect x="138.86" y="992.35" width="22.67" height="22.70" fill="#f8bfa4"/><rect x="161.13" y="992.35" width="22.67" height="22.70" fill="#fce3d4"/><rect x="183.40" y="992.35" width="22.67" height="22.70" fill="#dceaf2"/><rect x="205.67" y="992.35" width="22.67" height="22.70" fill="#f0f5f8"/><rect x="227.94" y="992.35" width="22.67" height="22.70" fill="#f0f5f8"/><rect x="250.21" y="992.35" width="22.67" height="22.70" fill="#f6b394"/><rect x="272.48" y="992.35" width="22.67" height="22.70" fill="#f6f9fa"/><rect x="294.75" y="992.35" width="22.67" height="22.70" fill="#dceaf2"/><rect x="317.02" y="992.35" width="22.67" height="22.70" fill="#f9c6ac"/><rect x="339.29" y="992.35" width="22.67" height="22.70" fill="#e6f0f5"/><rect x="361.56" y="992.35" width="22.67" height="22.70" fill="#b8d8e9"/><rect x="383.83" y="992.35" width="22.67" height="22.70" fill="#d4e6f1"/><rect x="406.10" y="992.35" width="22.67" height="22.70" fill="#d4e6f1"/><rect x="428.37" y="992.35" width="22.67" height="22.70" fill="#f0f5f8"/><rect x="450.64" y="992.35" width="22.67" height="22.70" fill="#cae1ee"/><rect x="472.91" y="992.35" width="22.67" height="22.70" fill="#ecf3f7"/><rect x="495.18" y="992.35" width="22.67" height="22.70" fill="#90c4dd"/><rect x="517.45" y="992.35" width="22.67" height="22.70" fill="#fcf3ee"/><rect x="539.72" y="992.35" width="22.67" height="22.70" fill="#fddbc7"/><rect x="561.99" y="992.35" width="22.67" height="22.70" fill="#fcd5bf"/><rect x="584.26" y="992.35" width="22.67" height="22.70" fill="#fcd5bf"/><rect x="606.53" y="992.35" width="22.67" height="22.70" fill="#fbefe8"/><rect x="628.80" y="992.35" width="22.67" height="22.70" fill="#fce3d4"/><rect x="72.05" y="1014.65" width="22.67" height="22.70" fill="#fddbc7"/><rect x="94.32" y="1014.65" width="22.67" height="22.70" fill="#fdfdfd"/><rect x="116.59" y="1014.65" width="22.67" height="22.70" fill="#fcf8f5"/><rect x="138.86" y="1014.65" width="22.67" height="22.70" fill="#f8bb9e"/><rect x="161.13" y="1014.65" width="22.67" height="22.70" fill="#d6604d"/><rect x="183.40" y="1014.65" width="22.67" height="22.70" fill="#fddbc7"/><rect x="205.67" y="1014.65" width="22.67" height="22.70" fill="#f8bfa4"/><rect x="227.94" y="1014.65" width="22.67" height="22.70" fill="#fce3d4"/><rect x="250.21" y="1014.65" width="22.67" height="22.70" fill="#f19e7d"/><rect x="272.48" y="1014.65" width="22.67" height="22.70" fill="#dceaf2"/><rect x="294.75" y="1014.65" width="22.67" height="22.70" fill="#f0f5f8"/><rect x="317.02" y="1014.65" width="22.67" height="22.70" fill="#f7b799"/><rect x="339.29" y="1014.65" width="22.67" height="22.70" fill="#fdfdfd"/><rect x="361.56" y="1014.65" width="22.67" height="22.70" fill="#dceaf2"/><rect x="383.83" y="1014.65" width="22.67" height="22.70" fill="#fbebe1"/><rect x="406.10" y="1014.65" width="22.67" height="22.70" fill="#dceaf2"/><rect x="428.37" y="1014.65" width="22.67" height="22.70" fill="#fcf8f5"/><rect x="450.64" y="1014.65" width="22.67" height="22.70" fill="#e6f0f5"/><rect x="472.91" y="1014.65" width="22.67" height="22.70" fill="#fcf5f1"/><rect x="495.18" y="1014.65" width="22.67" height="22.70" fill="#fafbfb"/><rect x="517.45" y="1014.65" width="22.67" height="22.70" fill="#fcf8f5"/><rect x="539.72" y="1014.65" width="22.67" height="22.70" fill="#d4e6f1"/><rect x="561.99" y="1014.65" width="22.67" height="22.70" fill="#fcf8f5"/><rect x="584.26" y="1014.65" width="22.67" height="22.70" fill="#fafbfb"/><rect x="606.53" y="1014.65" width="22.67" height="22.70" fill="#98c8e0"/><rect x="628.80" y="1014.65" width="22.67" height="22.70" fill="#fcf3ee"/><rect x="72.05" y="1036.95" width="22.67" height="22.70" fill="#dceaf2"/><rect x="94.32" y="1036.95" width="22.67" height="22.70" fill="#98c8e0"/><rect x="116.59" y="1036.95" width="22.67" height="22.70" fill="#dceaf2"/><rect x="138.86" y="1036.95" width="22.67" height="22.70" fill="#fcf5f1"/><rect x="161.13" y="1036.95" width="22.67" height="22.70" fill="#fcf5f1"/><rect x="183.40" y="1036.95" width="22.67" height="22.70" fill="#fbceb7"/><rect x="205.67" y="1036.95" width="22.67" height="22.70" fill="#fbefe8"/><rect x="227.94" y="1036.95" width="22.67" height="22.70" fill="#fce3d4"/><rect x="250.21" y="1036.95" width="22.67" height="22.70" fill="#fbfcfc"/><rect x="272.48" y="1036.95" width="22.67" height="22.70" fill="#dceaf2"/><rect x="294.75" y="1036.95" width="22.67" height="22.70" fill="#f6b394"/><rect x="317.02" y="1036.95" width="22.67" height="22.70" fill="#fbefe8"/><rect x="339.29" y="1036.95" width="22.67" height="22.70" fill="#fdddcb"/><rect x="361.56" y="1036.95" width="22.67" height="22.70" fill="#fddbc7"/><rect x="383.83" y="1036.95" width="22.67" height="22.70" fill="#fddbc7"/><rect x="406.10" y="1036.95" width="22.67" height="22.70" fill="#fdfdfd"/><rect x="428.37" y="1036.95" width="22.67" height="22.70" fill="#ecf3f7"/><rect x="450.64" y="1036.95" width="22.67" height="22.70" fill="#fce3d4"/><rect x="472.91" y="1036.95" width="22.67" height="22.70" fill="#dceaf2"/><rect x="495.18" y="1036.95" width="22.67" height="22.70" fill="#f5aa89"/><rect x="517.45" y="1036.95" width="22.67" height="22.70" fill="#fdfdfd"/><rect x="539.72" y="1036.95" width="22.67" height="22.70" fill="#fdfdfd"/><rect x="561.99" y="1036.95" width="22.67" height="22.70" fill="#f3f7f9"/><rect x="584.26" y="1036.95" width="22.67" height="22.70" fill="#fdfdfd"/><rect x="606.53" y="1036.95" width="22.67" height="22.70" fill="#fdfdfd"/><rect x="628.80" y="1036.95" width="22.67" height="22.70" fill="#f3f7f9"/><rect x="72.05" y="1059.25" width="22.67" height="22.70" fill="#8ac0db"/><rect x="94.32" y="1059.25" width="22.67" height="22.70" fill="#8ac0db"/><rect x="116.59" y="1059.25" width="22.67" height="22.70" fill="#e6f0f5"/><rect x="138.86" y="1059.25" width="22.67" height="22.70" fill="#d1e5f0"/><rect x="161.13" y="1059.25" width="22.67" height="22.70" fill="#fce3d4"/><rect x="183.40" y="1059.25" width="22.67" height="22.70" fill="#fafbfb"/><rect x="205.67" y="1059.25" width="22.67" height="22.70" fill="#fdfdfd"/><rect x="227.94" y="1059.25" width="22.67" height="22.70" fill="#f6f9fa"/><rect x="250.21" y="1059.25" width="22.67" height="22.70" fill="#fbefe8"/><rect x="272.48" y="1059.25" width="22.67" height="22.70" fill="#b8d8e9"/><rect x="294.75" y="1059.25" width="22.67" height="22.70" fill="#fcf5f1"/><rect x="317.02" y="1059.25" width="22.67" height="22.70" fill="#ec9374"/><rect x="339.29" y="1059.25" width="22.67" height="22.70" fill="#fdfdfd"/><rect x="361.56" y="1059.25" width="22.67" height="22.70" fill="#68abd0"/><rect x="383.83" y="1059.25" width="22.67" height="22.70" fill="#fce3d4"/><rect x="406.10" y="1059.25" width="22.67" height="22.70" fill="#71b0d3"/><rect x="428.37" y="1059.25" width="22.67" height="22.70" fill="#fcfaf9"/><rect x="450.64" y="1059.25" width="22.67" height="22.70" fill="#f3f7f9"/><rect x="472.91" y="1059.25" width="22.67" height="22.70" fill="#fcfaf9"/><rect x="495.18" y="1059.25" width="22.67" height="22.70" fill="#f3f7f9"/><rect x="517.45" y="1059.25" width="22.67" height="22.70" fill="#fcf5f1"/><rect x="539.72" y="1059.25" width="22.67" height="22.70" fill="#f0f5f8"/><rect x="561.99" y="1059.25" width="22.67" height="22.70" fill="#fcd5bf"/><rect x="584.26" y="1059.25" width="22.67" height="22.70" fill="#e58368"/><rect x="606.53" y="1059.25" width="22.67" height="22.70" fill="#e6f0f5"/><rect x="628.80" y="1059.25" width="22.67" height="22.70" fill="#fbefe8"/><rect x="72.05" y="1081.55" width="22.67" height="22.70" fill="#b1d5e7"/><rect x="94.32" y="1081.55" width="22.67" height="22.70" fill="#8ac0db"/><rect x="116.59" y="1081.55" width="22.67" height="22.70" fill="#fbfcfc"/><rect x="138.86" y="1081.55" width="22.67" height="22.70" fill="#cae1ee"/><rect x="161.13" y="1081.55" width="22.67" height="22.70" fill="#fddbc7"/><rect x="183.40" y="1081.55" width="22.67" height="22.70" fill="#fdfdfd"/><rect x="205.67" y="1081.55" width="22.67" height="22.70" fill="#fbefe8"/><rect x="227.94" y="1081.55" width="22.67" height="22.70" fill="#fcfaf9"/><rect x="250.21" y="1081.55" width="22.67" height="22.70" fill="#f6f9fa"/><rect x="272.48" y="1081.55" width="22.67" height="22.70" fill="#b1d5e7"/><rect x="294.75" y="1081.55" width="22.67" height="22.70" fill="#fcfaf9"/><rect x="317.02" y="1081.55" width="22.67" height="22.70" fill="#f19e7d"/><rect x="339.29" y="1081.55" width="22.67" height="22.70" fill="#f6f9fa"/><rect x="361.56" y="1081.55" width="22.67" height="22.70" fill="#71b0d3"/><rect x="383.83" y="1081.55" width="22.67" height="22.70" fill="#fdddcb"/><rect x="406.10" y="1081.55" width="22.67" height="22.70" fill="#71b0d3"/><rect x="428.37" y="1081.55" width="22.67" height="22.70" fill="#fbebe1"/><rect x="450.64" y="1081.55" width="22.67" height="22.70" fill="#f3f7f9"/><rect x="472.91" y="1081.55" width="22.67" height="22.70" fill="#fcf3ee"/><rect x="495.18" y="1081.55" width="22.67" height="22.70" fill="#fdfdfd"/><rect x="517.45" y="1081.55" width="22.67" height="22.70" fill="#fcf5f1"/><rect x="539.72" y="1081.55" width="22.67" height="22.70" fill="#b8d8e9"/><rect x="561.99" y="1081.55" width="22.67" height="22.70" fill="#f9c6ac"/><rect x="584.26" y="1081.55" width="22.67" height="22.70" fill="#e58368"/><rect x="606.53" y="1081.55" width="22.67" height="22.70" fill="#dceaf2"/><rect x="628.80" y="1081.55" width="22.67" height="22.70" fill="#fdddcb"/><rect x="72.05" y="1103.85" width="22.67" height="22.70" fill="#f19e7d"/><rect x="94.32" y="1103.85" width="22.67" height="22.70" fill="#ec9374"/><rect x="116.59" y="1103.85" width="22.67" height="22.70" fill="#fafbfb"/><rect x="138.86" y="1103.85" width="22.67" height="22.70" fill="#fcf3ee"/><rect x="161.13" y="1103.85" width="22.67" height="22.70" fill="#f3f7f9"/><rect x="183.40" y="1103.85" width="22.67" height="22.70" fill="#b1d5e7"/><rect x="205.67" y="1103.85" width="22.67" height="22.70" fill="#fce3d4"/><rect x="227.94" y="1103.85" width="22.67" height="22.70" fill="#fce3d4"/><rect x="250.21" y="1103.85" width="22.67" height="22.70" fill="#e6f0f5"/><rect x="272.48" y="1103.85" width="22.67" height="22.70" fill="#f6b394"/><rect x="294.75" y="1103.85" width="22.67" height="22.70" fill="#98c8e0"/><rect x="317.02" y="1103.85" width="22.67" height="22.70" fill="#7eb8d7"/><rect x="339.29" y="1103.85" width="22.67" height="22.70" fill="#d4e6f1"/><rect x="361.56" y="1103.85" width="22.67" height="22.70" fill="#e58368"/><rect x="383.83" y="1103.85" width="22.67" height="22.70" fill="#dceaf2"/><rect x="406.10" y="1103.85" width="22.67" height="22.70" fill="#ec9374"/><rect x="428.37" y="1103.85" width="22.67" height="22.70" fill="#fddbc7"/><rect x="450.64" y="1103.85" width="22.67" height="22.70" fill="#fbefe8"/><rect x="472.91" y="1103.85" width="22.67" height="22.70" fill="#ee9677"/><rect x="495.18" y="1103.85" width="22.67" height="22.70" fill="#e6f0f5"/><rect x="517.45" y="1103.85" width="22.67" height="22.70" fill="#fcf8f5"/><rect x="539.72" y="1103.85" width="22.67" height="22.70" fill="#dceaf2"/><rect x="561.99" y="1103.85" width="22.67" height="22.70" fill="#90c4dd"/><rect x="584.26" y="1103.85" width="22.67" height="22.70" fill="#c0dceb"/><rect x="606.53" y="1103.85" width="22.67" height="22.70" fill="#fcf8f5"/><rect x="628.80" y="1103.85" width="22.67" height="22.70" fill="#fcf8f5"/><rect x="72.05" y="1126.15" width="22.67" height="22.70" fill="#f0f5f8"/><rect x="94.32" y="1126.15" width="22.67" height="22.70" fill="#fcf5f1"/><rect x="116.59" y="1126.15" width="22.67" height="22.70" fill="#fbefe8"/><rect x="138.86" y="1126.15" width="22.67" height="22.70" fill="#f19e7d"/><rect x="161.13" y="1126.15" width="22.67" height="22.70" fill="#e6f0f5"/><rect x="183.40" y="1126.15" width="22.67" height="22.70" fill="#dceaf2"/><rect x="205.67" y="1126.15" width="22.67" height="22.70" fill="#e6f0f5"/><rect x="227.94" y="1126.15" width="22.67" height="22.70" fill="#fdfdfd"/><rect x="250.21" y="1126.15" width="22.67" height="22.70" fill="#fbceb7"/><rect x="272.48" y="1126.15" width="22.67" height="22.70" fill="#d4e6f1"/><rect x="294.75" y="1126.15" width="22.67" height="22.70" fill="#fce3d4"/><rect x="317.02" y="1126.15" width="22.67" height="22.70" fill="#fdddcb"/><rect x="339.29" y="1126.15" width="22.67" height="22.70" fill="#e6f0f5"/><rect x="361.56" y="1126.15" width="22.67" height="22.70" fill="#b8d8e9"/><rect x="383.83" y="1126.15" width="22.67" height="22.70" fill="#f5aa89"/><rect x="406.10" y="1126.15" width="22.67" height="22.70" fill="#ecf3f7"/><rect x="428.37" y="1126.15" width="22.67" height="22.70" fill="#d1e5f0"/><rect x="450.64" y="1126.15" width="22.67" height="22.70" fill="#cae1ee"/><rect x="472.91" y="1126.15" width="22.67" height="22.70" fill="#ecf3f7"/><rect x="495.18" y="1126.15" width="22.67" height="22.70" fill="#fcf8f5"/><rect x="517.45" y="1126.15" width="22.67" height="22.70" fill="#f3f7f9"/><rect x="539.72" y="1126.15" width="22.67" height="22.70" fill="#fcf8f5"/><rect x="561.99" y="1126.15" width="22.67" height="22.70" fill="#fcf8f5"/><rect x="584.26" y="1126.15" width="22.67" height="22.70" fill="#fdfdfd"/><rect x="606.53" y="1126.15" width="22.67" height="22.70" fill="#e6f0f5"/><rect x="628.80" y="1126.15" width="22.67" height="22.70" fill="#fbfcfc"/><rect x="72.05" y="1148.45" width="22.67" height="22.70" fill="#fcf5f1"/><rect x="94.32" y="1148.45" width="22.67" height="22.70" fill="#fcfaf9"/><rect x="116.59" y="1148.45" width="22.67" height="22.70" fill="#f8bb9e"/><rect x="138.86" y="1148.45" width="22.67" height="22.70" fill="#fcf3ee"/><rect x="161.13" y="1148.45" width="22.67" height="22.70" fill="#fbceb7"/><rect x="183.40" y="1148.45" width="22.67" height="22.70" fill="#90c4dd"/><rect x="205.67" y="1148.45" width="22.67" height="22.70" fill="#fcfaf9"/><rect x="227.94" y="1148.45" width="22.67" height="22.70" fill="#c0dceb"/><rect x="250.21" y="1148.45" width="22.67" height="22.70" fill="#f5aa89"/><rect x="272.48" y="1148.45" width="22.67" height="22.70" fill="#f6f9fa"/><rect x="294.75" y="1148.45" width="22.67" height="22.70" fill="#569fc9"/><rect x="317.02" y="1148.45" width="22.67" height="22.70" fill="#ecf3f7"/><rect x="339.29" y="1148.45" width="22.67" height="22.70" fill="#f0f5f8"/><rect x="361.56" y="1148.45" width="22.67" height="22.70" fill="#acd2e5"/><rect x="383.83" y="1148.45" width="22.67" height="22.70" fill="#fbfcfc"/><rect x="406.10" y="1148.45" width="22.67" height="22.70" fill="#98c8e0"/><rect x="428.37" y="1148.45" width="22.67" height="22.70" fill="#dceaf2"/><rect x="450.64" y="1148.45" width="22.67" height="22.70" fill="#dceaf2"/><rect x="472.91" y="1148.45" width="22.67" height="22.70" fill="#b1d5e7"/><rect x="495.18" y="1148.45" width="22.67" height="22.70" fill="#dceaf2"/><rect x="517.45" y="1148.45" width="22.67" height="22.70" fill="#f8bfa4"/><rect x="539.72" y="1148.45" width="22.67" height="22.70" fill="#fddbc7"/><rect x="561.99" y="1148.45" width="22.67" height="22.70" fill="#fcf5f1"/><rect x="584.26" y="1148.45" width="22.67" height="22.70" fill="#f8bb9e"/><rect x="606.53" y="1148.45" width="22.67" height="22.70" fill="#fcf5f1"/><rect x="628.80" y="1148.45" width="22.67" height="22.70" fill="#fdddcb"/><rect x="72.05" y="1170.75" width="22.67" height="22.70" fill="#fcfbfb"/><rect x="94.32" y="1170.75" width="22.67" height="22.70" fill="#62a7ce"/><rect x="116.59" y="1170.75" width="22.67" height="22.70" fill="#fdddcb"/><rect x="138.86" y="1170.75" width="22.67" height="22.70" fill="#cae1ee"/><rect x="161.13" y="1170.75" width="22.67" height="22.70" fill="#ec9374"/><rect x="183.40" y="1170.75" width="22.67" height="22.70" fill="#f8bb9e"/><rect x="205.67" y="1170.75" width="22.67" height="22.70" fill="#f8bb9e"/><rect x="227.94" y="1170.75" width="22.67" height="22.70" fill="#fbebe1"/><rect x="250.21" y="1170.75" width="22.67" height="22.70" fill="#f9c6ac"/><rect x="272.48" y="1170.75" width="22.67" height="22.70" fill="#e6f0f5"/><rect x="294.75" y="1170.75" width="22.67" height="22.70" fill="#fbebe1"/><rect x="317.02" y="1170.75" width="22.67" height="22.70" fill="#f3a481"/><rect x="339.29" y="1170.75" width="22.67" height="22.70" fill="#fdddcb"/><rect x="361.56" y="1170.75" width="22.67" height="22.70" fill="#d1e5f0"/><rect x="383.83" y="1170.75" width="22.67" height="22.70" fill="#fdddcb"/><rect x="406.10" y="1170.75" width="22.67" height="22.70" fill="#3480b9"/><rect x="428.37" y="1170.75" width="22.67" height="22.70" fill="#dceaf2"/><rect x="450.64" y="1170.75" width="22.67" height="22.70" fill="#fbefe8"/><rect x="472.91" y="1170.75" width="22.67" height="22.70" fill="#d4e6f1"/><rect x="495.18" y="1170.75" width="22.67" height="22.70" fill="#fbefe8"/><rect x="517.45" y="1170.75" width="22.67" height="22.70" fill="#fafbfb"/><rect x="539.72" y="1170.75" width="22.67" height="22.70" fill="#cae1ee"/><rect x="561.99" y="1170.75" width="22.67" height="22.70" fill="#e8896c"/><rect x="584.26" y="1170.75" width="22.67" height="22.70" fill="#fddbc7"/><rect x="606.53" y="1170.75" width="22.67" height="22.70" fill="#fdfdfd"/><rect x="628.80" y="1170.75" width="22.67" height="22.70" fill="#f9c6ac"/><text class="st" x="167.36" y="1036.10" text-anchor="middle">*</text><text class="st" x="177.36" y="1036.10" text-anchor="middle">*</text><text class="st" x="105.75" y="1125.30" text-anchor="middle">*</text><text class="st" x="328.46" y="1125.30" text-anchor="middle">*</text><text class="st" x="306.19" y="1169.90" text-anchor="middle">*</text><text class="st" x="105.75" y="1192.20" text-anchor="middle">*</text><text class="st" x="172.56" y="1192.20" text-anchor="middle">*</text><text class="st" x="373.00" y="1080.70" text-anchor="middle">*</text><text class="st" x="417.54" y="1080.70" text-anchor="middle">*</text><text class="st" x="595.69" y="1080.70" text-anchor="middle">*</text><text class="st" x="373.00" y="1103.00" text-anchor="middle">*</text><text class="st" x="417.54" y="1103.00" text-anchor="middle">*</text><text class="st" x="595.69" y="1103.00" text-anchor="middle">*</text><text class="st" x="373.00" y="1125.30" text-anchor="middle">*</text><text class="st" x="412.34" y="1192.20" text-anchor="middle">*</text><text class="st" x="422.34" y="1192.20" text-anchor="middle">*</text><text class="st" x="573.42" y="1192.20" text-anchor="middle">*</text><text class="cl" x="83.98" y="985.15" style="font-size:16.40px" text-anchor="middle" textLength="10.17" lengthAdjust="spacingAndGlyphs">R</text><text class="cl" x="105.45" y="985.15" style="font-size:16.40px" text-anchor="middle" textLength="19.50" lengthAdjust="spacingAndGlyphs">AP</text><text class="cl" x="128.53" y="985.15" style="font-size:16.40px" text-anchor="middle" textLength="11.01" lengthAdjust="spacingAndGlyphs">N</text><text class="cl" x="150.00" y="985.15" style="font-size:16.40px" text-anchor="middle" textLength="8.48" lengthAdjust="spacingAndGlyphs">P</text><text class="cl" x="168.76" y="985.15" style="font-size:16.40px" text-anchor="middle" textLength="20.33" lengthAdjust="spacingAndGlyphs">DL</text><text class="cl" x="192.13" y="985.15" style="font-size:16.40px" text-anchor="middle" textLength="20.33" lengthAdjust="spacingAndGlyphs">AE</text><text class="cl" x="216.81" y="985.15" style="font-size:16.40px" text-anchor="middle" textLength="20.35" lengthAdjust="spacingAndGlyphs">RC</text><text class="cl" x="239.07" y="985.15" style="font-size:16.40px" text-anchor="middle" textLength="8.48" lengthAdjust="spacingAndGlyphs">F</text><text class="cl" x="261.34" y="985.15" style="font-size:16.40px" text-anchor="middle" textLength="21.19" lengthAdjust="spacingAndGlyphs">AB</text><text class="cl" x="283.62" y="985.15" style="font-size:16.40px" text-anchor="middle" textLength="18.63" lengthAdjust="spacingAndGlyphs">EE</text><text class="cl" x="305.88" y="985.15" style="font-size:16.40px" text-anchor="middle" textLength="21.19" lengthAdjust="spacingAndGlyphs">AC</text><text class="cl" x="328.16" y="985.15" style="font-size:16.40px" text-anchor="middle" textLength="14.40" lengthAdjust="spacingAndGlyphs">IE</text><text class="cl" x="349.23" y="985.15" style="font-size:16.40px" text-anchor="middle" textLength="18.10" lengthAdjust="spacingAndGlyphs">PA</text><text class="cl" x="371.50" y="985.15" style="font-size:16.40px" text-anchor="middle" textLength="11.01" lengthAdjust="spacingAndGlyphs">A</text><text class="cl" x="393.77" y="985.15" style="font-size:16.40px" text-anchor="middle" textLength="9.32" lengthAdjust="spacingAndGlyphs">T</text><text class="cl" x="417.24" y="985.15" style="font-size:16.40px" text-anchor="middle" textLength="11.01" lengthAdjust="spacingAndGlyphs">D</text><text class="cl" x="439.50" y="985.15" style="font-size:16.40px" text-anchor="middle" textLength="11.01" lengthAdjust="spacingAndGlyphs">V</text><text class="cl" x="461.77" y="985.15" style="font-size:16.40px" text-anchor="middle" textLength="13.56" lengthAdjust="spacingAndGlyphs">M</text><text class="cl" x="484.05" y="985.15" style="font-size:16.40px" text-anchor="middle" textLength="9.32" lengthAdjust="spacingAndGlyphs">E</text><text class="cl" x="504.51" y="985.15" style="font-size:16.40px" text-anchor="middle" textLength="18.63" lengthAdjust="spacingAndGlyphs">LE</text><text class="cl" x="527.38" y="985.15" style="font-size:16.40px" text-anchor="middle" textLength="19.50" lengthAdjust="spacingAndGlyphs">NS</text><text class="cl" x="550.06" y="985.15" style="font-size:16.40px" text-anchor="middle" textLength="19.50" lengthAdjust="spacingAndGlyphs">DS</text><text class="cl" x="571.92" y="985.15" style="font-size:16.40px" text-anchor="middle" textLength="19.50" lengthAdjust="spacingAndGlyphs">VS</text><text class="cl" x="594.60" y="985.15" style="font-size:16.40px" text-anchor="middle" textLength="19.50" lengthAdjust="spacingAndGlyphs">AS</text><text class="cl" x="617.06" y="983.45" style="font-size:12.80px" text-anchor="middle" textLength="21.82" lengthAdjust="spacingAndGlyphs">VAC</text><text class="cl" x="639.33" y="985.15" style="font-size:16.40px" text-anchor="middle" textLength="19.50" lengthAdjust="spacingAndGlyphs">OS</text><text class="rl" x="61.65" y="1010.50" style="font-size:18.30px" text-anchor="end" textLength="25.17" lengthAdjust="spacingAndGlyphs">HR</text><text class="rl" x="61.65" y="1032.80" style="font-size:18.30px" text-anchor="end" textLength="45.71" lengthAdjust="spacingAndGlyphs">RESP</text><text class="rl" x="61.65" y="1055.10" style="font-size:18.30px" text-anchor="end" textLength="52.08" lengthAdjust="spacingAndGlyphs">LF/HF</text><text class="rl" x="61.65" y="1077.40" style="font-size:18.30px" text-anchor="end" textLength="53.56" lengthAdjust="spacingAndGlyphs">α-EEG</text><text class="rl" x="61.65" y="1099.70" style="font-size:18.30px" text-anchor="end" textLength="53.27" lengthAdjust="spacingAndGlyphs">β-EEG</text><text class="rl" x="61.65" y="1122.00" style="font-size:18.30px" text-anchor="end" textLength="25.66" lengthAdjust="spacingAndGlyphs">β/α</text><text class="rl" x="61.65" y="1144.30" style="font-size:18.30px" text-anchor="end" textLength="21.27" lengthAdjust="spacingAndGlyphs">FF</text><text class="rl" x="61.65" y="1166.60" style="font-size:18.30px" text-anchor="end" textLength="38.26" lengthAdjust="spacingAndGlyphs">APD</text><text class="rl" x="61.65" y="1188.90" style="font-size:18.30px" text-anchor="end" textLength="21.27" lengthAdjust="spacingAndGlyphs">SF</text><rect x="661.62" y="992.85" width="21.6" height="200.20" fill="url(#cb)" stroke="#000" stroke-width="1.6"/><line x1="683.22" x2="687.62" y1="992.85" y2="992.85" stroke="#000" stroke-width="1.5"/><text class="tl" x="696.92" y="999.25" style="font-size:18.30px" textLength="23.79" lengthAdjust="spacingAndGlyphs">1.0</text><line x1="683.22" x2="687.62" y1="1012.87" y2="1012.87" stroke="#000" stroke-width="1.5"/><text class="tl" x="696.92" y="1018.80" style="font-size:18.30px" textLength="23.79" lengthAdjust="spacingAndGlyphs">0.8</text><line x1="683.22" x2="687.62" y1="1032.89" y2="1032.89" stroke="#000" stroke-width="1.5"/><text class="tl" x="696.92" y="1038.35" style="font-size:18.30px" textLength="23.79" lengthAdjust="spacingAndGlyphs">0.6</text><line x1="683.22" x2="687.62" y1="1052.91" y2="1052.91" stroke="#000" stroke-width="1.5"/><text class="tl" x="696.92" y="1057.90" style="font-size:18.30px" textLength="23.79" lengthAdjust="spacingAndGlyphs">0.4</text><line x1="683.22" x2="687.62" y1="1072.93" y2="1072.93" stroke="#000" stroke-width="1.5"/><text class="tl" x="696.92" y="1077.45" style="font-size:18.30px" textLength="23.79" lengthAdjust="spacingAndGlyphs">0.2</text><line x1="683.22" x2="687.62" y1="1092.95" y2="1092.95" stroke="#000" stroke-width="1.5"/><text class="tl" x="696.92" y="1097.00" style="font-size:18.30px" textLength="9.52" lengthAdjust="spacingAndGlyphs">0</text><line x1="683.22" x2="687.62" y1="1112.97" y2="1112.97" stroke="#000" stroke-width="1.5"/><text class="tl" x="694.12" y="1116.55" style="font-size:18.30px" textLength="30.13" lengthAdjust="spacingAndGlyphs">-0.2</text><line x1="683.22" x2="687.62" y1="1132.99" y2="1132.99" stroke="#000" stroke-width="1.5"/><text class="tl" x="694.12" y="1136.10" style="font-size:18.30px" textLength="30.13" lengthAdjust="spacingAndGlyphs">-0.4</text><line x1="683.22" x2="687.62" y1="1153.01" y2="1153.01" stroke="#000" stroke-width="1.5"/><text class="tl" x="694.12" y="1155.65" style="font-size:18.30px" textLength="30.13" lengthAdjust="spacingAndGlyphs">-0.6</text><line x1="683.22" x2="687.62" y1="1173.03" y2="1173.03" stroke="#000" stroke-width="1.5"/><text class="tl" x="694.12" y="1175.20" style="font-size:18.30px" textLength="30.13" lengthAdjust="spacingAndGlyphs">-0.8</text><line x1="683.22" x2="687.62" y1="1193.05" y2="1193.05" stroke="#000" stroke-width="1.5"/><text class="tl" x="694.12" y="1194.75" style="font-size:18.30px" textLength="30.13" lengthAdjust="spacingAndGlyphs">-1.0</text><text class="cap" x="158.90" y="1241.80" style="font-size:23.8px" textLength="343.30" lengthAdjust="spacingAndGlyphs">(g)  Short path &amp; Uphill &amp; Elderly</text></g>
<g><rect x="874.30" y="992.35" width="22.67" height="22.70" fill="#fcd5bf"/><rect x="896.57" y="992.35" width="22.67" height="22.70" fill="#fcfaf9"/><rect x="918.84" y="992.35" width="22.67" height="22.70" fill="#fce3d4"/><rect x="941.11" y="992.35" width="22.67" height="22.70" fill="#ecf3f7"/><rect x="963.38" y="992.35" width="22.67" height="22.70" fill="#fcd5bf"/><rect x="985.65" y="992.35" width="22.67" height="22.70" fill="#fcd5bf"/><rect x="1007.92" y="992.35" width="22.67" height="22.70" fill="#f8bfa4"/><rect x="1030.19" y="992.35" width="22.67" height="22.70" fill="#d4e6f1"/><rect x="1052.46" y="992.35" width="22.67" height="22.70" fill="#fce3d4"/><rect x="1074.73" y="992.35" width="22.67" height="22.70" fill="#d4e6f1"/><rect x="1097.00" y="992.35" width="22.67" height="22.70" fill="#fdfdfd"/><rect x="1119.27" y="992.35" width="22.67" height="22.70" fill="#fdddcb"/><rect x="1141.54" y="992.35" width="22.67" height="22.70" fill="#fdddcb"/><rect x="1163.81" y="992.35" width="22.67" height="22.70" fill="#f6f9fa"/><rect x="1186.08" y="992.35" width="22.67" height="22.70" fill="#fcfbfb"/><rect x="1208.35" y="992.35" width="22.67" height="22.70" fill="#f0f5f8"/><rect x="1230.62" y="992.35" width="22.67" height="22.70" fill="#f7b799"/><rect x="1252.89" y="992.35" width="22.67" height="22.70" fill="#fcf8f5"/><rect x="1275.16" y="992.35" width="22.67" height="22.70" fill="#fcd5bf"/><rect x="1297.43" y="992.35" width="22.67" height="22.70" fill="#fafbfb"/><rect x="1319.70" y="992.35" width="22.67" height="22.70" fill="#f3f7f9"/><rect x="1341.97" y="992.35" width="22.67" height="22.70" fill="#fcf8f5"/><rect x="1364.24" y="992.35" width="22.67" height="22.70" fill="#d1e5f0"/><rect x="1386.51" y="992.35" width="22.67" height="22.70" fill="#f3f7f9"/><rect x="1408.78" y="992.35" width="22.67" height="22.70" fill="#fce3d4"/><rect x="1431.05" y="992.35" width="22.67" height="22.70" fill="#fdfdfd"/><rect x="874.30" y="1014.65" width="22.67" height="22.70" fill="#ec9374"/><rect x="896.57" y="1014.65" width="22.67" height="22.70" fill="#a2cde3"/><rect x="918.84" y="1014.65" width="22.67" height="22.70" fill="#c0dceb"/><rect x="941.11" y="1014.65" width="22.67" height="22.70" fill="#f0f5f8"/><rect x="963.38" y="1014.65" width="22.67" height="22.70" fill="#d1e5f0"/><rect x="985.65" y="1014.65" width="22.67" height="22.70" fill="#fdfdfd"/><rect x="1007.92" y="1014.65" width="22.67" height="22.70" fill="#f8bb9e"/><rect x="1030.19" y="1014.65" width="22.67" height="22.70" fill="#fce3d4"/><rect x="1052.46" y="1014.65" width="22.67" height="22.70" fill="#fbefe8"/><rect x="1074.73" y="1014.65" width="22.67" height="22.70" fill="#fbceb7"/><rect x="1097.00" y="1014.65" width="22.67" height="22.70" fill="#f8bb9e"/><rect x="1119.27" y="1014.65" width="22.67" height="22.70" fill="#b1d5e7"/><rect x="1141.54" y="1014.65" width="22.67" height="22.70" fill="#fbebe1"/><rect x="1163.81" y="1014.65" width="22.67" height="22.70" fill="#b1d5e7"/><rect x="1186.08" y="1014.65" width="22.67" height="22.70" fill="#fddbc7"/><rect x="1208.35" y="1014.65" width="22.67" height="22.70" fill="#90c4dd"/><rect x="1230.62" y="1014.65" width="22.67" height="22.70" fill="#dceaf2"/><rect x="1252.89" y="1014.65" width="22.67" height="22.70" fill="#f6f9fa"/><rect x="1275.16" y="1014.65" width="22.67" height="22.70" fill="#b1d5e7"/><rect x="1297.43" y="1014.65" width="22.67" height="22.70" fill="#dd7059"/><rect x="1319.70" y="1014.65" width="22.67" height="22.70" fill="#c0dceb"/><rect x="1341.97" y="1014.65" width="22.67" height="22.70" fill="#a2cde3"/><rect x="1364.24" y="1014.65" width="22.67" height="22.70" fill="#c0dceb"/><rect x="1386.51" y="1014.65" width="22.67" height="22.70" fill="#fcf8f5"/><rect x="1408.78" y="1014.65" width="22.67" height="22.70" fill="#fbefe8"/><rect x="1431.05" y="1014.65" width="22.67" height="22.70" fill="#f3a481"/><rect x="874.30" y="1036.95" width="22.67" height="22.70" fill="#b1d5e7"/><rect x="896.57" y="1036.95" width="22.67" height="22.70" fill="#f9c6ac"/><rect x="918.84" y="1036.95" width="22.67" height="22.70" fill="#f8bfa4"/><rect x="941.11" y="1036.95" width="22.67" height="22.70" fill="#a2cde3"/><rect x="963.38" y="1036.95" width="22.67" height="22.70" fill="#fbceb7"/><rect x="985.65" y="1036.95" width="22.67" height="22.70" fill="#b8d8e9"/><rect x="1007.92" y="1036.95" width="22.67" height="22.70" fill="#f6f9fa"/><rect x="1030.19" y="1036.95" width="22.67" height="22.70" fill="#b8d8e9"/><rect x="1052.46" y="1036.95" width="22.67" height="22.70" fill="#d4e6f1"/><rect x="1074.73" y="1036.95" width="22.67" height="22.70" fill="#f3a481"/><rect x="1097.00" y="1036.95" width="22.67" height="22.70" fill="#e6f0f5"/><rect x="1119.27" y="1036.95" width="22.67" height="22.70" fill="#ecf3f7"/><rect x="1141.54" y="1036.95" width="22.67" height="22.70" fill="#ef9979"/><rect x="1163.81" y="1036.95" width="22.67" height="22.70" fill="#d1e5f0"/><rect x="1186.08" y="1036.95" width="22.67" height="22.70" fill="#f8bb9e"/><rect x="1208.35" y="1036.95" width="22.67" height="22.70" fill="#f3f7f9"/><rect x="1230.62" y="1036.95" width="22.67" height="22.70" fill="#fcfbfb"/><rect x="1252.89" y="1036.95" width="22.67" height="22.70" fill="#fbebe1"/><rect x="1275.16" y="1036.95" width="22.67" height="22.70" fill="#fbebe1"/><rect x="1297.43" y="1036.95" width="22.67" height="22.70" fill="#f9c6ac"/><rect x="1319.70" y="1036.95" width="22.67" height="22.70" fill="#fdddcb"/><rect x="1341.97" y="1036.95" width="22.67" height="22.70" fill="#fcf5f1"/><rect x="1364.24" y="1036.95" width="22.67" height="22.70" fill="#98c8e0"/><rect x="1386.51" y="1036.95" width="22.67" height="22.70" fill="#f8bfa4"/><rect x="1408.78" y="1036.95" width="22.67" height="22.70" fill="#f6b394"/><rect x="1431.05" y="1036.95" width="22.67" height="22.70" fill="#ec9374"/><rect x="874.30" y="1059.25" width="22.67" height="22.70" fill="#d4e6f1"/><rect x="896.57" y="1059.25" width="22.67" height="22.70" fill="#f3f7f9"/><rect x="918.84" y="1059.25" width="22.67" height="22.70" fill="#fdfdfd"/><rect x="941.11" y="1059.25" width="22.67" height="22.70" fill="#4393c3"/><rect x="963.38" y="1059.25" width="22.67" height="22.70" fill="#ecf3f7"/><rect x="985.65" y="1059.25" width="22.67" height="22.70" fill="#f0f5f8"/><rect x="1007.92" y="1059.25" width="22.67" height="22.70" fill="#f8bfa4"/><rect x="1030.19" y="1059.25" width="22.67" height="22.70" fill="#68abd0"/><rect x="1052.46" y="1059.25" width="22.67" height="22.70" fill="#b1d5e7"/><rect x="1074.73" y="1059.25" width="22.67" height="22.70" fill="#fcf5f1"/><rect x="1097.00" y="1059.25" width="22.67" height="22.70" fill="#dceaf2"/><rect x="1119.27" y="1059.25" width="22.67" height="22.70" fill="#ecf3f7"/><rect x="1141.54" y="1059.25" width="22.67" height="22.70" fill="#fbebe1"/><rect x="1163.81" y="1059.25" width="22.67" height="22.70" fill="#fcfaf9"/><rect x="1186.08" y="1059.25" width="22.67" height="22.70" fill="#fce3d4"/><rect x="1208.35" y="1059.25" width="22.67" height="22.70" fill="#fcf3ee"/><rect x="1230.62" y="1059.25" width="22.67" height="22.70" fill="#dceaf2"/><rect x="1252.89" y="1059.25" width="22.67" height="22.70" fill="#f0f5f8"/><rect x="1275.16" y="1059.25" width="22.67" height="22.70" fill="#fcf5f1"/><rect x="1297.43" y="1059.25" width="22.67" height="22.70" fill="#fafbfb"/><rect x="1319.70" y="1059.25" width="22.67" height="22.70" fill="#fafbfb"/><rect x="1341.97" y="1059.25" width="22.67" height="22.70" fill="#fdfdfd"/><rect x="1364.24" y="1059.25" width="22.67" height="22.70" fill="#d1e5f0"/><rect x="1386.51" y="1059.25" width="22.67" height="22.70" fill="#fcf5f1"/><rect x="1408.78" y="1059.25" width="22.67" height="22.70" fill="#c0dceb"/><rect x="1431.05" y="1059.25" width="22.67" height="22.70" fill="#cae1ee"/><rect x="874.30" y="1081.55" width="22.67" height="22.70" fill="#f0f5f8"/><rect x="896.57" y="1081.55" width="22.67" height="22.70" fill="#fbfcfc"/><rect x="918.84" y="1081.55" width="22.67" height="22.70" fill="#fcf8f5"/><rect x="941.11" y="1081.55" width="22.67" height="22.70" fill="#4393c3"/><rect x="963.38" y="1081.55" width="22.67" height="22.70" fill="#e6f0f5"/><rect x="985.65" y="1081.55" width="22.67" height="22.70" fill="#fcf5f1"/><rect x="1007.92" y="1081.55" width="22.67" height="22.70" fill="#f8bfa4"/><rect x="1030.19" y="1081.55" width="22.67" height="22.70" fill="#68abd0"/><rect x="1052.46" y="1081.55" width="22.67" height="22.70" fill="#b8d8e9"/><rect x="1074.73" y="1081.55" width="22.67" height="22.70" fill="#fbebe1"/><rect x="1097.00" y="1081.55" width="22.67" height="22.70" fill="#f0f5f8"/><rect x="1119.27" y="1081.55" width="22.67" height="22.70" fill="#ecf3f7"/><rect x="1141.54" y="1081.55" width="22.67" height="22.70" fill="#fbefe8"/><rect x="1163.81" y="1081.55" width="22.67" height="22.70" fill="#fbefe8"/><rect x="1186.08" y="1081.55" width="22.67" height="22.70" fill="#fbfcfc"/><rect x="1208.35" y="1081.55" width="22.67" height="22.70" fill="#fdfdfd"/><rect x="1230.62" y="1081.55" width="22.67" height="22.70" fill="#fbfcfc"/><rect x="1252.89" y="1081.55" width="22.67" height="22.70" fill="#d4e6f1"/><rect x="1275.16" y="1081.55" width="22.67" height="22.70" fill="#fcfaf9"/><rect x="1297.43" y="1081.55" width="22.67" height="22.70" fill="#fcfbfb"/><rect x="1319.70" y="1081.55" width="22.67" height="22.70" fill="#f0f5f8"/><rect x="1341.97" y="1081.55" width="22.67" height="22.70" fill="#ecf3f7"/><rect x="1364.24" y="1081.55" width="22.67" height="22.70" fill="#d1e5f0"/><rect x="1386.51" y="1081.55" width="22.67" height="22.70" fill="#ecf3f7"/><rect x="1408.78" y="1081.55" width="22.67" height="22.70" fill="#b8d8e9"/><rect x="1431.05" y="1081.55" width="22.67" height="22.70" fill="#d1e5f0"/><rect x="874.30" y="1103.85" width="22.67" height="22.70" fill="#fafbfb"/><rect x="896.57" y="1103.85" width="22.67" height="22.70" fill="#f8bb9e"/><rect x="918.84" y="1103.85" width="22.67" height="22.70" fill="#f8bfa4"/><rect x="941.11" y="1103.85" width="22.67" height="22.70" fill="#fcfbfb"/><rect x="963.38" y="1103.85" width="22.67" height="22.70" fill="#fcf8f5"/><rect x="985.65" y="1103.85" width="22.67" height="22.70" fill="#fce3d4"/><rect x="1007.92" y="1103.85" width="22.67" height="22.70" fill="#ecf3f7"/><rect x="1030.19" y="1103.85" width="22.67" height="22.70" fill="#fbebe1"/><rect x="1052.46" y="1103.85" width="22.67" height="22.70" fill="#fcf8f5"/><rect x="1074.73" y="1103.85" width="22.67" height="22.70" fill="#d86551"/><rect x="1097.00" y="1103.85" width="22.67" height="22.70" fill="#f3a481"/><rect x="1119.27" y="1103.85" width="22.67" height="22.70" fill="#fdfdfd"/><rect x="1141.54" y="1103.85" width="22.67" height="22.70" fill="#ecf3f7"/><rect x="1163.81" y="1103.85" width="22.67" height="22.70" fill="#fcf8f5"/><rect x="1186.08" y="1103.85" width="22.67" height="22.70" fill="#dceaf2"/><rect x="1208.35" y="1103.85" width="22.67" height="22.70" fill="#dceaf2"/><rect x="1230.62" y="1103.85" width="22.67" height="22.70" fill="#fbefe8"/><rect x="1252.89" y="1103.85" width="22.67" height="22.70" fill="#fbefe8"/><rect x="1275.16" y="1103.85" width="22.67" height="22.70" fill="#d1e5f0"/><rect x="1297.43" y="1103.85" width="22.67" height="22.70" fill="#fce3d4"/><rect x="1319.70" y="1103.85" width="22.67" height="22.70" fill="#f6f9fa"/><rect x="1341.97" y="1103.85" width="22.67" height="22.70" fill="#e6f0f5"/><rect x="1364.24" y="1103.85" width="22.67" height="22.70" fill="#fbceb7"/><rect x="1386.51" y="1103.85" width="22.67" height="22.70" fill="#fcd5bf"/><rect x="1408.78" y="1103.85" width="22.67" height="22.70" fill="#fcd5bf"/><rect x="1431.05" y="1103.85" width="22.67" height="22.70" fill="#fcd5bf"/><rect x="874.30" y="1126.15" width="22.67" height="22.70" fill="#fbebe1"/><rect x="896.57" y="1126.15" width="22.67" height="22.70" fill="#d4e6f1"/><rect x="918.84" y="1126.15" width="22.67" height="22.70" fill="#7eb8d7"/><rect x="941.11" y="1126.15" width="22.67" height="22.70" fill="#fbebe1"/><rect x="963.38" y="1126.15" width="22.67" height="22.70" fill="#ecf3f7"/><rect x="985.65" y="1126.15" width="22.67" height="22.70" fill="#e6f0f5"/><rect x="1007.92" y="1126.15" width="22.67" height="22.70" fill="#fcf5f1"/><rect x="1030.19" y="1126.15" width="22.67" height="22.70" fill="#f6f9fa"/><rect x="1052.46" y="1126.15" width="22.67" height="22.70" fill="#fdddcb"/><rect x="1074.73" y="1126.15" width="22.67" height="22.70" fill="#ecf3f7"/><rect x="1097.00" y="1126.15" width="22.67" height="22.70" fill="#fbfcfc"/><rect x="1119.27" y="1126.15" width="22.67" height="22.70" fill="#b1d5e7"/><rect x="1141.54" y="1126.15" width="22.67" height="22.70" fill="#dceaf2"/><rect x="1163.81" y="1126.15" width="22.67" height="22.70" fill="#fce3d4"/><rect x="1186.08" y="1126.15" width="22.67" height="22.70" fill="#fcf5f1"/><rect x="1208.35" y="1126.15" width="22.67" height="22.70" fill="#fbefe8"/><rect x="1230.62" y="1126.15" width="22.67" height="22.70" fill="#98c8e0"/><rect x="1252.89" y="1126.15" width="22.67" height="22.70" fill="#f9c6ac"/><rect x="1275.16" y="1126.15" width="22.67" height="22.70" fill="#d1e5f0"/><rect x="1297.43" y="1126.15" width="22.67" height="22.70" fill="#fdddcb"/><rect x="1319.70" y="1126.15" width="22.67" height="22.70" fill="#7eb8d7"/><rect x="1341.97" y="1126.15" width="22.67" height="22.70" fill="#d1e5f0"/><rect x="1364.24" y="1126.15" width="22.67" height="22.70" fill="#fafbfb"/><rect x="1386.51" y="1126.15" width="22.67" height="22.70" fill="#ecf3f7"/><rect x="1408.78" y="1126.15" width="22.67" height="22.70" fill="#d4e6f1"/><rect x="1431.05" y="1126.15" width="22.67" height="22.70" fill="#fbfcfc"/><rect x="874.30" y="1148.45" width="22.67" height="22.70" fill="#f9c6ac"/><rect x="896.57" y="1148.45" width="22.67" height="22.70" fill="#fddbc7"/><rect x="918.84" y="1148.45" width="22.67" height="22.70" fill="#f19e7d"/><rect x="941.11" y="1148.45" width="22.67" height="22.70" fill="#f6f9fa"/><rect x="963.38" y="1148.45" width="22.67" height="22.70" fill="#f6b394"/><rect x="985.65" y="1148.45" width="22.67" height="22.70" fill="#fce3d4"/><rect x="1007.92" y="1148.45" width="22.67" height="22.70" fill="#f9c6ac"/><rect x="1030.19" y="1148.45" width="22.67" height="22.70" fill="#fcf3ee"/><rect x="1052.46" y="1148.45" width="22.67" height="22.70" fill="#fcfaf9"/><rect x="1074.73" y="1148.45" width="22.67" height="22.70" fill="#fbefe8"/><rect x="1097.00" y="1148.45" width="22.67" height="22.70" fill="#f9c6ac"/><rect x="1119.27" y="1148.45" width="22.67" height="22.70" fill="#f6b394"/><rect x="1141.54" y="1148.45" width="22.67" height="22.70" fill="#f5aa89"/><rect x="1163.81" y="1148.45" width="22.67" height="22.70" fill="#dceaf2"/><rect x="1186.08" y="1148.45" width="22.67" height="22.70" fill="#fbceb7"/><rect x="1208.35" y="1148.45" width="22.67" height="22.70" fill="#d4e6f1"/><rect x="1230.62" y="1148.45" width="22.67" height="22.70" fill="#fbceb7"/><rect x="1252.89" y="1148.45" width="22.67" height="22.70" fill="#fcd5bf"/><rect x="1275.16" y="1148.45" width="22.67" height="22.70" fill="#fce3d4"/><rect x="1297.43" y="1148.45" width="22.67" height="22.70" fill="#fdfdfd"/><rect x="1319.70" y="1148.45" width="22.67" height="22.70" fill="#dd7059"/><rect x="1341.97" y="1148.45" width="22.67" height="22.70" fill="#f19e7d"/><rect x="1364.24" y="1148.45" width="22.67" height="22.70" fill="#fddbc7"/><rect x="1386.51" y="1148.45" width="22.67" height="22.70" fill="#fddbc7"/><rect x="1408.78" y="1148.45" width="22.67" height="22.70" fill="#f6b394"/><rect x="1431.05" y="1148.45" width="22.67" height="22.70" fill="#fdddcb"/><rect x="874.30" y="1170.75" width="22.67" height="22.70" fill="#fdfdfd"/><rect x="896.57" y="1170.75" width="22.67" height="22.70" fill="#fbefe8"/><rect x="918.84" y="1170.75" width="22.67" height="22.70" fill="#fbefe8"/><rect x="941.11" y="1170.75" width="22.67" height="22.70" fill="#fbefe8"/><rect x="963.38" y="1170.75" width="22.67" height="22.70" fill="#fdddcb"/><rect x="985.65" y="1170.75" width="22.67" height="22.70" fill="#f8bfa4"/><rect x="1007.92" y="1170.75" width="22.67" height="22.70" fill="#f8bfa4"/><rect x="1030.19" y="1170.75" width="22.67" height="22.70" fill="#fdfdfd"/><rect x="1052.46" y="1170.75" width="22.67" height="22.70" fill="#fdfdfd"/><rect x="1074.73" y="1170.75" width="22.67" height="22.70" fill="#fdddcb"/><rect x="1097.00" y="1170.75" width="22.67" height="22.70" fill="#d1e5f0"/><rect x="1119.27" y="1170.75" width="22.67" height="22.70" fill="#fcf3ee"/><rect x="1141.54" y="1170.75" width="22.67" height="22.70" fill="#fbebe1"/><rect x="1163.81" y="1170.75" width="22.67" height="22.70" fill="#acd2e5"/><rect x="1186.08" y="1170.75" width="22.67" height="22.70" fill="#fdfdfd"/><rect x="1208.35" y="1170.75" width="22.67" height="22.70" fill="#569fc9"/><rect x="1230.62" y="1170.75" width="22.67" height="22.70" fill="#fbebe1"/><rect x="1252.89" y="1170.75" width="22.67" height="22.70" fill="#dceaf2"/><rect x="1275.16" y="1170.75" width="22.67" height="22.70" fill="#f8bb9e"/><rect x="1297.43" y="1170.75" width="22.67" height="22.70" fill="#b8d8e9"/><rect x="1319.70" y="1170.75" width="22.67" height="22.70" fill="#fce3d4"/><rect x="1341.97" y="1170.75" width="22.67" height="22.70" fill="#f9c6ac"/><rect x="1364.24" y="1170.75" width="22.67" height="22.70" fill="#fdfdfd"/><rect x="1386.51" y="1170.75" width="22.67" height="22.70" fill="#fcf5f1"/><rect x="1408.78" y="1170.75" width="22.67" height="22.70" fill="#fbefe8"/><rect x="1431.05" y="1170.75" width="22.67" height="22.70" fill="#fcf5f1"/><text class="st" x="952.54" y="1080.70" text-anchor="middle">*</text><text class="st" x="952.54" y="1103.00" text-anchor="middle">*</text><text class="st" x="1080.96" y="1125.30" text-anchor="middle">*</text><text class="st" x="1090.96" y="1125.30" text-anchor="middle">*</text><text class="st" x="1308.87" y="1036.10" text-anchor="middle">*</text><text class="st" x="1331.13" y="1169.90" text-anchor="middle">*</text><text class="st" x="1219.78" y="1192.20" text-anchor="middle">*</text><text class="cl" x="886.23" y="985.15" style="font-size:16.40px" text-anchor="middle" textLength="10.17" lengthAdjust="spacingAndGlyphs">R</text><text class="cl" x="907.70" y="985.15" style="font-size:16.40px" text-anchor="middle" textLength="19.50" lengthAdjust="spacingAndGlyphs">AP</text><text class="cl" x="930.77" y="985.15" style="font-size:16.40px" text-anchor="middle" textLength="11.01" lengthAdjust="spacingAndGlyphs">N</text><text class="cl" x="952.24" y="985.15" style="font-size:16.40px" text-anchor="middle" textLength="8.48" lengthAdjust="spacingAndGlyphs">P</text><text class="cl" x="971.01" y="985.15" style="font-size:16.40px" text-anchor="middle" textLength="20.33" lengthAdjust="spacingAndGlyphs">DL</text><text class="cl" x="994.38" y="985.15" style="font-size:16.40px" text-anchor="middle" textLength="20.33" lengthAdjust="spacingAndGlyphs">AE</text><text class="cl" x="1019.05" y="985.15" style="font-size:16.40px" text-anchor="middle" textLength="20.35" lengthAdjust="spacingAndGlyphs">RC</text><text class="cl" x="1041.33" y="985.15" style="font-size:16.40px" text-anchor="middle" textLength="8.48" lengthAdjust="spacingAndGlyphs">F</text><text class="cl" x="1063.60" y="985.15" style="font-size:16.40px" text-anchor="middle" textLength="21.19" lengthAdjust="spacingAndGlyphs">AB</text><text class="cl" x="1085.87" y="985.15" style="font-size:16.40px" text-anchor="middle" textLength="18.63" lengthAdjust="spacingAndGlyphs">EE</text><text class="cl" x="1108.13" y="985.15" style="font-size:16.40px" text-anchor="middle" textLength="21.19" lengthAdjust="spacingAndGlyphs">AC</text><text class="cl" x="1130.40" y="985.15" style="font-size:16.40px" text-anchor="middle" textLength="14.40" lengthAdjust="spacingAndGlyphs">IE</text><text class="cl" x="1151.47" y="985.15" style="font-size:16.40px" text-anchor="middle" textLength="18.10" lengthAdjust="spacingAndGlyphs">PA</text><text class="cl" x="1173.74" y="985.15" style="font-size:16.40px" text-anchor="middle" textLength="11.01" lengthAdjust="spacingAndGlyphs">A</text><text class="cl" x="1196.01" y="985.15" style="font-size:16.40px" text-anchor="middle" textLength="9.32" lengthAdjust="spacingAndGlyphs">T</text><text class="cl" x="1219.48" y="985.15" style="font-size:16.40px" text-anchor="middle" textLength="11.01" lengthAdjust="spacingAndGlyphs">D</text><text class="cl" x="1241.75" y="985.15" style="font-size:16.40px" text-anchor="middle" textLength="11.01" lengthAdjust="spacingAndGlyphs">V</text><text class="cl" x="1264.02" y="985.15" style="font-size:16.40px" text-anchor="middle" textLength="13.56" lengthAdjust="spacingAndGlyphs">M</text><text class="cl" x="1286.30" y="985.15" style="font-size:16.40px" text-anchor="middle" textLength="9.32" lengthAdjust="spacingAndGlyphs">E</text><text class="cl" x="1306.77" y="985.15" style="font-size:16.40px" text-anchor="middle" textLength="18.63" lengthAdjust="spacingAndGlyphs">LE</text><text class="cl" x="1329.63" y="985.15" style="font-size:16.40px" text-anchor="middle" textLength="19.50" lengthAdjust="spacingAndGlyphs">NS</text><text class="cl" x="1352.31" y="985.15" style="font-size:16.40px" text-anchor="middle" textLength="19.50" lengthAdjust="spacingAndGlyphs">DS</text><text class="cl" x="1374.17" y="985.15" style="font-size:16.40px" text-anchor="middle" textLength="19.50" lengthAdjust="spacingAndGlyphs">VS</text><text class="cl" x="1396.85" y="985.15" style="font-size:16.40px" text-anchor="middle" textLength="19.50" lengthAdjust="spacingAndGlyphs">AS</text><text class="cl" x="1419.32" y="983.45" style="font-size:12.80px" text-anchor="middle" textLength="21.82" lengthAdjust="spacingAndGlyphs">VAC</text><text class="cl" x="1441.59" y="985.15" style="font-size:16.40px" text-anchor="middle" textLength="19.50" lengthAdjust="spacingAndGlyphs">OS</text><text class="rl" x="863.90" y="1010.50" style="font-size:18.30px" text-anchor="end" textLength="25.17" lengthAdjust="spacingAndGlyphs">HR</text><text class="rl" x="863.90" y="1032.80" style="font-size:18.30px" text-anchor="end" textLength="45.71" lengthAdjust="spacingAndGlyphs">RESP</text><text class="rl" x="863.90" y="1055.10" style="font-size:18.30px" text-anchor="end" textLength="52.08" lengthAdjust="spacingAndGlyphs">LF/HF</text><text class="rl" x="863.90" y="1077.40" style="font-size:18.30px" text-anchor="end" textLength="53.56" lengthAdjust="spacingAndGlyphs">α-EEG</text><text class="rl" x="863.90" y="1099.70" style="font-size:18.30px" text-anchor="end" textLength="53.27" lengthAdjust="spacingAndGlyphs">β-EEG</text><text class="rl" x="863.90" y="1122.00" style="font-size:18.30px" text-anchor="end" textLength="25.66" lengthAdjust="spacingAndGlyphs">β/α</text><text class="rl" x="863.90" y="1144.30" style="font-size:18.30px" text-anchor="end" textLength="21.27" lengthAdjust="spacingAndGlyphs">FF</text><text class="rl" x="863.90" y="1166.60" style="font-size:18.30px" text-anchor="end" textLength="38.26" lengthAdjust="spacingAndGlyphs">APD</text><text class="rl" x="863.90" y="1188.90" style="font-size:18.30px" text-anchor="end" textLength="21.27" lengthAdjust="spacingAndGlyphs">SF</text><rect x="1463.87" y="992.85" width="21.6" height="200.20" fill="url(#cb)" stroke="#000" stroke-width="1.6"/><line x1="1485.47" x2="1489.87" y1="992.85" y2="992.85" stroke="#000" stroke-width="1.5"/><text class="tl" x="1499.17" y="999.25" style="font-size:18.30px" textLength="23.79" lengthAdjust="spacingAndGlyphs">1.0</text><line x1="1485.47" x2="1489.87" y1="1012.87" y2="1012.87" stroke="#000" stroke-width="1.5"/><text class="tl" x="1499.17" y="1018.80" style="font-size:18.30px" textLength="23.79" lengthAdjust="spacingAndGlyphs">0.8</text><line x1="1485.47" x2="1489.87" y1="1032.89" y2="1032.89" stroke="#000" stroke-width="1.5"/><text class="tl" x="1499.17" y="1038.35" style="font-size:18.30px" textLength="23.79" lengthAdjust="spacingAndGlyphs">0.6</text><line x1="1485.47" x2="1489.87" y1="1052.91" y2="1052.91" stroke="#000" stroke-width="1.5"/><text class="tl" x="1499.17" y="1057.90" style="font-size:18.30px" textLength="23.79" lengthAdjust="spacingAndGlyphs">0.4</text><line x1="1485.47" x2="1489.87" y1="1072.93" y2="1072.93" stroke="#000" stroke-width="1.5"/><text class="tl" x="1499.17" y="1077.45" style="font-size:18.30px" textLength="23.79" lengthAdjust="spacingAndGlyphs">0.2</text><line x1="1485.47" x2="1489.87" y1="1092.95" y2="1092.95" stroke="#000" stroke-width="1.5"/><text class="tl" x="1499.17" y="1097.00" style="font-size:18.30px" textLength="9.52" lengthAdjust="spacingAndGlyphs">0</text><line x1="1485.47" x2="1489.87" y1="1112.97" y2="1112.97" stroke="#000" stroke-width="1.5"/><text class="tl" x="1496.37" y="1116.55" style="font-size:18.30px" textLength="30.13" lengthAdjust="spacingAndGlyphs">-0.2</text><line x1="1485.47" x2="1489.87" y1="1132.99" y2="1132.99" stroke="#000" stroke-width="1.5"/><text class="tl" x="1496.37" y="1136.10" style="font-size:18.30px" textLength="30.13" lengthAdjust="spacingAndGlyphs">-0.4</text><line x1="1485.47" x2="1489.87" y1="1153.01" y2="1153.01" stroke="#000" stroke-width="1.5"/><text class="tl" x="1496.37" y="1155.65" style="font-size:18.30px" textLength="30.13" lengthAdjust="spacingAndGlyphs">-0.6</text><line x1="1485.47" x2="1489.87" y1="1173.03" y2="1173.03" stroke="#000" stroke-width="1.5"/><text class="tl" x="1496.37" y="1175.20" style="font-size:18.30px" textLength="30.13" lengthAdjust="spacingAndGlyphs">-0.8</text><line x1="1485.47" x2="1489.87" y1="1193.05" y2="1193.05" stroke="#000" stroke-width="1.5"/><text class="tl" x="1496.37" y="1194.75" style="font-size:18.30px" textLength="30.13" lengthAdjust="spacingAndGlyphs">-1.0</text><text class="cap" x="962.40" y="1241.50" style="font-size:23.8px" textLength="372.80" lengthAdjust="spacingAndGlyphs">(h)  Short path &amp; Downhill &amp; Elderly</text></g>
</svg></body></html>
